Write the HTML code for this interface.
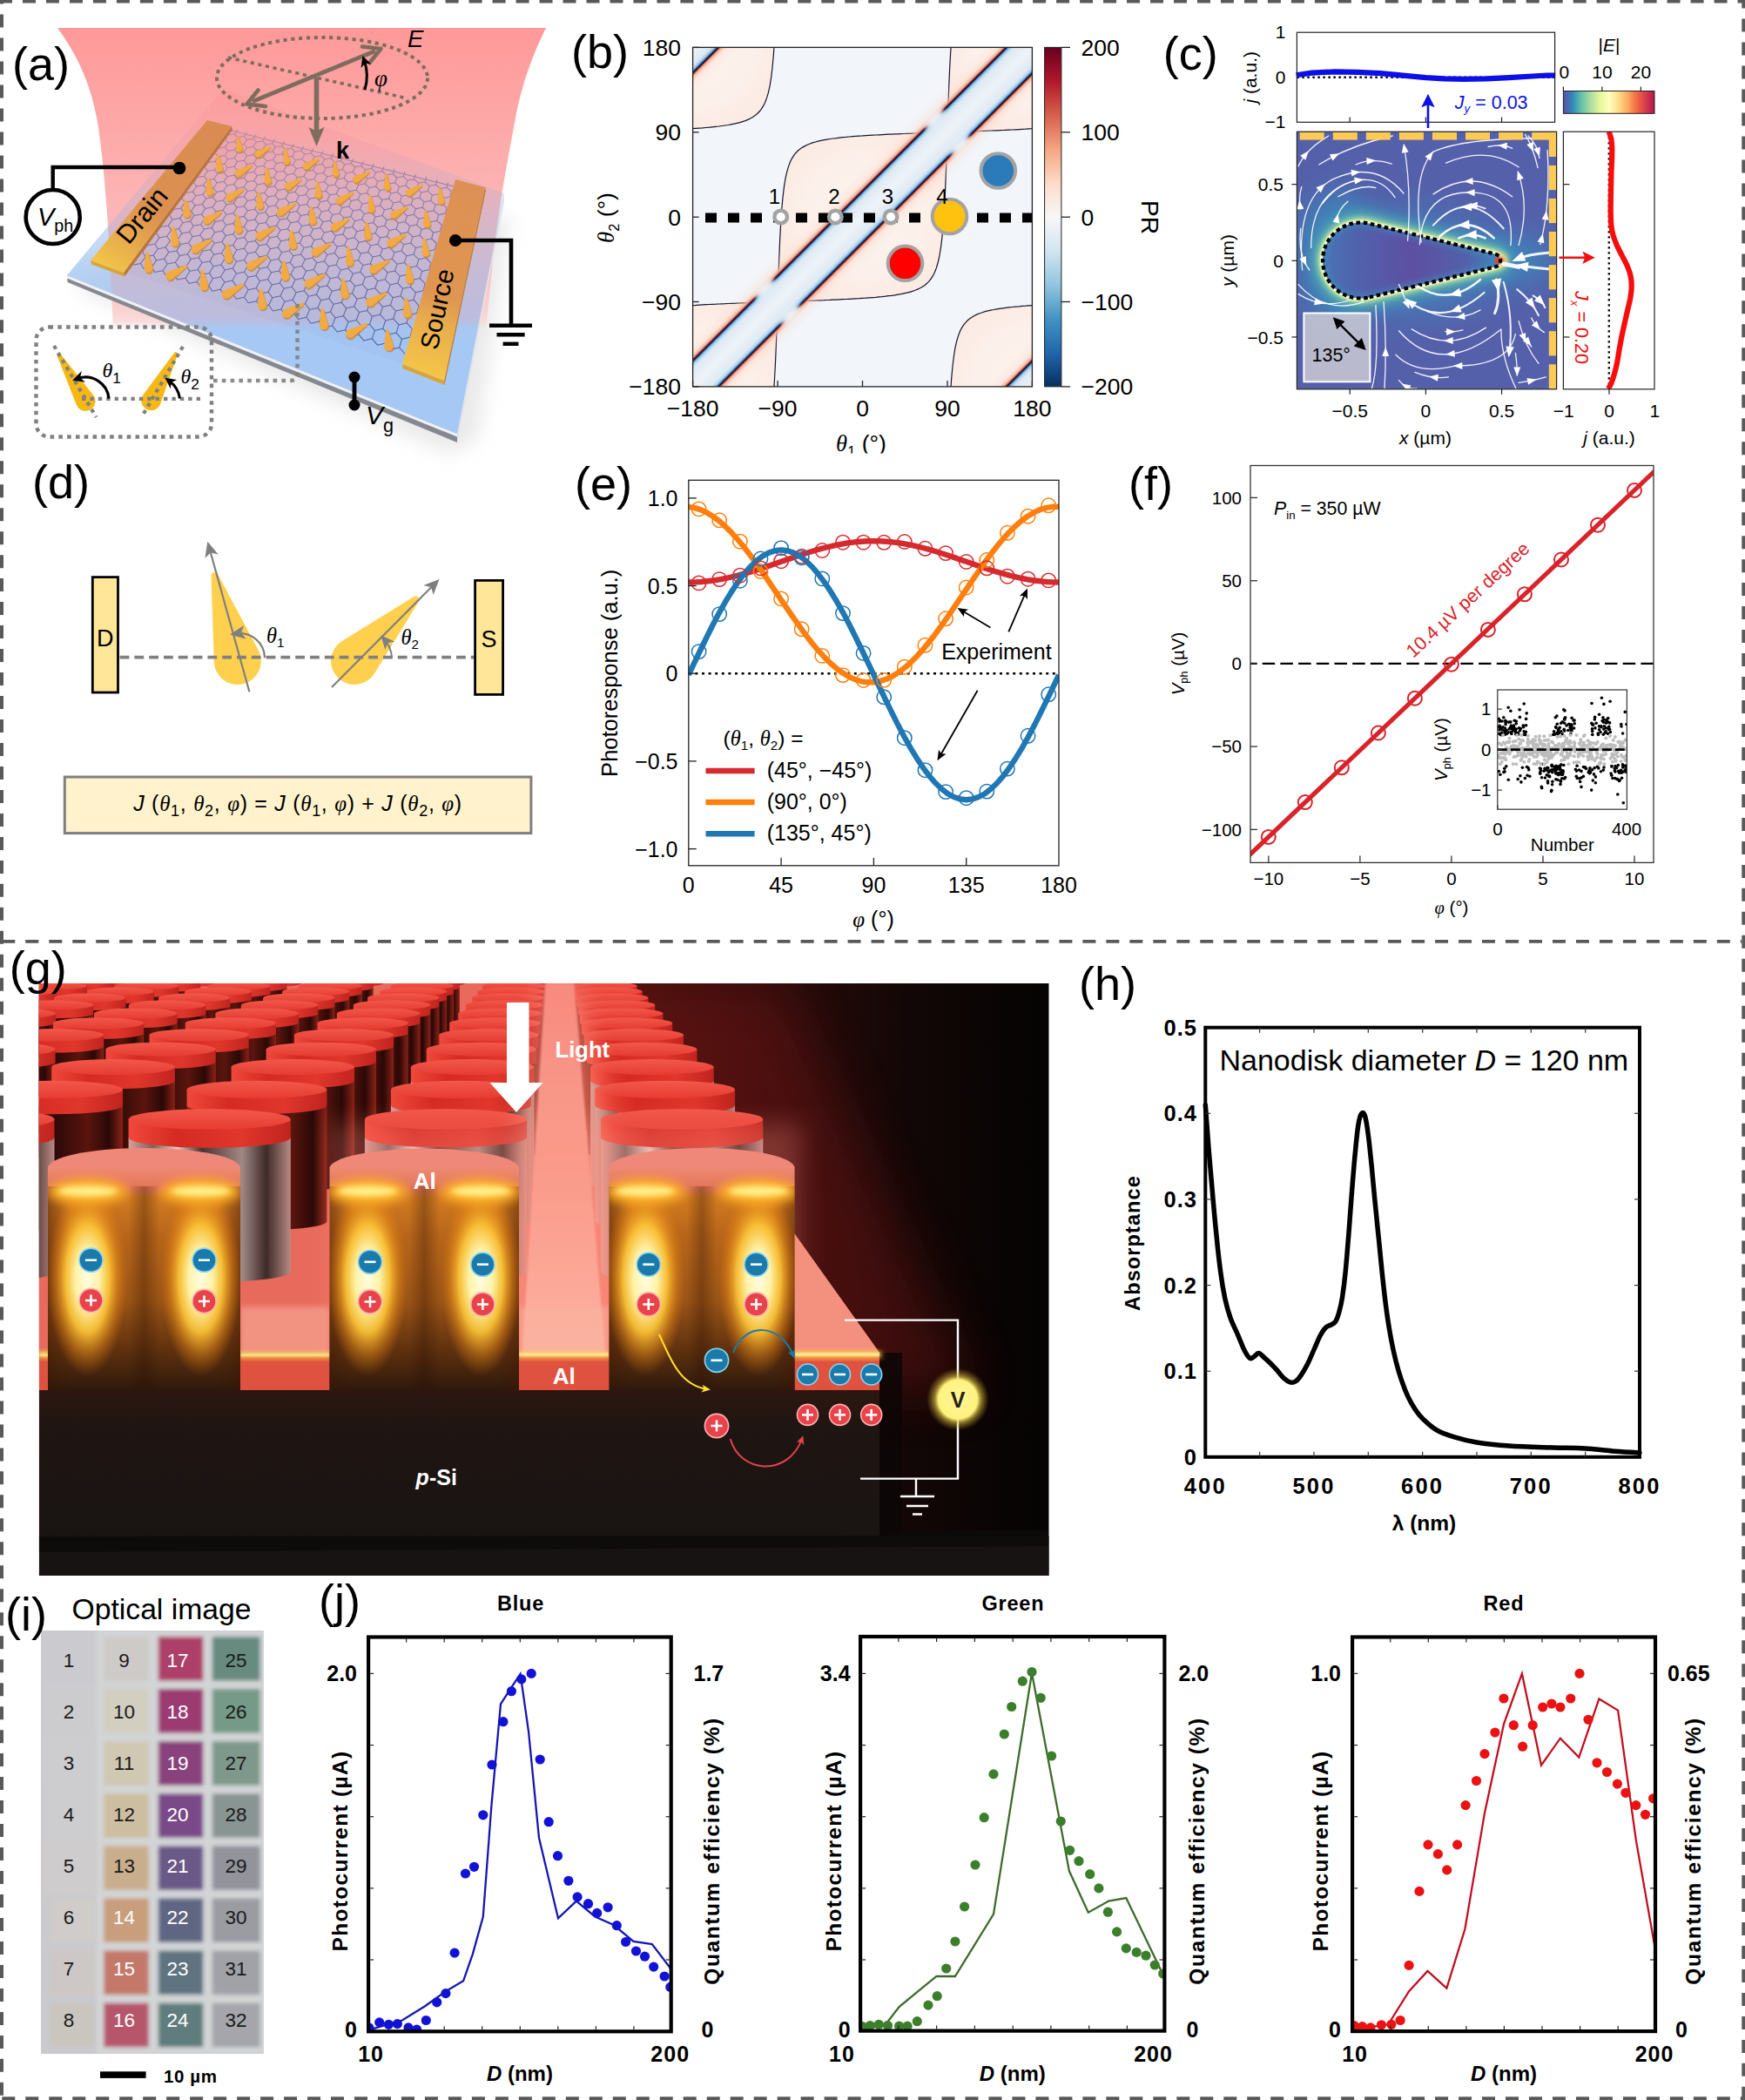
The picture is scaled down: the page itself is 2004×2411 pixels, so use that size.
<!DOCTYPE html>
<html><head><meta charset="utf-8"><title>Figure</title>
<style>
html,body{margin:0;padding:0;background:#fff;}
svg{display:block;font-family:"Liberation Sans", sans-serif;}
</style></head><body>
<svg width="2004" height="2411" viewBox="0 0 2004 2411">
<defs><clipPath id="blabclip"><rect x="900" y="490" width="200" height="30.500"/></clipPath></defs>
<rect width="2004" height="2411" fill="#fff"/>
<g id="frame"><line x1="0" y1="1.6" x2="2004" y2="1.6" stroke="#595959" stroke-width="3.6" stroke-dasharray="15 11.98" stroke-dashoffset="1"/>
<line x1="0" y1="2409.2" x2="2004" y2="2409.2" stroke="#595959" stroke-width="3.8" stroke-dasharray="15 11.98" stroke-dashoffset="-2.3"/>
<line x1="2" y1="0" x2="2" y2="2411" stroke="#595959" stroke-width="4" stroke-dasharray="15 11.98" stroke-dashoffset="-16.6"/>
<line x1="2002.2" y1="0" x2="2002.2" y2="2411" stroke="#595959" stroke-width="3.8" stroke-dasharray="15 11.98" stroke-dashoffset="-21.6"/>
<line x1="4" y1="1080.8" x2="2000" y2="1080.8" stroke="#595959" stroke-width="3.7" stroke-dasharray="15 11.98" stroke-dashoffset="1.7"/></g>
<g id="panel_a"><defs>
<linearGradient id="abeam" x1="0" y1="0" x2="0" y2="1"><stop offset="0" stop-color="#ff9999"/><stop offset="0.45" stop-color="#fdaeae"/><stop offset="0.75" stop-color="#fbbebe"/><stop offset="0.93" stop-color="#fbcfcf"/><stop offset="0.975" stop-color="#fbd6d6" stop-opacity="0.8"/><stop offset="1" stop-color="#fbd8d8" stop-opacity="0"/></linearGradient><linearGradient id="aover" x1="0" y1="0" x2="0" y2="1"><stop offset="0" stop-color="#ff8c8c" stop-opacity="0.3"/><stop offset="0.965" stop-color="#ff8c8c" stop-opacity="0.2"/><stop offset="1" stop-color="#ff8c8c" stop-opacity="0"/></linearGradient><clipPath id="aslabclip"><path d="M77,316 L256,102 L579,222 L525,498Z"/></clipPath>
<linearGradient id="aslab" gradientUnits="userSpaceOnUse" x1="0" y1="110" x2="0" y2="390"><stop offset="0" stop-color="#b4cdf0" stop-opacity="0"/><stop offset="0.18" stop-color="#b2ccf0" stop-opacity="0.12"/><stop offset="0.45" stop-color="#aecaf0" stop-opacity="0.5"/><stop offset="0.72" stop-color="#aac9f2" stop-opacity="0.85"/><stop offset="0.95" stop-color="#a8c8f3" stop-opacity="1"/><stop offset="1" stop-color="#a6c8f4" stop-opacity="1"/></linearGradient>
<linearGradient id="adrain" gradientUnits="userSpaceOnUse" x1="250" y1="140" x2="122" y2="306"><stop offset="0" stop-color="#d98b52"/><stop offset="0.6" stop-color="#dc9150"/><stop offset="0.8" stop-color="#e6a84c"/><stop offset="1" stop-color="#f2c448"/></linearGradient>
<linearGradient id="asrc" gradientUnits="userSpaceOnUse" x1="540" y1="210" x2="486" y2="428"><stop offset="0" stop-color="#dd9054"/><stop offset="0.6" stop-color="#e09650"/><stop offset="0.75" stop-color="#e9ae4c"/><stop offset="1" stop-color="#f4c548"/></linearGradient>
<linearGradient id="ahex" gradientUnits="userSpaceOnUse" x1="0" y1="150" x2="0" y2="420"><stop offset="0" stop-color="#7a6fa0" stop-opacity="0.55"/><stop offset="0.4" stop-color="#5a5c96" stop-opacity="0.8"/><stop offset="1" stop-color="#464e8c" stop-opacity="1"/></linearGradient>
<filter id="abl1" x="-30%" y="-30%" width="160%" height="160%"><feGaussianBlur stdDeviation="11"/></filter>
<filter id="abl2" x="-30%" y="-30%" width="160%" height="160%"><feGaussianBlur stdDeviation="2.5"/></filter>
<filter id="abl3" x="-30%" y="-30%" width="160%" height="160%"><feGaussianBlur stdDeviation="0.7"/></filter>
<marker id="aarr" viewBox="0 0 10 10" refX="5" refY="5" markerWidth="4.2" markerHeight="4.2" orient="auto-start-reverse"><path d="M0,0 L10,5 L0,10 L3,5 Z" fill="#000"/></marker>
</defs>
<path d="M85,330 L300,200 L585,250 L548,505 L515,520Z" fill="#d4d4d4" filter="url(#abl1)" opacity="0.5"/>
<path d="M66,32 L627,32 C612,62 600,95 593,130 C582,190 572,240 566,300 C562,340 560,360 558,378 L130,378 C129,350 127,310 124,260 C121,215 118,180 112,140 C104,95 88,62 66,32 Z" fill="url(#abeam)" />
<path d="M77,316 L525,498 L525,508 L77.5,324Z" fill="#85888f" />
<path d="M77,316 L525,498 L525,501.5 L77,319.5Z" fill="#eef2f6" />
<path d="M525,498 L579,222 L579,231 L525,508Z" fill="#dfe3e8" />
<path d="M77,316 L256,102 L579,222 L525,498Z" fill="url(#aslab)" />
<g clip-path="url(#aslabclip)"><path d="M66,32 L627,32 C612,62 600,95 593,130 C582,190 572,240 566,300 C562,340 560,360 558,378 L130,378 C129,350 127,310 124,260 C121,215 118,180 112,140 C104,95 88,62 66,32 Z" fill="url(#aover)" /></g>
<path d="M266,150 L521,214 L463,418 L146,313Z" fill="#7a6fa8" opacity="0.05"/>
<path d="M266,150 L271.3,151.3 L276.5,152.6 L281.8,154 L287.2,155.3 L292.5,156.7 L297.9,158 L303.3,159.4 L308.7,160.7 L314.2,162.1 L319.6,163.5 L325.1,164.8 L330.6,166.2 L336.1,167.6 L341.7,169 L347.3,170.4 L352.9,171.8 L358.5,173.2 L364.2,174.6 L369.9,176.1 L375.6,177.5 L381.3,178.9 L387,180.4 L392.8,181.8 L398.6,183.3 L404.4,184.7 L410.3,186.2 L416.2,187.7 L422.1,189.2 L428,190.7 L434,192.2 L440,193.7 L446,195.2 L452,196.7 L458.1,198.2 L464.2,199.7 L470.3,201.3 L476.4,202.8 L482.6,204.4 L488.8,205.9 L495,207.5 L501.3,209.1 L507.6,210.6 L513.9,212.2 L520.3,213.8 M273,148.9L269.5,153.8 M283.6,151.5L280.1,156.5 M294.2,154.2L290.8,159.2 M305,156.8L301.6,161.9 M315.8,159.5L312.5,164.7 M326.7,162.3L323.5,167.4 M337.7,165L334.6,170.2 M348.8,167.8L345.8,173 M360,170.6L357,175.9 M371.3,173.4L368.4,178.7 M382.7,176.3L379.9,181.6 M394.2,179.1L391.4,184.6 M405.8,182L403.1,187.5 M417.4,184.9L414.9,190.5 M429.2,187.9L426.8,193.5 M441.1,190.9L438.8,196.5 M453.1,193.9L450.9,199.5 M465.2,196.9L463.1,202.6 M477.5,199.9L475.4,205.7 M489.8,203L487.8,208.9 M502.2,206.1L500.4,212 M514.8,209.3L513,215.2 M262.4,155 L269.5,153.8 L273,157.6 L280.1,156.5 L283.7,160.4 L290.8,159.2 L294.5,163.1 L301.6,161.9 L305.4,165.9 L312.5,164.7 L316.3,168.6 L323.5,167.4 L327.4,171.4 L334.6,170.2 L338.6,174.3 L345.8,173 L349.9,177.1 L357,175.9 L361.2,180 L368.4,178.7 L372.7,182.9 L379.9,181.6 L384.2,185.8 L391.4,184.6 L395.9,188.8 L403.1,187.5 L407.7,191.8 L414.9,190.5 L419.6,194.8 L426.8,193.5 L431.5,197.8 L438.8,196.5 L443.6,200.9 L450.9,199.5 L455.8,204 L463.1,202.6 L468.2,207.1 L475.4,205.7 L480.6,210.2 L487.8,208.9 L493.1,213.4 L500.4,212 L505.8,216.6 L513,215.2 L518.5,219.8 M262.4,155L258.6,160 M273,157.6L269.3,162.7 M283.7,160.4L280.1,165.5 M294.5,163.1L291,168.3 M305.4,165.9L301.9,171.1 M316.3,168.6L313,173.9 M327.4,171.4L324.2,176.7 M338.6,174.3L335.4,179.6 M349.9,177.1L346.8,182.5 M361.2,180L358.2,185.5 M372.7,182.9L369.8,188.4 M384.2,185.8L381.4,191.4 M395.9,188.8L393.2,194.4 M407.7,191.8L405,197.4 M419.6,194.8L417,200.5 M431.5,197.8L429.1,203.6 M443.6,200.9L441.3,206.7 M455.8,204L453.6,209.8 M468.2,207.1L466,213 M480.6,210.2L478.5,216.2 M493.1,213.4L491.1,219.4 M505.8,216.6L503.9,222.7 M518.5,219.8L516.8,226 M258.6,160 L262.1,163.9 L269.3,162.7 L272.9,166.7 L280.1,165.5 L283.7,169.5 L291,168.3 L294.7,172.3 L301.9,171.1 L305.8,175.1 L313,173.9 L316.9,178 L324.2,176.7 L328.1,180.9 L335.4,179.6 L339.5,183.8 L346.8,182.5 L350.9,186.7 L358.2,185.5 L362.5,189.7 L369.8,188.4 L374.1,192.7 L381.4,191.4 L385.9,195.7 L393.2,194.4 L397.7,198.8 L405,197.4 L409.7,201.8 L417,200.5 L421.8,204.9 L429.1,203.6 L433.9,208.1 L441.3,206.7 L446.2,211.2 L453.6,209.8 L458.6,214.4 L466,213 L471.1,217.6 L478.5,216.2 L483.8,220.9 L491.1,219.4 L496.5,224.1 L503.9,222.7 L509.4,227.4 L516.8,226 M262.1,163.9L258.3,169.1 M272.9,166.7L269.2,171.9 M283.7,169.5L280.1,174.8 M294.7,172.3L291.2,177.6 M305.8,175.1L302.3,180.5 M316.9,178L313.5,183.4 M328.1,180.9L324.8,186.4 M339.5,183.8L336.3,189.3 M350.9,186.7L347.8,192.3 M362.5,189.7L359.4,195.3 M374.1,192.7L371.2,198.4 M385.9,195.7L383,201.4 M397.7,198.8L395,204.5 M409.7,201.8L407,207.7 M421.8,204.9L419.2,210.8 M433.9,208.1L431.5,214 M446.2,211.2L443.8,217.2 M458.6,214.4L456.3,220.5 M471.1,217.6L469,223.7 M483.8,220.9L481.7,227 M496.5,224.1L494.6,230.4 M509.4,227.4L507.5,233.7 M251,170.3 L258.3,169.1 L261.9,173.2 L269.2,171.9 L272.8,176 L280.1,174.8 L283.8,178.9 L291.2,177.6 L294.9,181.8 L302.3,180.5 L306.2,184.7 L313.5,183.4 L317.5,187.6 L324.8,186.4 L328.9,190.6 L336.3,189.3 L340.4,193.6 L347.8,192.3 L352,196.7 L359.4,195.3 L363.8,199.7 L371.2,198.4 L375.6,202.8 L383,201.4 L387.5,205.9 L395,204.5 L399.6,209 L407,207.7 L411.7,212.2 L419.2,210.8 L424,215.4 L431.5,214 L436.4,218.6 L443.8,217.2 L448.9,221.9 L456.3,220.5 L461.5,225.2 L469,223.7 L474.2,228.5 L481.7,227 L487.1,231.8 L494.6,230.4 L500.1,235.2 L507.5,233.7 L513.2,238.6 M251,170.3L247.1,175.6 M261.9,173.2L258,178.5 M272.8,176L269,181.4 M283.8,178.9L280.2,184.3 M294.9,181.8L291.4,187.3 M306.2,184.7L302.7,190.2 M317.5,187.6L314.1,193.2 M328.9,190.6L325.6,196.3 M340.4,193.6L337.2,199.3 M352,196.7L348.9,202.4 M363.8,199.7L360.7,205.5 M375.6,202.8L372.6,208.6 M387.5,205.9L384.6,211.8 M399.6,209L396.8,215 M411.7,212.2L409,218.2 M424,215.4L421.4,221.5 M436.4,218.6L433.9,224.8 M448.9,221.9L446.5,228.1 M461.5,225.2L459.2,231.4 M474.2,228.5L472.1,234.8 M487.1,231.8L485,238.2 M500.1,235.2L498.1,241.7 M513.2,238.6L511.3,245.1 M247.1,175.6 L250.6,179.8 L258,178.5 L261.6,182.7 L269,181.4 L272.7,185.6 L280.2,184.3 L283.9,188.6 L291.4,187.3 L295.2,191.5 L302.7,190.2 L306.6,194.6 L314.1,193.2 L318.1,197.6 L325.6,196.3 L329.7,200.7 L337.2,199.3 L341.4,203.7 L348.9,202.4 L353.2,206.9 L360.7,205.5 L365.1,210 L372.6,208.6 L377.1,213.2 L384.6,211.8 L389.3,216.4 L396.8,215 L401.5,219.6 L409,218.2 L413.9,222.9 L421.4,221.5 L426.3,226.2 L433.9,224.8 L438.9,229.5 L446.5,228.1 L451.7,232.9 L459.2,231.4 L464.5,236.3 L472.1,234.8 L477.4,239.7 L485,238.2 L490.5,243.2 L498.1,241.7 L503.7,246.7 L511.3,245.1 M250.6,179.8L246.7,185.2 M261.6,182.7L257.7,188.2 M272.7,185.6L268.9,191.2 M283.9,188.6L280.2,194.2 M295.2,191.5L291.5,197.2 M306.6,194.6L303,200.3 M318.1,197.6L314.6,203.4 M329.7,200.7L326.3,206.5 M341.4,203.7L338.1,209.6 M353.2,206.9L350,212.8 M365.1,210L362,216 M377.1,213.2L374.1,219.2 M389.3,216.4L386.3,222.5 M401.5,219.6L398.7,225.8 M413.9,222.9L411.1,229.1 M426.3,226.2L423.7,232.5 M438.9,229.5L436.4,235.9 M451.7,232.9L449.2,239.3 M464.5,236.3L462.2,242.8 M477.4,239.7L475.2,246.2 M490.5,243.2L488.4,249.8 M503.7,246.7L501.8,253.3 M239.1,186.5 L246.7,185.2 L250.2,189.5 L257.7,188.2 L261.4,192.5 L268.9,191.2 L272.6,195.5 L280.2,194.2 L284,198.5 L291.5,197.2 L295.4,201.6 L303,200.3 L307,204.7 L314.6,203.4 L318.7,207.8 L326.3,206.5 L330.5,211 L338.1,209.6 L342.4,214.2 L350,212.8 L354.4,217.4 L362,216 L366.5,220.7 L374.1,219.2 L378.7,223.9 L386.3,222.5 L391,227.3 L398.7,225.8 L403.5,230.6 L411.1,229.1 L416.1,234 L423.7,232.5 L428.8,237.4 L436.4,235.9 L441.6,240.8 L449.2,239.3 L454.5,244.3 L462.2,242.8 L467.6,247.8 L475.2,246.2 L480.7,251.3 L488.4,249.8 L494.1,254.9 L501.8,253.3 L507.5,258.5 M239.1,186.5L235,192.1 M250.2,189.5L246.2,195.1 M261.4,192.5L257.4,198.1 M272.6,195.5L268.8,201.2 M284,198.5L280.2,204.3 M295.4,201.6L291.7,207.4 M307,204.7L303.4,210.6 M318.7,207.8L315.2,213.8 M330.5,211L327,217 M342.4,214.2L339,220.3 M354.4,217.4L351.1,223.5 M366.5,220.7L363.3,226.8 M378.7,223.9L375.6,230.2 M391,227.3L388.1,233.5 M403.5,230.6L400.6,237 M416.1,234L413.3,240.4 M428.8,237.4L426.1,243.9 M441.6,240.8L439,247.4 M454.5,244.3L452.1,250.9 M467.6,247.8L465.2,254.5 M480.7,251.3L478.5,258.1 M494.1,254.9L492,261.7 M507.5,258.5L505.5,265.4 M235,192.1 L238.5,196.4 L246.2,195.1 L249.8,199.5 L257.4,198.1 L261.1,202.6 L268.8,201.2 L272.5,205.7 L280.2,204.3 L284.1,208.8 L291.7,207.4 L295.7,212 L303.4,210.6 L307.5,215.2 L315.2,213.8 L319.3,218.4 L327,217 L331.3,221.7 L339,220.3 L343.4,225 L351.1,223.5 L355.6,228.3 L363.3,226.8 L367.9,231.7 L375.6,230.2 L380.3,235 L388.1,233.5 L392.9,238.5 L400.6,237 L405.5,241.9 L413.3,240.4 L418.3,245.4 L426.1,243.9 L431.2,248.9 L439,247.4 L444.3,252.5 L452.1,250.9 L457.4,256 L465.2,254.5 L470.7,259.7 L478.5,258.1 L484.2,263.3 L492,261.7 L497.7,267 L505.5,265.4 M238.5,196.4L234.3,202.2 M249.8,199.5L245.7,205.3 M261.1,202.6L257.1,208.4 M272.5,205.7L268.6,211.6 M284.1,208.8L280.2,214.8 M295.7,212L292,218 M307.5,215.2L303.8,221.3 M319.3,218.4L315.8,224.6 M331.3,221.7L327.8,227.9 M343.4,225L340,231.2 M355.6,228.3L352.3,234.6 M367.9,231.7L364.7,238 M380.3,235L377.2,241.5 M392.9,238.5L389.9,245 M405.5,241.9L402.7,248.5 M418.3,245.4L415.6,252 M431.2,248.9L428.6,255.6 M444.3,252.5L441.7,259.2 M457.4,256L455,262.9 M470.7,259.7L468.4,266.6 M484.2,263.3L481.9,270.3 M497.7,267L495.6,274 M226.6,203.5 L234.3,202.2 L237.9,206.7 L245.7,205.3 L249.3,209.8 L257.1,208.4 L260.8,213 L268.6,211.6 L272.4,216.2 L280.2,214.8 L284.2,219.4 L292,218 L296,222.7 L303.8,221.3 L307.9,226 L315.8,224.6 L320,229.3 L327.8,227.9 L332.2,232.7 L340,231.2 L344.4,236.1 L352.3,234.6 L356.8,239.5 L364.7,238 L369.4,243 L377.2,241.5 L382,246.5 L389.9,245 L394.8,250 L402.7,248.5 L407.7,253.6 L415.6,252 L420.7,257.2 L428.6,255.6 L433.8,260.8 L441.7,259.2 L447.1,264.5 L455,262.9 L460.5,268.2 L468.4,266.6 L474,271.9 L481.9,270.3 L487.7,275.7 L495.6,274 L501.5,279.5 M226.6,203.5L222.3,209.4 M237.9,206.7L233.6,212.6 M249.3,209.8L245.1,215.8 M260.8,213L256.7,219 M272.4,216.2L268.4,222.3 M284.2,219.4L280.2,225.6 M296,222.7L292.2,228.9 M307.9,226L304.2,232.3 M320,229.3L316.4,235.7 M332.2,232.7L328.6,239.1 M344.4,236.1L341,242.6 M356.8,239.5L353.5,246.1 M369.4,243L366.1,249.6 M382,246.5L378.9,253.2 M394.8,250L391.7,256.7 M407.7,253.6L404.7,260.4 M420.7,257.2L417.9,264 M433.8,260.8L431.1,267.7 M447.1,264.5L444.5,271.5 M460.5,268.2L458,275.3 M474,271.9L471.7,279.1 M487.7,275.7L485.5,282.9 M501.5,279.5L499.4,286.8 M222.3,209.4 L225.8,214 L233.6,212.6 L237.2,217.2 L245.1,215.8 L248.8,220.5 L256.7,219 L260.5,223.7 L268.4,222.3 L272.3,227.1 L280.2,225.6 L284.2,230.4 L292.2,228.9 L296.3,233.8 L304.2,232.3 L308.4,237.2 L316.4,235.7 L320.7,240.6 L328.6,239.1 L333,244.1 L341,242.6 L345.5,247.6 L353.5,246.1 L358.1,251.2 L366.1,249.6 L370.9,254.7 L378.9,253.2 L383.7,258.3 L391.7,256.7 L396.7,262 L404.7,260.4 L409.8,265.7 L417.9,264 L423.1,269.4 L431.1,267.7 L436.5,273.1 L444.5,271.5 L450,276.9 L458,275.3 L463.6,280.8 L471.7,279.1 L477.4,284.6 L485.5,282.9 L491.3,288.6 L499.4,286.8 M225.8,214L221.4,220.1 M237.2,217.2L232.9,223.3 M248.8,220.5L244.6,226.6 M260.5,223.7L256.4,230 M272.3,227.1L268.3,233.4 M284.2,230.4L280.3,236.8 M296.3,233.8L292.4,240.2 M308.4,237.2L304.6,243.7 M320.7,240.6L317,247.2 M333,244.1L329.5,250.7 M345.5,247.6L342.1,254.3 M358.1,251.2L354.8,257.9 M370.9,254.7L367.6,261.5 M383.7,258.3L380.6,265.2 M396.7,262L393.7,268.9 M409.8,265.7L406.9,272.7 M423.1,269.4L420.3,276.5 M436.5,273.1L433.8,280.3 M450,276.9L447.4,284.2 M463.6,280.8L461.2,288.1 M477.4,284.6L475.1,292 M491.3,288.6L489.1,296 M213.4,221.5 L221.4,220.1 L224.9,224.8 L232.9,223.3 L236.6,228.1 L244.6,226.6 L248.4,231.5 L256.4,230 L260.2,234.9 L268.3,233.4 L272.2,238.3 L280.3,236.8 L284.3,241.7 L292.4,240.2 L296.6,245.2 L304.6,243.7 L308.9,248.7 L317,247.2 L321.4,252.3 L329.5,250.7 L333.9,255.9 L342.1,254.3 L346.7,259.5 L354.8,257.9 L359.5,263.2 L367.6,261.5 L372.4,266.9 L380.6,265.2 L385.5,270.6 L393.7,268.9 L398.8,274.4 L406.9,272.7 L412.1,278.2 L420.3,276.5 L425.6,282 L433.8,280.3 L439.2,285.9 L447.4,284.2 L453,289.8 L461.2,288.1 L466.9,293.8 L475.1,292 L480.9,297.8 L489.1,296 L495.1,301.8 M213.4,221.5L208.8,227.7 M224.9,224.8L220.4,231 M236.6,228.1L232.2,234.4 M248.4,231.5L244,237.8 M260.2,234.9L256,241.3 M272.2,238.3L268.1,244.8 M284.3,241.7L280.3,248.3 M296.6,245.2L292.6,251.9 M308.9,248.7L305.1,255.4 M321.4,252.3L317.6,259.1 M333.9,255.9L330.3,262.7 M346.7,259.5L343.1,266.4 M359.5,263.2L356.1,270.1 M372.4,266.9L369.1,273.9 M385.5,270.6L382.3,277.7 M398.8,274.4L395.7,281.6 M412.1,278.2L409.1,285.4 M425.6,282L422.7,289.4 M439.2,285.9L436.5,293.3 M453,289.8L450.4,297.3 M466.9,293.8L464.4,301.4 M480.9,297.8L478.6,305.5 M495.1,301.8L492.9,309.6 M208.8,227.7 L212.3,232.5 L220.4,231 L224,235.9 L232.2,234.4 L235.9,239.4 L244,237.8 L247.9,242.8 L256,241.3 L259.9,246.3 L268.1,244.8 L272.1,249.9 L280.3,248.3 L284.4,253.4 L292.6,251.9 L296.9,257 L305.1,255.4 L309.4,260.7 L317.6,259.1 L322.1,264.3 L330.3,262.7 L334.9,268 L343.1,266.4 L347.8,271.8 L356.1,270.1 L360.9,275.6 L369.1,273.9 L374.1,279.4 L382.3,277.7 L387.4,283.3 L395.7,281.6 L400.9,287.2 L409.1,285.4 L414.4,291.1 L422.7,289.4 L428.2,295.1 L436.5,293.3 L442.1,299.1 L450.4,297.3 L456.1,303.2 L464.4,301.4 L470.3,307.3 L478.6,305.5 L484.6,311.4 L492.9,309.6 M212.3,232.5L207.7,238.9 M224,235.9L219.5,242.4 M235.9,239.4L231.4,245.9 M247.9,242.8L243.5,249.4 M259.9,246.3L255.6,253 M272.1,249.9L267.9,256.6 M284.4,253.4L280.3,260.2 M296.9,257L292.9,263.9 M309.4,260.7L305.5,267.6 M322.1,264.3L318.3,271.3 M334.9,268L331.2,275.1 M347.8,271.8L344.2,278.9 M360.9,275.6L357.4,282.8 M374.1,279.4L370.7,286.7 M387.4,283.3L384.2,290.6 M400.9,287.2L397.7,294.6 M414.4,291.1L411.5,298.6 M428.2,295.1L425.3,302.7 M442.1,299.1L439.3,306.8 M456.1,303.2L453.5,310.9 M470.3,307.3L467.8,315.1 M484.6,311.4L482.2,319.4 M199.4,240.5 L207.7,238.9 L211.2,243.9 L219.5,242.4 L223.1,247.4 L231.4,245.9 L235.2,251 L243.5,249.4 L247.3,254.6 L255.6,253 L259.6,258.2 L267.9,256.6 L272,261.8 L280.3,260.2 L284.5,265.5 L292.9,263.9 L297.2,269.2 L305.5,267.6 L309.9,273 L318.3,271.3 L322.8,276.8 L331.2,275.1 L335.9,280.6 L344.2,278.9 L349,284.5 L357.4,282.8 L362.3,288.4 L370.7,286.7 L375.7,292.4 L384.2,290.6 L389.3,296.4 L397.7,294.6 L403,300.4 L411.5,298.6 L416.9,304.5 L425.3,302.7 L430.9,308.6 L439.3,306.8 L445,312.8 L453.5,310.9 L459.3,317 L467.8,315.1 L473.7,321.3 L482.2,319.4 L488.3,325.6 M199.4,240.5L194.6,247 M211.2,243.9L206.5,250.6 M223.1,247.4L218.5,254.1 M235.2,251L230.6,257.7 M247.3,254.6L242.9,261.4 M259.6,258.2L255.2,265.1 M272,261.8L267.7,268.8 M284.5,265.5L280.4,272.6 M297.2,269.2L293.1,276.4 M309.9,273L306,280.2 M322.8,276.8L319,284.1 M335.9,280.6L332.1,288 M349,284.5L345.4,291.9 M362.3,288.4L358.8,295.9 M375.7,292.4L372.4,300 M389.3,296.4L386,304 M403,300.4L399.9,308.1 M416.9,304.5L413.8,312.3 M430.9,308.6L428,316.5 M445,312.8L442.2,320.8 M459.3,317L456.7,325.1 M473.7,321.3L471.3,329.4 M488.3,325.6L486,333.8 M194.6,247 L198.1,252.1 L206.5,250.6 L210.1,255.7 L218.5,254.1 L222.2,259.3 L230.6,257.7 L234.4,263 L242.9,261.4 L246.8,266.7 L255.2,265.1 L259.3,270.4 L267.7,268.8 L271.9,274.2 L280.4,272.6 L284.6,278 L293.1,276.4 L297.5,281.9 L306,280.2 L310.5,285.8 L319,284.1 L323.6,289.7 L332.1,288 L336.9,293.7 L345.4,291.9 L350.3,297.7 L358.8,295.9 L363.8,301.7 L372.4,300 L377.5,305.8 L386,304 L391.3,310 L399.9,308.1 L405.3,314.2 L413.8,312.3 L419.4,318.4 L428,316.5 L433.7,322.7 L442.2,320.8 L448.1,327 L456.7,325.1 L462.6,331.3 L471.3,329.4 L477.4,335.8 L486,333.8 M198.1,252.1L193.2,258.9 M210.1,255.7L205.3,262.6 M222.2,259.3L217.5,266.3 M234.4,263L229.8,270 M246.8,266.7L242.3,273.8 M259.3,270.4L254.8,277.6 M271.9,274.2L267.6,281.4 M284.6,278L280.4,285.3 M297.5,281.9L293.4,289.2 M310.5,285.8L306.5,293.2 M323.6,289.7L319.7,297.2 M336.9,293.7L333.1,301.3 M350.3,297.7L346.6,305.4 M363.8,301.7L360.2,309.5 M377.5,305.8L374,313.7 M391.3,310L388,317.9 M405.3,314.2L402.1,322.2 M419.4,318.4L416.3,326.5 M433.7,322.7L430.7,330.8 M448.1,327L445.3,335.3 M462.6,331.3L460,339.7 M477.4,335.8L474.9,344.2 M184.6,260.5 L193.2,258.9 L196.7,264.2 L205.3,262.6 L208.9,267.9 L217.5,266.3 L221.2,271.7 L229.8,270 L233.7,275.4 L242.3,273.8 L246.3,279.3 L254.8,277.6 L259,283.1 L267.6,281.4 L271.8,287 L280.4,285.3 L284.7,291 L293.4,289.2 L297.8,295 L306.5,293.2 L311.1,299 L319.7,297.2 L324.4,303.1 L333.1,301.3 L337.9,307.2 L346.6,305.4 L351.6,311.3 L360.2,309.5 L365.4,315.5 L374,313.7 L379.3,319.8 L388,317.9 L393.4,324.1 L402.1,322.2 L407.6,328.4 L416.3,326.5 L422,332.8 L430.7,330.8 L436.5,337.2 L445.3,335.3 L451.2,341.7 L460,339.7 L466.1,346.2 L474.9,344.2 L481.1,350.8 M184.6,260.5L179.5,267.5 M196.7,264.2L191.7,271.2 M208.9,267.9L204,275 M221.2,271.7L216.4,278.8 M233.7,275.4L229,282.7 M246.3,279.3L241.6,286.6 M259,283.1L254.4,290.5 M271.8,287L267.4,294.5 M284.7,291L280.4,298.5 M297.8,295L293.6,302.6 M311.1,299L307,306.7 M324.4,303.1L320.4,310.9 M337.9,307.2L334.1,315.1 M351.6,311.3L347.8,319.3 M365.4,315.5L361.7,323.6 M379.3,319.8L375.8,327.9 M393.4,324.1L390,332.3 M407.6,328.4L404.4,336.7 M422,332.8L418.9,341.2 M436.5,337.2L433.6,345.7 M451.2,341.7L448.4,350.3 M466.1,346.2L463.5,354.9 M481.1,350.8L478.6,359.6 M179.5,267.5 L183,272.9 L191.7,271.2 L195.3,276.7 L204,275 L207.7,280.5 L216.4,278.8 L220.2,284.4 L229,282.7 L232.9,288.3 L241.6,286.6 L245.7,292.3 L254.4,290.5 L258.6,296.3 L267.4,294.5 L271.7,300.3 L280.4,298.5 L284.8,304.4 L293.6,302.6 L298.2,308.5 L307,306.7 L311.6,312.7 L320.4,310.9 L325.2,316.9 L334.1,315.1 L339,321.2 L347.8,319.3 L352.9,325.5 L361.7,323.6 L367,329.8 L375.8,327.9 L381.2,334.2 L390,332.3 L395.5,338.7 L404.4,336.7 L410,343.2 L418.9,341.2 L424.7,347.7 L433.6,345.7 L439.5,352.3 L448.4,350.3 L454.5,357 L463.5,354.9 L469.7,361.7 L478.6,359.6 M183,272.9L177.8,280.1 M195.3,276.7L190.2,283.9 M207.7,280.5L202.7,287.9 M220.2,284.4L215.3,291.8 M232.9,288.3L228.1,295.8 M245.7,292.3L241,299.9 M258.6,296.3L254,303.9 M271.7,300.3L267.2,308.1 M284.8,304.4L280.5,312.2 M298.2,308.5L293.9,316.4 M311.6,312.7L307.5,320.7 M325.2,316.9L321.2,325 M339,321.2L335.1,329.3 M352.9,325.5L349.1,333.7 M367,329.8L363.3,338.2 M381.2,334.2L377.6,342.7 M395.5,338.7L392.1,347.2 M410,343.2L406.8,351.8 M424.7,347.7L421.6,356.5 M439.5,352.3L436.6,361.2 M454.5,357L451.7,365.9 M469.7,361.7L467,370.7 M169,281.8 L177.8,280.1 L181.4,285.7 L190.2,283.9 L193.8,289.6 L202.7,287.9 L206.5,293.6 L215.3,291.8 L219.2,297.6 L228.1,295.8 L232.1,301.6 L241,299.9 L245.1,305.8 L254,303.9 L258.2,309.9 L267.2,308.1 L271.5,314.1 L280.5,312.2 L285,318.3 L293.9,316.4 L298.5,322.6 L307.5,320.7 L312.2,326.9 L321.2,325 L326.1,331.3 L335.1,329.3 L340.1,335.7 L349.1,333.7 L354.3,340.2 L363.3,338.2 L368.6,344.7 L377.6,342.7 L383.1,349.3 L392.1,347.2 L397.7,353.9 L406.8,351.8 L412.5,358.5 L421.6,356.5 L427.5,363.3 L436.6,361.2 L442.7,368 L451.7,365.9 L458,372.9 L467,370.7 L473.4,377.7 M169,281.8L163.6,289.1 M181.4,285.7L176,293.1 M193.8,289.6L188.6,297.1 M206.5,293.6L201.3,301.2 M219.2,297.6L214.2,305.3 M232.1,301.6L227.2,309.4 M245.1,305.8L240.3,313.6 M258.2,309.9L253.5,317.8 M271.5,314.1L266.9,322.1 M285,318.3L280.5,326.4 M298.5,322.6L294.2,330.8 M312.2,326.9L308,335.2 M326.1,331.3L322,339.7 M340.1,335.7L336.2,344.2 M354.3,340.2L350.5,348.7 M368.6,344.7L364.9,353.4 M383.1,349.3L379.5,358 M397.7,353.9L394.3,362.7 M412.5,358.5L409.3,367.5 M427.5,363.3L424.4,372.3 M442.7,368L439.7,377.2 M458,372.9L455.1,382.1 M473.4,377.7L470.8,387.1 M163.6,289.1 L167.1,294.9 L176,293.1 L179.6,298.9 L188.6,297.1 L192.3,303 L201.3,301.2 L205.2,307.1 L214.2,305.3 L218.1,311.3 L227.2,309.4 L231.2,315.5 L240.3,313.6 L244.5,319.7 L253.5,317.8 L257.9,324 L266.9,322.1 L271.4,328.4 L280.5,326.4 L285.1,332.7 L294.2,330.8 L298.9,337.2 L308,335.2 L312.9,341.7 L322,339.7 L327,346.2 L336.2,344.2 L341.3,350.8 L350.5,348.7 L355.7,355.4 L364.9,353.4 L370.3,360.1 L379.5,358 L385.1,364.8 L394.3,362.7 L400.1,369.6 L409.3,367.5 L415.2,374.5 L424.4,372.3 L430.4,379.4 L439.7,377.2 L445.9,384.3 L455.1,382.1 L461.5,389.4 L470.8,387.1 M167.1,294.9L161.5,302.5 M179.6,298.9L174.2,306.6 M192.3,303L187,310.8 M205.2,307.1L199.9,315 M218.1,311.3L213,319.2 M231.2,315.5L226.2,323.5 M244.5,319.7L239.6,327.9 M257.9,324L253.1,332.2 M271.4,328.4L266.7,336.7 M285.1,332.7L280.5,341.2 M298.9,337.2L294.5,345.7 M312.9,341.7L308.6,350.3 M327,346.2L322.8,354.9 M341.3,350.8L337.3,359.6 M355.7,355.4L351.8,364.3 M370.3,360.1L366.6,369.1 M385.1,364.8L381.5,373.9 M400.1,369.6L396.6,378.8 M415.2,374.5L411.8,383.8 M430.4,379.4L427.3,388.8 M445.9,384.3L442.9,393.9 M461.5,389.4L458.7,399 M152.4,304.3 L161.5,302.5 L165,308.5 L174.2,306.6 L177.8,312.6 L187,310.8 L190.8,316.9 L199.9,315 L203.8,321.1 L213,319.2 L217,325.4 L226.2,323.5 L230.4,329.8 L239.6,327.9 L243.8,334.2 L253.1,332.2 L257.5,338.7 L266.7,336.7 L271.3,343.2 L280.5,341.2 L285.2,347.7 L294.5,345.7 L299.3,352.3 L308.6,350.3 L313.5,357 L322.8,354.9 L327.9,361.7 L337.3,359.6 L342.5,366.4 L351.8,364.3 L357.2,371.2 L366.6,369.1 L372.1,376.1 L381.5,373.9 L387.2,381 L396.6,378.8 L402.5,386 L411.8,383.8 L417.9,391.1 L427.3,388.8 L433.5,396.2 L442.9,393.9 L449.3,401.3 L458.7,399 L465.2,406.5" fill="none" stroke="url(#ahex)" stroke-width="1.05" opacity="0.9" stroke-linejoin="round"/>
<path d="M279.7,171.8 L275.6,159.1 A1.1,1.1 0 0 0 273.5,159.3 L272.2,172.6 A3.8,3.8 0 1 0 279.7,171.8Z" fill="#c98a3c" opacity="0.8"/>
<path d="M278.5,169.8 L274.5,157.3 A1.1,1.1 0 0 0 272.4,157.5 L271,170.6 A3.8,3.8 0 1 0 278.5,169.8Z" fill="#f2aa44" />
<path d="M299.9,181.5 L311.3,170.6 A1.1,1.1 0 0 0 310.2,168.8 L295.7,175.2 A3.9,3.9 0 1 0 299.9,181.5Z" fill="#c98a3c" opacity="0.8"/>
<path d="M298.7,179.6 L311.3,169.3 A1.1,1.1 0 0 0 310.2,167.5 L294.9,172.9 A3.9,3.9 0 1 0 298.7,179.6Z" fill="#f2aa44" />
<path d="M333.9,185.8 L329.8,172.9 A1.1,1.1 0 0 0 327.6,173.1 L326.3,186.6 A3.9,3.9 0 1 0 333.9,185.8Z" fill="#c98a3c" opacity="0.8"/>
<path d="M332.7,183.8 L328.7,171.1 A1.1,1.1 0 0 0 326.6,171.3 L325.1,184.5 A3.9,3.9 0 1 0 332.7,183.8Z" fill="#f2aa44" />
<path d="M355.2,195.8 L366.8,184.8 A1.1,1.1 0 0 0 365.6,183 L350.9,189.4 A3.9,3.9 0 1 0 355.2,195.8Z" fill="#c98a3c" opacity="0.8"/>
<path d="M354,193.8 L366.7,183.5 A1.1,1.1 0 0 0 365.7,181.6 L350.2,187.1 A3.9,3.9 0 1 0 354,193.8Z" fill="#f2aa44" />
<path d="M390.5,200.3 L386.3,187.3 A1.1,1.1 0 0 0 384.2,187.5 L382.8,201.1 A3.9,3.9 0 1 0 390.5,200.3Z" fill="#c98a3c" opacity="0.8"/>
<path d="M389.3,198.3 L385.2,185.5 A1.1,1.1 0 0 0 383.1,185.7 L381.6,199.1 A3.9,3.9 0 1 0 389.3,198.3Z" fill="#f2aa44" />
<path d="M412.9,210.7 L424.7,199.6 A1.1,1.1 0 0 0 423.5,197.7 L408.6,204.2 A4,4 0 1 0 412.9,210.7Z" fill="#c98a3c" opacity="0.8"/>
<path d="M411.7,208.7 L424.6,198.2 A1.1,1.1 0 0 0 423.6,196.3 L407.9,201.9 A4,4 0 1 0 411.7,208.7Z" fill="#f2aa44" />
<path d="M449.6,215.5 L445.4,202.4 A1.1,1.1 0 0 0 443.2,202.6 L441.8,216.3 A4,4 0 1 0 449.6,215.5Z" fill="#c98a3c" opacity="0.8"/>
<path d="M448.4,213.5 L444.3,200.5 A1.1,1.1 0 0 0 442.1,200.7 L440.6,214.3 A4,4 0 1 0 448.4,213.5Z" fill="#f2aa44" />
<path d="M473.3,226.3 L485.2,215 A1.1,1.1 0 0 0 484,213.2 L469,219.7 A4,4 0 1 0 473.3,226.3Z" fill="#c98a3c" opacity="0.8"/>
<path d="M472.1,224.3 L485.2,213.7 A1.1,1.1 0 0 0 484.1,211.8 L468.2,217.4 A4,4 0 1 0 472.1,224.3Z" fill="#f2aa44" />
<path d="M511.4,231.4 L507.2,218.1 A1.1,1.1 0 0 0 505,218.3 L503.6,232.2 A4,4 0 1 0 511.4,231.4Z" fill="#c98a3c" opacity="0.8"/>
<path d="M510.2,229.4 L506,216.2 A1.1,1.1 0 0 0 503.8,216.5 L502.4,230.2 A4,4 0 1 0 510.2,229.4Z" fill="#f2aa44" />
<path d="M256.9,193.7 L252.6,180.3 A1.1,1.1 0 0 0 250.4,180.5 L249,194.5 A4.1,4.1 0 1 0 256.9,193.7Z" fill="#c98a3c" opacity="0.8"/>
<path d="M255.7,191.7 L251.5,178.4 A1.1,1.1 0 0 0 249.3,178.6 L247.8,192.5 A4.1,4.1 0 1 0 255.7,191.7Z" fill="#f2aa44" />
<path d="M277.4,204.1 L289.6,192.6 A1.1,1.1 0 0 0 288.4,190.7 L273,197.3 A4.1,4.1 0 1 0 277.4,204.1Z" fill="#c98a3c" opacity="0.8"/>
<path d="M276.2,202.1 L289.5,191.2 A1.1,1.1 0 0 0 288.4,189.3 L272.2,195 A4.1,4.1 0 1 0 276.2,202.1Z" fill="#f2aa44" />
<path d="M312.5,208.6 L308.2,195.1 A1.1,1.1 0 0 0 306,195.3 L304.5,209.4 A4.1,4.1 0 1 0 312.5,208.6Z" fill="#c98a3c" opacity="0.8"/>
<path d="M311.3,206.6 L307.1,193.2 A1.1,1.1 0 0 0 304.8,193.4 L303.3,207.4 A4.1,4.1 0 1 0 311.3,206.6Z" fill="#f2aa44" />
<path d="M334.2,219.4 L346.6,207.8 A1.2,1.2 0 0 0 345.3,205.9 L329.8,212.5 A4.1,4.1 0 1 0 334.2,219.4Z" fill="#c98a3c" opacity="0.8"/>
<path d="M333,217.4 L346.5,206.4 A1.2,1.2 0 0 0 345.4,204.4 L329,210.3 A4.1,4.1 0 1 0 333,217.4Z" fill="#f2aa44" />
<path d="M370.7,224.2 L366.4,210.6 A1.2,1.2 0 0 0 364.1,210.8 L362.6,225 A4.2,4.2 0 1 0 370.7,224.2Z" fill="#c98a3c" opacity="0.8"/>
<path d="M369.5,222.2 L365.2,208.6 A1.2,1.2 0 0 0 362.9,208.8 L361.4,223 A4.2,4.2 0 1 0 369.5,222.2Z" fill="#f2aa44" />
<path d="M393.6,235.3 L406.1,223.6 A1.2,1.2 0 0 0 404.9,221.7 L389.1,228.4 A4.2,4.2 0 1 0 393.6,235.3Z" fill="#c98a3c" opacity="0.8"/>
<path d="M392.4,233.3 L406.1,222.2 A1.2,1.2 0 0 0 404.9,220.2 L388.4,226.2 A4.2,4.2 0 1 0 392.4,233.3Z" fill="#f2aa44" />
<path d="M431.6,240.5 L427.2,226.7 A1.2,1.2 0 0 0 424.9,227 L423.4,241.4 A4.2,4.2 0 1 0 431.6,240.5Z" fill="#c98a3c" opacity="0.8"/>
<path d="M430.4,238.5 L426,224.8 A1.2,1.2 0 0 0 423.7,225 L422.2,239.4 A4.2,4.2 0 1 0 430.4,238.5Z" fill="#f2aa44" />
<path d="M455.8,252.1 L468.5,240.3 A1.2,1.2 0 0 0 467.2,238.3 L451.3,245.1 A4.2,4.2 0 1 0 455.8,252.1Z" fill="#c98a3c" opacity="0.8"/>
<path d="M454.6,250.1 L468.4,238.8 A1.2,1.2 0 0 0 467.3,236.8 L450.5,242.8 A4.2,4.2 0 1 0 454.6,250.1Z" fill="#f2aa44" />
<path d="M495.3,257.6 L490.9,243.7 A1.2,1.2 0 0 0 488.6,243.9 L487,258.5 A4.3,4.3 0 1 0 495.3,257.6Z" fill="#c98a3c" opacity="0.8"/>
<path d="M494.1,255.6 L489.7,241.7 A1.2,1.2 0 0 0 487.4,241.9 L485.8,256.5 A4.3,4.3 0 1 0 494.1,255.6Z" fill="#f2aa44" />
<path d="M245.9,220.9 L241.5,206.9 A1.2,1.2 0 0 0 239.1,207.1 L237.5,221.8 A4.3,4.3 0 1 0 245.9,220.9Z" fill="#c98a3c" opacity="0.8"/>
<path d="M244.7,218.9 L240.3,204.9 A1.2,1.2 0 0 0 237.9,205.1 L236.3,219.8 A4.3,4.3 0 1 0 244.7,218.9Z" fill="#f2aa44" />
<path d="M267.1,232.1 L280,220.1 A1.2,1.2 0 0 0 278.7,218.1 L262.4,224.9 A4.3,4.3 0 1 0 267.1,232.1Z" fill="#c98a3c" opacity="0.8"/>
<path d="M265.8,230.1 L280,218.6 A1.2,1.2 0 0 0 278.8,216.5 L261.7,222.6 A4.3,4.3 0 1 0 265.8,230.1Z" fill="#f2aa44" />
<path d="M303.7,237.1 L299.2,222.9 A1.2,1.2 0 0 0 296.8,223.1 L295.2,238 A4.3,4.3 0 1 0 303.7,237.1Z" fill="#c98a3c" opacity="0.8"/>
<path d="M302.5,235.1 L298,220.9 A1.2,1.2 0 0 0 295.6,221.1 L294,236 A4.3,4.3 0 1 0 302.5,235.1Z" fill="#f2aa44" />
<path d="M326.1,248.7 L339.2,236.6 A1.2,1.2 0 0 0 337.9,234.5 L321.4,241.4 A4.4,4.4 0 1 0 326.1,248.7Z" fill="#c98a3c" opacity="0.8"/>
<path d="M324.9,246.7 L339.2,235.1 A1.2,1.2 0 0 0 338,233 L320.7,239.2 A4.4,4.4 0 1 0 324.9,246.7Z" fill="#f2aa44" />
<path d="M364.2,254.1 L359.7,239.7 A1.2,1.2 0 0 0 357.3,240 L355.6,254.9 A4.4,4.4 0 1 0 364.2,254.1Z" fill="#c98a3c" opacity="0.8"/>
<path d="M363,252.1 L358.4,237.7 A1.2,1.2 0 0 0 356.1,237.9 L354.4,252.9 A4.4,4.4 0 1 0 363,252.1Z" fill="#f2aa44" />
<path d="M388,266.1 L401.2,253.8 A1.2,1.2 0 0 0 399.9,251.8 L383.3,258.7 A4.4,4.4 0 1 0 388,266.1Z" fill="#c98a3c" opacity="0.8"/>
<path d="M386.7,264.1 L401.2,252.3 A1.2,1.2 0 0 0 400,250.2 L382.5,256.5 A4.4,4.4 0 1 0 386.7,264.1Z" fill="#f2aa44" />
<path d="M427.6,271.8 L423.1,257.4 A1.2,1.2 0 0 0 420.7,257.6 L419,272.7 A4.4,4.4 0 1 0 427.6,271.8Z" fill="#c98a3c" opacity="0.8"/>
<path d="M426.4,269.8 L421.8,255.3 A1.2,1.2 0 0 0 419.4,255.5 L417.8,270.7 A4.4,4.4 0 1 0 426.4,269.8Z" fill="#f2aa44" />
<path d="M452.8,284.3 L466.3,271.9 A1.2,1.2 0 0 0 465,269.9 L448.1,276.9 A4.5,4.5 0 1 0 452.8,284.3Z" fill="#c98a3c" opacity="0.8"/>
<path d="M451.6,282.3 L466.2,270.4 A1.2,1.2 0 0 0 465,268.3 L447.3,274.6 A4.5,4.5 0 1 0 451.6,282.3Z" fill="#f2aa44" />
<path d="M494.2,290.5 L489.6,275.9 A1.3,1.3 0 0 0 487.2,276.1 L485.5,291.3 A4.5,4.5 0 1 0 494.2,290.5Z" fill="#c98a3c" opacity="0.8"/>
<path d="M493,288.5 L488.4,273.8 A1.3,1.3 0 0 0 485.9,274 L484.3,289.3 A4.5,4.5 0 1 0 493,288.5Z" fill="#f2aa44" />
<path d="M220,246.4 L215.3,231.7 A1.3,1.3 0 0 0 212.9,232 L211.1,247.3 A4.5,4.5 0 1 0 220,246.4Z" fill="#c98a3c" opacity="0.8"/>
<path d="M218.8,244.4 L214.1,229.6 A1.3,1.3 0 0 0 211.6,229.9 L209.9,245.3 A4.5,4.5 0 1 0 218.8,244.4Z" fill="#f2aa44" />
<path d="M241.5,258.3 L255.2,245.8 A1.3,1.3 0 0 0 253.8,243.7 L236.7,250.8 A4.5,4.5 0 1 0 241.5,258.3Z" fill="#c98a3c" opacity="0.8"/>
<path d="M240.3,256.3 L255.1,244.3 A1.3,1.3 0 0 0 253.9,242.1 L235.9,248.5 A4.5,4.5 0 1 0 240.3,256.3Z" fill="#f2aa44" />
<path d="M279.3,263.8 L274.7,249 A1.3,1.3 0 0 0 272.2,249.2 L270.4,264.7 A4.6,4.6 0 1 0 279.3,263.8Z" fill="#c98a3c" opacity="0.8"/>
<path d="M278.1,261.8 L273.4,246.9 A1.3,1.3 0 0 0 270.9,247.1 L269.2,262.7 A4.6,4.6 0 1 0 278.1,261.8Z" fill="#f2aa44" />
<path d="M302.2,276.2 L316.1,263.6 A1.3,1.3 0 0 0 314.7,261.4 L297.4,268.6 A4.6,4.6 0 1 0 302.2,276.2Z" fill="#c98a3c" opacity="0.8"/>
<path d="M301,274.2 L316,262 A1.3,1.3 0 0 0 314.8,259.8 L296.6,266.3 A4.6,4.6 0 1 0 301,274.2Z" fill="#f2aa44" />
<path d="M341.7,282.1 L337,267.1 A1.3,1.3 0 0 0 334.4,267.4 L332.7,283 A4.6,4.6 0 1 0 341.7,282.1Z" fill="#c98a3c" opacity="0.8"/>
<path d="M340.5,280.1 L335.7,265 A1.3,1.3 0 0 0 333.2,265.2 L331.5,281 A4.6,4.6 0 1 0 340.5,280.1Z" fill="#f2aa44" />
<path d="M366,295 L380,282.2 A1.3,1.3 0 0 0 378.6,280.1 L361.1,287.3 A4.6,4.6 0 1 0 366,295Z" fill="#c98a3c" opacity="0.8"/>
<path d="M364.8,292.9 L380,280.6 A1.3,1.3 0 0 0 378.7,278.4 L360.3,285 A4.6,4.6 0 1 0 364.8,292.9Z" fill="#f2aa44" />
<path d="M407.1,301.3 L402.4,286.2 A1.3,1.3 0 0 0 399.8,286.4 L398,302.1 A4.7,4.7 0 1 0 407.1,301.3Z" fill="#c98a3c" opacity="0.8"/>
<path d="M405.9,299.3 L401.1,284 A1.3,1.3 0 0 0 398.5,284.3 L396.8,300.2 A4.7,4.7 0 1 0 405.9,299.3Z" fill="#f2aa44" />
<path d="M433,314.7 L447.2,301.8 A1.3,1.3 0 0 0 445.8,299.6 L428.1,306.9 A4.7,4.7 0 1 0 433,314.7Z" fill="#c98a3c" opacity="0.8"/>
<path d="M431.8,312.7 L447.1,300.2 A1.3,1.3 0 0 0 445.9,298 L427.3,304.6 A4.7,4.7 0 1 0 431.8,312.7Z" fill="#f2aa44" />
<path d="M475.9,321.5 L471.2,306.2 A1.3,1.3 0 0 0 468.6,306.5 L466.7,322.3 A4.7,4.7 0 1 0 475.9,321.5Z" fill="#c98a3c" opacity="0.8"/>
<path d="M474.7,319.5 L469.8,304 A1.3,1.3 0 0 0 467.3,304.3 L465.5,320.4 A4.7,4.7 0 1 0 474.7,319.5Z" fill="#f2aa44" />
<path d="M206.3,278.3 L201.5,263 A1.3,1.3 0 0 0 198.9,263.2 L197.1,279.2 A4.8,4.8 0 1 0 206.3,278.3Z" fill="#c98a3c" opacity="0.8"/>
<path d="M205.1,276.3 L200.2,260.7 A1.3,1.3 0 0 0 197.6,261 L195.9,277.2 A4.8,4.8 0 1 0 205.1,276.3Z" fill="#f2aa44" />
<path d="M228.6,291.2 L243.1,278.1 A1.3,1.3 0 0 0 241.7,275.9 L223.6,283.2 A4.8,4.8 0 1 0 228.6,291.2Z" fill="#c98a3c" opacity="0.8"/>
<path d="M227.4,289.2 L243,276.5 A1.3,1.3 0 0 0 241.8,274.2 L222.8,281 A4.8,4.8 0 1 0 227.4,289.2Z" fill="#f2aa44" />
<path d="M268.1,297.3 L263.3,281.8 A1.3,1.3 0 0 0 260.7,282.1 L258.8,298.2 A4.8,4.8 0 1 0 268.1,297.3Z" fill="#c98a3c" opacity="0.8"/>
<path d="M266.9,295.3 L262,279.6 A1.3,1.3 0 0 0 259.3,279.9 L257.6,296.3 A4.8,4.8 0 1 0 266.9,295.3Z" fill="#f2aa44" />
<path d="M291.9,310.7 L306.5,297.5 A1.3,1.3 0 0 0 305.1,295.3 L286.9,302.7 A4.8,4.8 0 1 0 291.9,310.7Z" fill="#c98a3c" opacity="0.8"/>
<path d="M290.7,308.7 L306.5,295.9 A1.3,1.3 0 0 0 305.2,293.6 L286.1,300.4 A4.8,4.8 0 1 0 290.7,308.7Z" fill="#f2aa44" />
<path d="M333.1,317.3 L328.3,301.7 A1.4,1.4 0 0 0 325.6,301.9 L323.7,318.2 A4.9,4.9 0 1 0 333.1,317.3Z" fill="#c98a3c" opacity="0.8"/>
<path d="M331.9,315.3 L326.9,299.4 A1.4,1.4 0 0 0 324.3,299.7 L322.5,316.3 A4.9,4.9 0 1 0 331.9,315.3Z" fill="#f2aa44" />
<path d="M358.5,331.3 L373.3,318 A1.4,1.4 0 0 0 371.9,315.7 L353.4,323.2 A4.9,4.9 0 1 0 358.5,331.3Z" fill="#c98a3c" opacity="0.8"/>
<path d="M357.3,329.3 L373.2,316.3 A1.4,1.4 0 0 0 371.9,314 L352.6,320.9 A4.9,4.9 0 1 0 357.3,329.3Z" fill="#f2aa44" />
<path d="M401.6,338.4 L396.6,322.6 A1.4,1.4 0 0 0 394,322.9 L392,339.3 A4.9,4.9 0 1 0 401.6,338.4Z" fill="#c98a3c" opacity="0.8"/>
<path d="M400.3,336.4 L395.3,320.3 A1.4,1.4 0 0 0 392.6,320.6 L390.8,337.3 A4.9,4.9 0 1 0 400.3,336.4Z" fill="#f2aa44" />
<path d="M428.7,353 L443.6,339.5 A1.4,1.4 0 0 0 442.2,337.2 L423.5,344.7 A4.9,4.9 0 1 0 428.7,353Z" fill="#c98a3c" opacity="0.8"/>
<path d="M427.5,350.9 L443.6,337.8 A1.4,1.4 0 0 0 442.2,335.5 L422.7,342.4 A4.9,4.9 0 1 0 427.5,350.9Z" fill="#f2aa44" />
<path d="M473.7,360.6 L468.7,344.7 A1.4,1.4 0 0 0 466,344.9 L464.1,361.5 A4.9,4.9 0 1 0 473.7,360.6Z" fill="#c98a3c" opacity="0.8"/>
<path d="M472.5,358.6 L467.4,342.4 A1.4,1.4 0 0 0 464.7,342.6 L462.8,359.5 A4.9,4.9 0 1 0 472.5,358.6Z" fill="#f2aa44" />
<path d="M176.4,308.4 L171.4,292.4 A1.4,1.4 0 0 0 168.7,292.6 L166.7,309.3 A5,5 0 1 0 176.4,308.4Z" fill="#c98a3c" opacity="0.8"/>
<path d="M175.2,306.4 L170,290.1 A1.4,1.4 0 0 0 167.3,290.3 L165.5,307.3 A5,5 0 1 0 175.2,306.4Z" fill="#f2aa44" />
<path d="M199.2,322.2 L214.4,308.6 A1.4,1.4 0 0 0 213,306.3 L194,313.8 A5,5 0 1 0 199.2,322.2Z" fill="#c98a3c" opacity="0.8"/>
<path d="M198,320.2 L214.4,306.9 A1.4,1.4 0 0 0 213,304.5 L193.2,311.6 A5,5 0 1 0 198,320.2Z" fill="#f2aa44" />
<path d="M240,329 L235,312.9 A1.4,1.4 0 0 0 232.3,313.1 L230.2,329.9 A5,5 0 1 0 240,329Z" fill="#c98a3c" opacity="0.8"/>
<path d="M238.8,327 L233.6,310.5 A1.4,1.4 0 0 0 230.9,310.8 L229,327.9 A5,5 0 1 0 238.8,327Z" fill="#f2aa44" />
<path d="M264.4,343.4 L279.8,329.7 A1.4,1.4 0 0 0 278.3,327.3 L259.2,334.9 A5.1,5.1 0 1 0 264.4,343.4Z" fill="#c98a3c" opacity="0.8"/>
<path d="M263.2,341.4 L279.7,328 A1.4,1.4 0 0 0 278.4,325.5 L258.4,332.7 A5.1,5.1 0 1 0 263.2,341.4Z" fill="#f2aa44" />
<path d="M307.1,350.7 L302,334.4 A1.4,1.4 0 0 0 299.3,334.7 L297.2,351.6 A5.1,5.1 0 1 0 307.1,350.7Z" fill="#c98a3c" opacity="0.8"/>
<path d="M305.9,348.7 L300.6,332.1 A1.4,1.4 0 0 0 297.9,332.3 L296,349.7 A5.1,5.1 0 1 0 305.9,348.7Z" fill="#f2aa44" />
<path d="M333.2,365.7 L348.7,351.9 A1.4,1.4 0 0 0 347.3,349.5 L327.9,357.2 A5.1,5.1 0 1 0 333.2,365.7Z" fill="#c98a3c" opacity="0.8"/>
<path d="M332,363.7 L348.7,350.2 A1.4,1.4 0 0 0 347.3,347.7 L327.1,354.9 A5.1,5.1 0 1 0 332,363.7Z" fill="#f2aa44" />
<path d="M377.8,373.6 L372.8,357.2 A1.4,1.4 0 0 0 370,357.5 L367.9,374.5 A5.1,5.1 0 1 0 377.8,373.6Z" fill="#c98a3c" opacity="0.8"/>
<path d="M376.6,371.6 L371.3,354.8 A1.4,1.4 0 0 0 368.5,355.1 L366.7,372.6 A5.1,5.1 0 1 0 376.6,371.6Z" fill="#f2aa44" />
<path d="M405.8,389.3 L421.5,375.4 A1.4,1.4 0 0 0 420,373 L400.5,380.7 A5.1,5.1 0 1 0 405.8,389.3Z" fill="#c98a3c" opacity="0.8"/>
<path d="M404.7,387.3 L421.5,373.6 A1.4,1.4 0 0 0 420.1,371.1 L399.7,378.4 A5.1,5.1 0 1 0 404.7,387.3Z" fill="#f2aa44" />
<path d="M452.6,397.8 L447.5,381.3 A1.4,1.4 0 0 0 444.7,381.5 L442.5,398.7 A5.2,5.2 0 1 0 452.6,397.8Z" fill="#c98a3c" opacity="0.8"/>
<path d="M451.4,395.8 L446,378.9 A1.4,1.4 0 0 0 443.2,379.2 L441.3,396.8 A5.2,5.2 0 1 0 451.4,395.8Z" fill="#f2aa44" />
<path d="M266,145 L142,313 L143,317.5 L267,149Z" fill="#b8763c" />
<path d="M104,299 L142,313 L143,317.5 L105,303.5Z" fill="#d9a43a" />
<path d="M238,138 L266,145 L142,313 L104,299Z" fill="url(#adrain)" />
<path d="M462,418 L510,437 L510.5,442 L462.5,423Z" fill="#d9a43a" />
<path d="M557,215 L510,437 L510.5,442 L558,219Z" fill="#c08040" />
<path d="M523,206 L557,215 L510,437 L462,418Z" fill="url(#asrc)" />
<ellipse cx="370" cy="89.5" rx="121" ry="46.5" fill="none" stroke="#7d6d5c" stroke-width="4" stroke-dasharray="4.2 4.6"/>
<line x1="262" y1="66" x2="468" y2="113" stroke="#7d6d5c" stroke-width="3.6" stroke-dasharray="4.2 4.6"/>
<line x1="290" y1="116.5" x2="431" y2="58.5" stroke="#7d6d5c" stroke-width="4.6" />
<path d="M437.5,56 L416,53.5 M437.5,56 L424.5,72" fill="none" stroke="#7d6d5c" stroke-width="4.6" stroke-linecap="round"/>
<path d="M283.5,119.5 L296.5,103.5 M283.5,119.5 L305,122" fill="none" stroke="#7d6d5c" stroke-width="4.6" stroke-linecap="round"/>
<line x1="363.5" y1="89" x2="363.5" y2="154" stroke="#7d6d5c" stroke-width="5.6" />
<path d="M363.5,168 L354.5,146 L363.5,150.5 L372.5,146 Z" fill="#7d6d5c" />
<path d="M419,103 Q424,86 418.5,70" fill="none" stroke="#000" stroke-width="3" marker-end="url(#aarr)"/>
<text x="430" y="99" font-size="27" ><tspan font-style="italic" font-family='"Liberation Serif", serif'>φ</tspan></text>
<text x="468" y="53.5" font-size="27.5" ><tspan font-style="italic">E</tspan></text>
<text x="386" y="182" font-size="27" font-weight="bold" >k</text>
<path d="M60.7,216 L60.7,192 L206,192" fill="none" stroke="#000" stroke-width="4.4" />
<circle cx="206" cy="193" r="7.3" fill="#000" />
<circle cx="60.7" cy="249" r="31" fill="#fff" stroke="#000" stroke-width="4.6" />
<text x="43" y="258.5" font-size="29" ><tspan font-style="italic">V</tspan><tspan font-size="68%" dy="0.37em">ph</tspan><tspan dy="-0.25em">&#8203;</tspan></text>
<circle cx="523" cy="276" r="7" fill="#000" />
<path d="M523,276 L587,276 L587,372" fill="none" stroke="#000" stroke-width="4.6" />
<line x1="562" y1="373.8" x2="611" y2="373.8" stroke="#000" stroke-width="4.6" />
<line x1="570.5" y1="384.3" x2="602.6" y2="384.3" stroke="#000" stroke-width="4.4" />
<line x1="577.6" y1="394.8" x2="595.5" y2="394.8" stroke="#000" stroke-width="4.4" />
<line x1="407" y1="433" x2="407" y2="465" stroke="#000" stroke-width="4.8" />
<circle cx="407" cy="433" r="6.5" fill="#000" />
<circle cx="407" cy="465" r="6.5" fill="#000" />
<text x="420" y="487" font-size="30" ><tspan font-style="italic">V</tspan><tspan font-size="72%" dy="0.42em">g</tspan><tspan dy="-0.30em">&#8203;</tspan></text>
<text x="0" y="0" font-size="30.5" text-anchor="middle" transform="translate(171 254) rotate(-50.3)">Drain</text>
<text x="0" y="0" font-size="29.5" text-anchor="middle" transform="translate(512 357) rotate(-78)">Source</text>
<rect x="41.5" y="375.5" width="201.5" height="126" fill="none" stroke="#808080" stroke-width="4.4" rx="15" stroke-dasharray="4.6 5.2"/>
<path d="M245,437 L333,437 Q341.5,437 341.5,428 L341.5,346" fill="none" stroke="#808080" stroke-width="4.4" stroke-dasharray="4.6 5.2" opacity="0.9"/>
<path d="M107,453.4 L69.2,406.1 A2.2,2.2 0 0 0 65.5,408.3 L87.7,464.6 A11.3,11.3 0 1 0 107,453.4Z" fill="#f6b814" />
<path d="M184.2,463.7 L203.9,407.2 A2.2,2.2 0 0 0 200,405.2 L164.4,453.3 A11.3,11.3 0 1 0 184.2,463.7Z" fill="#f6b814" />
<line x1="94" y1="457.8" x2="232" y2="457.8" stroke="#808080" stroke-width="4.2" stroke-dasharray="4.4 5"/>
<line x1="62" y1="397" x2="110.5" y2="479" stroke="#808080" stroke-width="4.2" stroke-dasharray="4.4 5"/>
<line x1="210" y1="398" x2="162.5" y2="479" stroke="#808080" stroke-width="4.2" stroke-dasharray="4.4 5"/>
<path d="M125,457.5 A27,27 0 0 0 89.5,434.5" fill="none" stroke="#000" stroke-width="3.2" marker-end="url(#aarr)"/>
<path d="M206.5,457.5 A30,30 0 0 0 194.5,437.5" fill="none" stroke="#000" stroke-width="3" marker-end="url(#aarr)"/>
<text x="117.5" y="433" font-size="24" ><tspan font-style="italic" font-family='"Liberation Serif", serif'>θ</tspan><tspan font-size="72%" dy="0.42em">1</tspan><tspan dy="-0.30em">&#8203;</tspan></text>
<text x="207.5" y="440" font-size="24" ><tspan font-style="italic" font-family='"Liberation Serif", serif'>θ</tspan><tspan font-size="72%" dy="0.42em">2</tspan><tspan dy="-0.30em">&#8203;</tspan></text>
<text x="14" y="92" font-size="54" >(a)</text></g>
<g id="panel_b"><defs>
<clipPath id="bclip"><rect x="795.6" y="54.4" width="389.8" height="389.5"/></clipPath>
<linearGradient id="bband" gradientUnits="userSpaceOnUse" x1="962.9" y1="221.5" x2="1018.1" y2="276.8"><stop offset="0.000" stop-color="#fbe3d6" stop-opacity="0"/><stop offset="0.141" stop-color="#f9d2c0" stop-opacity="0.3"/><stop offset="0.197" stop-color="#f2a98e" stop-opacity="0.9"/><stop offset="0.216" stop-color="#c2413c" stop-opacity="1"/><stop offset="0.227" stop-color="#1a0f2e" stop-opacity="1"/><stop offset="0.239" stop-color="#1a1f4e" stop-opacity="1"/><stop offset="0.253" stop-color="#4f98cc" stop-opacity="1"/><stop offset="0.277" stop-color="#b5d5ea" stop-opacity="1"/><stop offset="0.320" stop-color="#dfeaf4" stop-opacity="1"/><stop offset="0.500" stop-color="#eef3f8" stop-opacity="1"/><stop offset="0.680" stop-color="#dfeaf4" stop-opacity="1"/><stop offset="0.723" stop-color="#b5d5ea" stop-opacity="1"/><stop offset="0.747" stop-color="#4f98cc" stop-opacity="1"/><stop offset="0.761" stop-color="#1a1f4e" stop-opacity="1"/><stop offset="0.773" stop-color="#1a0f2e" stop-opacity="1"/><stop offset="0.784" stop-color="#c2413c" stop-opacity="1"/><stop offset="0.803" stop-color="#f2a98e" stop-opacity="0.9"/><stop offset="0.859" stop-color="#f9d2c0" stop-opacity="0.3"/><stop offset="1.000" stop-color="#fbe3d6" stop-opacity="0"/></linearGradient>
<linearGradient id="bcbar" x1="0" y1="0" x2="0" y2="1"><stop offset="0.0" stop-color="#67001f"/><stop offset="0.1" stop-color="#b2182b"/><stop offset="0.2" stop-color="#d6604d"/><stop offset="0.3" stop-color="#f4a582"/><stop offset="0.4" stop-color="#fddbc7"/><stop offset="0.5" stop-color="#f7f7f7"/><stop offset="0.6" stop-color="#d1e5f0"/><stop offset="0.7" stop-color="#92c5de"/><stop offset="0.8" stop-color="#4393c3"/><stop offset="0.9" stop-color="#2166ac"/><stop offset="1.0" stop-color="#053061"/></linearGradient>
<radialGradient id="bpink"><stop offset="0" stop-color="#fcf2ed"/><stop offset="0.7" stop-color="#fcf0ea"/><stop offset="1" stop-color="#fbebe3"/></radialGradient>
<filter id="bblur2" x="-60%" y="-120%" width="220%" height="340%"><feGaussianBlur stdDeviation="2.6"/></filter>
</defs>
<g clip-path="url(#bclip)">
<rect x="795.6" y="54.4" width="389.8" height="389.5" fill="#f2f5f9" />
<path d="M893.1,346.5 L893.1,344.3 L893.4,337.4 L893.7,326.3 L894.2,311.2 L894.9,293.3 L895.7,274.4 L896.7,256.1 L897.8,239.7 L899.1,225.8 L900.5,214.2 L902,204.9 L903.7,197.3 L905.5,191.1 L907.4,186.1 L909.5,181.9 L911.7,178.4 L914,175.5 L916.4,173 L918.9,170.9 L921.6,169.1 L924.4,167.6 L927.2,166.2 L930.2,165 L933.2,163.9 L936.4,163 L939.6,162.1 L942.9,161.4 L946.3,160.7 L949.7,160.1 L953.2,159.5 L956.8,159 L960.4,158.6 L964,158.1 L967.8,157.7 L971.5,157.4 L975.3,157 L979,156.7 L982.9,156.4 L986.7,156.1 L990.5,155.9 L994.3,155.6 L998.1,155.4 L1002,155.2 L1005.7,155 L1009.5,154.8 L1013.2,154.6 L1017,154.4 L1020.6,154.2 L1024.2,154.1 L1027.8,153.9 L1031.3,153.8 L1034.7,153.6 L1038.1,153.5 L1041.4,153.4 L1044.6,153.3 L1047.8,153.1 L1050.8,153 L1053.8,152.9 L1056.6,152.8 L1059.4,152.7 L1062.1,152.6 L1064.6,152.6 L1067,152.5 L1069.3,152.4 L1071.5,152.3 L1073.6,152.3 L1075.5,152.2 L1077.3,152.1 L1079,152.1 L1080.5,152 L1081.9,152 L1083.2,151.9 L1084.3,151.9 L1085.3,151.9 L1086.1,151.8 L1086.8,151.8 L1087.3,151.8 L1087.6,151.8 L1087.9,151.8 L1087.9,151.8 L1087.9,151.8 L1087.9,154 L1087.6,160.9 L1087.3,172 L1086.8,187.1 L1086.1,205 L1085.3,223.9 L1084.3,242.2 L1083.2,258.6 L1081.9,272.5 L1080.5,284.1 L1079,293.4 L1077.3,301 L1075.5,307.2 L1073.6,312.2 L1071.5,316.4 L1069.3,319.9 L1067,322.8 L1064.6,325.3 L1062.1,327.4 L1059.4,329.2 L1056.6,330.7 L1053.8,332.1 L1050.8,333.3 L1047.8,334.4 L1044.6,335.3 L1041.4,336.2 L1038.1,336.9 L1034.7,337.6 L1031.3,338.2 L1027.8,338.8 L1024.2,339.3 L1020.6,339.7 L1017,340.2 L1013.2,340.6 L1009.5,340.9 L1005.7,341.3 L1002,341.6 L998.1,341.9 L994.3,342.2 L990.5,342.4 L986.7,342.7 L982.9,342.9 L979,343.1 L975.3,343.3 L971.5,343.5 L967.8,343.7 L964,343.9 L960.4,344.1 L956.8,344.2 L953.2,344.4 L949.7,344.5 L946.3,344.7 L942.9,344.8 L939.6,344.9 L936.4,345 L933.2,345.2 L930.2,345.3 L927.2,345.4 L924.4,345.5 L921.6,345.6 L918.9,345.7 L916.4,345.7 L914,345.8 L911.7,345.9 L909.5,346 L907.4,346 L905.5,346.1 L903.7,346.2 L902,346.2 L900.5,346.3 L899.1,346.3 L897.8,346.4 L896.7,346.4 L895.7,346.4 L894.9,346.5 L894.2,346.5 L893.7,346.5 L893.4,346.5 L893.1,346.5 L893.1,346.5Z" fill="url(#bpink)" stroke="#16142a" stroke-width="1.2" />
<path d="M1088,151.7 L1088,149.5 L1088.3,142.7 L1088.6,131.5 L1089.1,116.4 L1089.8,98.6 L1090.6,79.6 L1091.6,61.3 L1092.7,44.9 L1094,31 L1095.4,19.5 L1096.9,10.1 L1098.6,2.5 L1100.4,-3.6 L1102.3,-8.7 L1104.4,-12.9 L1106.6,-16.3 L1108.9,-19.2 L1111.3,-21.7 L1113.8,-23.8 L1116.5,-25.6 L1119.3,-27.2 L1122.1,-28.6 L1125.1,-29.8 L1128.1,-30.8 L1131.3,-31.8 L1134.5,-32.6 L1137.8,-33.4 L1141.2,-34 L1144.6,-34.7 L1148.1,-35.2 L1151.7,-35.7 L1155.3,-36.2 L1158.9,-36.6 L1162.7,-37 L1166.4,-37.4 L1170.2,-37.7 L1173.9,-38.1 L1177.8,-38.3 L1181.6,-38.6 L1185.4,-38.9 L1189.2,-39.1 L1193,-39.4 L1196.9,-39.6 L1200.6,-39.8 L1204.4,-40 L1208.1,-40.2 L1211.9,-40.3 L1215.5,-40.5 L1219.1,-40.7 L1222.7,-40.8 L1226.2,-41 L1229.6,-41.1 L1233,-41.2 L1236.3,-41.4 L1239.5,-41.5 L1242.7,-41.6 L1245.7,-41.7 L1248.7,-41.8 L1251.5,-41.9 L1254.3,-42 L1257,-42.1 L1259.5,-42.2 L1261.9,-42.3 L1264.2,-42.4 L1266.4,-42.4 L1268.5,-42.5 L1270.4,-42.6 L1272.2,-42.6 L1273.9,-42.7 L1275.4,-42.7 L1276.8,-42.8 L1278.1,-42.8 L1279.2,-42.9 L1280.2,-42.9 L1281,-42.9 L1281.7,-42.9 L1282.2,-43 L1282.5,-43 L1282.8,-43 L1282.8,-43 L1282.8,-42.9 L1282.8,-40.7 L1282.5,-33.9 L1282.2,-22.7 L1281.7,-7.6 L1281,10.2 L1280.2,29.2 L1279.2,47.5 L1278.1,63.9 L1276.8,77.8 L1275.4,89.3 L1273.9,98.7 L1272.2,106.3 L1270.4,112.4 L1268.5,117.5 L1266.4,121.7 L1264.2,125.1 L1261.9,128 L1259.5,130.5 L1257,132.6 L1254.3,134.4 L1251.5,136 L1248.7,137.4 L1245.7,138.6 L1242.7,139.6 L1239.5,140.6 L1236.3,141.4 L1233,142.2 L1229.6,142.8 L1226.2,143.5 L1222.7,144 L1219.1,144.5 L1215.5,145 L1211.9,145.4 L1208.1,145.8 L1204.4,146.2 L1200.6,146.5 L1196.9,146.9 L1193,147.1 L1189.2,147.4 L1185.4,147.7 L1181.6,147.9 L1177.8,148.2 L1173.9,148.4 L1170.2,148.6 L1166.4,148.8 L1162.7,149 L1158.9,149.1 L1155.3,149.3 L1151.7,149.5 L1148.1,149.6 L1144.6,149.8 L1141.2,149.9 L1137.8,150 L1134.5,150.2 L1131.3,150.3 L1128.1,150.4 L1125.1,150.5 L1122.1,150.6 L1119.3,150.7 L1116.5,150.8 L1113.8,150.9 L1111.3,151 L1108.9,151.1 L1106.6,151.2 L1104.4,151.2 L1102.3,151.3 L1100.4,151.4 L1098.6,151.4 L1096.9,151.5 L1095.4,151.5 L1094,151.6 L1092.7,151.6 L1091.6,151.7 L1090.6,151.7 L1089.8,151.7 L1089.1,151.7 L1088.6,151.8 L1088.3,151.8 L1088,151.8 L1088,151.8Z" fill="url(#bpink)" stroke="#16142a" stroke-width="1.2" />
<path d="M698.2,541.2 L698.2,539 L698.5,532.2 L698.8,521 L699.3,505.9 L700,488.1 L700.8,469.1 L701.8,450.8 L702.9,434.4 L704.2,420.5 L705.6,409 L707.1,399.6 L708.8,392 L710.6,385.9 L712.5,380.8 L714.6,376.6 L716.8,373.2 L719.1,370.3 L721.5,367.8 L724,365.7 L726.7,363.9 L729.5,362.3 L732.3,360.9 L735.3,359.7 L738.3,358.7 L741.5,357.7 L744.7,356.9 L748,356.1 L751.4,355.5 L754.8,354.8 L758.3,354.3 L761.9,353.8 L765.5,353.3 L769.1,352.9 L772.9,352.5 L776.6,352.1 L780.4,351.8 L784.1,351.4 L788,351.2 L791.8,350.9 L795.6,350.6 L799.4,350.4 L803.2,350.1 L807.1,349.9 L810.8,349.7 L814.6,349.5 L818.3,349.3 L822.1,349.2 L825.7,349 L829.3,348.8 L832.9,348.7 L836.4,348.5 L839.8,348.4 L843.2,348.3 L846.5,348.1 L849.7,348 L852.9,347.9 L855.9,347.8 L858.9,347.7 L861.7,347.6 L864.5,347.5 L867.2,347.4 L869.7,347.3 L872.1,347.2 L874.4,347.1 L876.6,347.1 L878.7,347 L880.6,346.9 L882.4,346.9 L884.1,346.8 L885.6,346.8 L887,346.7 L888.3,346.7 L889.4,346.6 L890.4,346.6 L891.2,346.6 L891.9,346.6 L892.4,346.5 L892.7,346.5 L893,346.5 L893,346.5 L893,346.6 L893,348.8 L892.7,355.6 L892.4,366.8 L891.9,381.9 L891.2,399.7 L890.4,418.7 L889.4,437 L888.3,453.4 L887,467.3 L885.6,478.8 L884.1,488.2 L882.4,495.8 L880.6,501.9 L878.7,507 L876.6,511.2 L874.4,514.6 L872.1,517.5 L869.7,520 L867.2,522.1 L864.5,523.9 L861.7,525.5 L858.9,526.9 L855.9,528.1 L852.9,529.1 L849.7,530.1 L846.5,530.9 L843.2,531.7 L839.8,532.3 L836.4,533 L832.9,533.5 L829.3,534 L825.7,534.5 L822.1,534.9 L818.3,535.3 L814.6,535.7 L810.8,536 L807.1,536.4 L803.2,536.6 L799.4,536.9 L795.6,537.2 L791.8,537.4 L788,537.7 L784.1,537.9 L780.4,538.1 L776.6,538.3 L772.9,538.5 L769.1,538.6 L765.5,538.8 L761.9,539 L758.3,539.1 L754.8,539.3 L751.4,539.4 L748,539.5 L744.7,539.7 L741.5,539.8 L738.3,539.9 L735.3,540 L732.3,540.1 L729.5,540.2 L726.7,540.3 L724,540.4 L721.5,540.5 L719.1,540.6 L716.8,540.7 L714.6,540.7 L712.5,540.8 L710.6,540.9 L708.8,540.9 L707.1,541 L705.6,541 L704.2,541.1 L702.9,541.1 L701.8,541.2 L700.8,541.2 L700,541.2 L699.3,541.2 L698.8,541.3 L698.5,541.3 L698.2,541.3 L698.2,541.3Z" fill="url(#bpink)" stroke="#16142a" stroke-width="1.2" />
<path d="M1088,541.2 L1088,539 L1088.3,532.2 L1088.6,521 L1089.1,505.9 L1089.8,488.1 L1090.6,469.1 L1091.6,450.8 L1092.7,434.4 L1094,420.5 L1095.4,409 L1096.9,399.6 L1098.6,392 L1100.4,385.9 L1102.3,380.8 L1104.4,376.6 L1106.6,373.2 L1108.9,370.3 L1111.3,367.8 L1113.8,365.7 L1116.5,363.9 L1119.3,362.3 L1122.1,360.9 L1125.1,359.7 L1128.1,358.7 L1131.3,357.7 L1134.5,356.9 L1137.8,356.1 L1141.2,355.5 L1144.6,354.8 L1148.1,354.3 L1151.7,353.8 L1155.3,353.3 L1158.9,352.9 L1162.7,352.5 L1166.4,352.1 L1170.2,351.8 L1173.9,351.4 L1177.8,351.2 L1181.6,350.9 L1185.4,350.6 L1189.2,350.4 L1193,350.1 L1196.9,349.9 L1200.6,349.7 L1204.4,349.5 L1208.1,349.3 L1211.9,349.2 L1215.5,349 L1219.1,348.8 L1222.7,348.7 L1226.2,348.5 L1229.6,348.4 L1233,348.3 L1236.3,348.1 L1239.5,348 L1242.7,347.9 L1245.7,347.8 L1248.7,347.7 L1251.5,347.6 L1254.3,347.5 L1257,347.4 L1259.5,347.3 L1261.9,347.2 L1264.2,347.1 L1266.4,347.1 L1268.5,347 L1270.4,346.9 L1272.2,346.9 L1273.9,346.8 L1275.4,346.8 L1276.8,346.7 L1278.1,346.7 L1279.2,346.6 L1280.2,346.6 L1281,346.6 L1281.7,346.6 L1282.2,346.5 L1282.5,346.5 L1282.8,346.5 L1282.8,346.5 L1282.8,346.6 L1282.8,348.8 L1282.5,355.6 L1282.2,366.8 L1281.7,381.9 L1281,399.7 L1280.2,418.7 L1279.2,437 L1278.1,453.4 L1276.8,467.3 L1275.4,478.8 L1273.9,488.2 L1272.2,495.8 L1270.4,501.9 L1268.5,507 L1266.4,511.2 L1264.2,514.6 L1261.9,517.5 L1259.5,520 L1257,522.1 L1254.3,523.9 L1251.5,525.5 L1248.7,526.9 L1245.7,528.1 L1242.7,529.1 L1239.5,530.1 L1236.3,530.9 L1233,531.7 L1229.6,532.3 L1226.2,533 L1222.7,533.5 L1219.1,534 L1215.5,534.5 L1211.9,534.9 L1208.1,535.3 L1204.4,535.7 L1200.6,536 L1196.9,536.4 L1193,536.6 L1189.2,536.9 L1185.4,537.2 L1181.6,537.4 L1177.8,537.7 L1173.9,537.9 L1170.2,538.1 L1166.4,538.3 L1162.7,538.5 L1158.9,538.6 L1155.3,538.8 L1151.7,539 L1148.1,539.1 L1144.6,539.3 L1141.2,539.4 L1137.8,539.5 L1134.5,539.7 L1131.3,539.8 L1128.1,539.9 L1125.1,540 L1122.1,540.1 L1119.3,540.2 L1116.5,540.3 L1113.8,540.4 L1111.3,540.5 L1108.9,540.6 L1106.6,540.7 L1104.4,540.7 L1102.3,540.8 L1100.4,540.9 L1098.6,540.9 L1096.9,541 L1095.4,541 L1094,541.1 L1092.7,541.1 L1091.6,541.2 L1090.6,541.2 L1089.8,541.2 L1089.1,541.2 L1088.6,541.3 L1088.3,541.3 L1088,541.3 L1088,541.3Z" fill="url(#bpink)" stroke="#16142a" stroke-width="1.2" />
<path d="M698.2,151.7 L698.2,149.5 L698.5,142.7 L698.8,131.5 L699.3,116.4 L700,98.6 L700.8,79.6 L701.8,61.3 L702.9,44.9 L704.2,31 L705.6,19.5 L707.1,10.1 L708.8,2.5 L710.6,-3.6 L712.5,-8.7 L714.6,-12.9 L716.8,-16.3 L719.1,-19.2 L721.5,-21.7 L724,-23.8 L726.7,-25.6 L729.5,-27.2 L732.3,-28.6 L735.3,-29.8 L738.3,-30.8 L741.5,-31.8 L744.7,-32.6 L748,-33.4 L751.4,-34 L754.8,-34.7 L758.3,-35.2 L761.9,-35.7 L765.5,-36.2 L769.1,-36.6 L772.9,-37 L776.6,-37.4 L780.4,-37.7 L784.1,-38.1 L788,-38.3 L791.8,-38.6 L795.6,-38.9 L799.4,-39.1 L803.2,-39.4 L807.1,-39.6 L810.8,-39.8 L814.6,-40 L818.3,-40.2 L822.1,-40.3 L825.7,-40.5 L829.3,-40.7 L832.9,-40.8 L836.4,-41 L839.8,-41.1 L843.2,-41.2 L846.5,-41.4 L849.7,-41.5 L852.9,-41.6 L855.9,-41.7 L858.9,-41.8 L861.7,-41.9 L864.5,-42 L867.2,-42.1 L869.7,-42.2 L872.1,-42.3 L874.4,-42.4 L876.6,-42.4 L878.7,-42.5 L880.6,-42.6 L882.4,-42.6 L884.1,-42.7 L885.6,-42.7 L887,-42.8 L888.3,-42.8 L889.4,-42.9 L890.4,-42.9 L891.2,-42.9 L891.9,-42.9 L892.4,-43 L892.7,-43 L893,-43 L893,-43 L893,-42.9 L893,-40.7 L892.7,-33.9 L892.4,-22.7 L891.9,-7.6 L891.2,10.2 L890.4,29.2 L889.4,47.5 L888.3,63.9 L887,77.8 L885.6,89.3 L884.1,98.7 L882.4,106.3 L880.6,112.4 L878.7,117.5 L876.6,121.7 L874.4,125.1 L872.1,128 L869.7,130.5 L867.2,132.6 L864.5,134.4 L861.7,136 L858.9,137.4 L855.9,138.6 L852.9,139.6 L849.7,140.6 L846.5,141.4 L843.2,142.2 L839.8,142.8 L836.4,143.5 L832.9,144 L829.3,144.5 L825.7,145 L822.1,145.4 L818.3,145.8 L814.6,146.2 L810.8,146.5 L807.1,146.9 L803.2,147.1 L799.4,147.4 L795.6,147.7 L791.8,147.9 L788,148.2 L784.1,148.4 L780.4,148.6 L776.6,148.8 L772.9,149 L769.1,149.1 L765.5,149.3 L761.9,149.5 L758.3,149.6 L754.8,149.8 L751.4,149.9 L748,150 L744.7,150.2 L741.5,150.3 L738.3,150.4 L735.3,150.5 L732.3,150.6 L729.5,150.7 L726.7,150.8 L724,150.9 L721.5,151 L719.1,151.1 L716.8,151.2 L714.6,151.2 L712.5,151.3 L710.6,151.4 L708.8,151.4 L707.1,151.5 L705.6,151.5 L704.2,151.6 L702.9,151.6 L701.8,151.7 L700.8,151.7 L700,151.7 L699.3,151.7 L698.8,151.8 L698.5,151.8 L698.2,151.8 L698.2,151.8Z" fill="url(#bpink)" stroke="#16142a" stroke-width="1.2" />
<g transform="translate(0 389.5)"><path d="M557.4,626.7 L1423.6,-238.8 L1423.6,-128.4 L557.4,737.1Z" fill="url(#bband)" /></g>
<g transform="translate(0 0)"><path d="M557.4,626.7 L1423.6,-238.8 L1423.6,-128.4 L557.4,737.1Z" fill="url(#bband)" /></g>
<g transform="translate(0 -389.5)"><path d="M557.4,626.7 L1423.6,-238.8 L1423.6,-128.4 L557.4,737.1Z" fill="url(#bband)" /></g>
<ellipse cx="907.9" cy="361.4" rx="15" ry="5.5" fill="#f3f6f9" filter="url(#bblur2)" transform="rotate(-45 907.9 361.4)"/>
<ellipse cx="878.2" cy="331.6" rx="15" ry="5.5" fill="#f3f6f9" filter="url(#bblur2)" transform="rotate(-45 878.2 331.6)"/>
<ellipse cx="1102.8" cy="166.7" rx="15" ry="5.5" fill="#f3f6f9" filter="url(#bblur2)" transform="rotate(-45 1102.8 166.7)"/>
<ellipse cx="1073.1" cy="136.9" rx="15" ry="5.5" fill="#f3f6f9" filter="url(#bblur2)" transform="rotate(-45 1073.1 136.9)"/>
<rect x="810" y="244.5" width="13" height="11" fill="#000" />
<rect x="836" y="244.5" width="13" height="11" fill="#000" />
<rect x="862" y="244.5" width="13" height="11" fill="#000" />
<rect x="888" y="244.5" width="13" height="11" fill="#000" />
<rect x="914" y="244.5" width="13" height="11" fill="#000" />
<rect x="940" y="244.5" width="13" height="11" fill="#000" />
<rect x="966" y="244.5" width="13" height="11" fill="#000" />
<rect x="992" y="244.5" width="13" height="11" fill="#000" />
<rect x="1018" y="244.5" width="13" height="11" fill="#000" />
<rect x="1044" y="244.5" width="13" height="11" fill="#000" />
<rect x="1070" y="244.5" width="13" height="11" fill="#000" />
<rect x="1096" y="244.5" width="13" height="11" fill="#000" />
<rect x="1122" y="244.5" width="13" height="11" fill="#000" />
<rect x="1148" y="244.5" width="13" height="11" fill="#000" />
<rect x="1174" y="244.5" width="13" height="11" fill="#000" />
</g>
<rect x="795.6" y="54.4" width="389.8" height="389.5" fill="none" stroke="#222" stroke-width="1.3" />
<line x1="795.6" y1="443.9" x2="795.6" y2="436.9" stroke="#222" stroke-width="1.3" />
<line x1="795.6" y1="443.9" x2="802.6" y2="443.9" stroke="#222" stroke-width="1.3" />
<text x="795.6" y="478" font-size="26.5" text-anchor="middle" >−180</text>
<text x="782" y="453.4" font-size="26.5" text-anchor="end" >−180</text>
<line x1="893.1" y1="443.9" x2="893.1" y2="436.9" stroke="#222" stroke-width="1.3" />
<line x1="795.6" y1="346.5" x2="802.6" y2="346.5" stroke="#222" stroke-width="1.3" />
<text x="893.1" y="478" font-size="26.5" text-anchor="middle" >−90</text>
<text x="782" y="356" font-size="26.5" text-anchor="end" >−90</text>
<line x1="990.5" y1="443.9" x2="990.5" y2="436.9" stroke="#222" stroke-width="1.3" />
<line x1="795.6" y1="249.2" x2="802.6" y2="249.2" stroke="#222" stroke-width="1.3" />
<text x="990.5" y="478" font-size="26.5" text-anchor="middle" >0</text>
<text x="782" y="258.6" font-size="26.5" text-anchor="end" >0</text>
<line x1="1088" y1="443.9" x2="1088" y2="436.9" stroke="#222" stroke-width="1.3" />
<line x1="795.6" y1="151.8" x2="802.6" y2="151.8" stroke="#222" stroke-width="1.3" />
<text x="1088" y="478" font-size="26.5" text-anchor="middle" >90</text>
<text x="782" y="161.3" font-size="26.5" text-anchor="end" >90</text>
<line x1="1185.4" y1="443.9" x2="1185.4" y2="436.9" stroke="#222" stroke-width="1.3" />
<line x1="795.6" y1="54.4" x2="802.6" y2="54.4" stroke="#222" stroke-width="1.3" />
<text x="1185.4" y="478" font-size="26.5" text-anchor="middle" >180</text>
<text x="782" y="63.9" font-size="26.5" text-anchor="end" >180</text>
<circle cx="896.7" cy="249" r="7.3" fill="#fff" stroke="#a3a3a3" stroke-width="4.4" />
<circle cx="959.3" cy="249" r="7.3" fill="#fff" stroke="#a3a3a3" stroke-width="4.4" />
<circle cx="1023" cy="249" r="7.3" fill="#fff" stroke="#a3a3a3" stroke-width="4.4" />
<circle cx="1090.5" cy="248.5" r="19.8" fill="#ffc20e" stroke="#a3a3a3" stroke-width="4" />
<circle cx="1146.3" cy="196" r="19.8" fill="#2b7bba" stroke="#a3a3a3" stroke-width="4" />
<circle cx="1039.5" cy="302.3" r="19.8" fill="#ff0000" stroke="#a3a3a3" stroke-width="4" />
<text x="889.5" y="234" font-size="24" text-anchor="middle" >1</text>
<text x="958" y="234" font-size="24" text-anchor="middle" >2</text>
<text x="1019.5" y="234" font-size="24" text-anchor="middle" >3</text>
<text x="1082" y="234" font-size="24" text-anchor="middle" >4</text>
<rect x="1199.6" y="54.4" width="19.3" height="389.5" fill="url(#bcbar)" stroke="#222" stroke-width="1" />
<line x1="1218.9" y1="54.4" x2="1229" y2="54.4" stroke="#222" stroke-width="1.3" />
<text x="1241.5" y="63.9" font-size="26.5" >200</text>
<line x1="1218.9" y1="151.8" x2="1229" y2="151.8" stroke="#222" stroke-width="1.3" />
<text x="1241.5" y="161.3" font-size="26.5" >100</text>
<line x1="1218.9" y1="249.2" x2="1229" y2="249.2" stroke="#222" stroke-width="1.3" />
<text x="1241.5" y="258.6" font-size="26.5" >0</text>
<line x1="1218.9" y1="346.5" x2="1229" y2="346.5" stroke="#222" stroke-width="1.3" />
<text x="1241.5" y="356" font-size="26.5" >−100</text>
<line x1="1218.9" y1="443.9" x2="1229" y2="443.9" stroke="#222" stroke-width="1.3" />
<text x="1241.5" y="453.4" font-size="26.5" >−200</text>
<text x="1311" y="249.5" font-size="28" text-anchor="middle" transform="rotate(90 1311 249.5)" >PR</text>
<g clip-path="url(#blabclip)">
<text x="989" y="518" font-size="26.5" text-anchor="middle" ><tspan font-style="italic" font-family='"Liberation Serif", serif'>θ</tspan><tspan font-size="62%" dy="0.35em">1</tspan><tspan dy="-0.22em">&#8203;</tspan> (°)</text>
</g>
<text x="705" y="250" font-size="26.5" text-anchor="middle" transform="rotate(-90 705 250)" ><tspan font-style="italic" font-family='"Liberation Serif", serif'>θ</tspan><tspan font-size="62%" dy="0.35em">2</tspan><tspan dy="-0.22em">&#8203;</tspan> (°)</text>
<text x="656" y="78" font-size="54" >(b)</text></g>
<g id="panel_c"><defs>
<clipPath id="cclip"><rect x="1489.4" y="151.2" width="298.2" height="295.6"/></clipPath>
<clipPath id="ctd"><path d="M1572.7,341.3 L1717.3,306.3 A7.5,7.5 0 0 0 1717.3,291.7 L1572.7,256.7 A43.5,43.5 0 1 0 1572.7,341.3Z"/></clipPath>
<linearGradient id="ccbar" x1="0" y1="0" x2="1" y2="0"><stop offset="0.0" stop-color="#5e4fa2"/><stop offset="0.1" stop-color="#3288bd"/><stop offset="0.2" stop-color="#66c2a5"/><stop offset="0.3" stop-color="#abdda4"/><stop offset="0.4" stop-color="#e6f598"/><stop offset="0.5" stop-color="#ffffbf"/><stop offset="0.6" stop-color="#fee08b"/><stop offset="0.7" stop-color="#fdae61"/><stop offset="0.8" stop-color="#f46d43"/><stop offset="0.9" stop-color="#d53e4f"/><stop offset="1.0" stop-color="#b5174a"/></linearGradient>
<linearGradient id="cin" gradientUnits="userSpaceOnUse" x1="1519" y1="0" x2="1723" y2="0"><stop offset="0" stop-color="#4a74b6"/><stop offset="0.18" stop-color="#4f63ad"/><stop offset="0.5" stop-color="#5e4fa2"/><stop offset="0.8" stop-color="#5360aa"/><stop offset="1" stop-color="#3f86bc"/></linearGradient>
<filter id="cbl0" x="-50%" y="-50%" width="200%" height="200%"><feGaussianBlur stdDeviation="16"/></filter>
<filter id="cbl1" x="-50%" y="-50%" width="200%" height="200%"><feGaussianBlur stdDeviation="7"/></filter>
<filter id="cbl2" x="-50%" y="-50%" width="200%" height="200%"><feGaussianBlur stdDeviation="3"/></filter>
<filter id="cbl3" x="-50%" y="-50%" width="200%" height="200%"><feGaussianBlur stdDeviation="1.2"/></filter>
<filter id="cbl4" x="-50%" y="-50%" width="200%" height="200%"><feGaussianBlur stdDeviation="9"/></filter>
</defs>
<g clip-path="url(#cclip)">
<rect x="1489.4" y="151.2" width="298.2" height="295.6" fill="#5560ab" />
<ellipse cx="1528" cy="262" rx="34" ry="48" fill="#3b8dbc" opacity="0.75" filter="url(#cbl0)" transform="rotate(35 1528 262)"/>
<ellipse cx="1530" cy="338" rx="30" ry="44" fill="#3b8dbc" opacity="0.7" filter="url(#cbl0)" transform="rotate(-35 1530 338)"/>
<ellipse cx="1742" cy="299" rx="40" ry="26" fill="#3b8dbc" opacity="0.8" filter="url(#cbl0)"/>
<ellipse cx="1650" cy="345" rx="75" ry="18" fill="#3f86bc" opacity="0.55" filter="url(#cbl0)" transform="rotate(-12 1650 345)"/>
<ellipse cx="1650" cy="253" rx="75" ry="16" fill="#3f86bc" opacity="0.45" filter="url(#cbl0)" transform="rotate(12 1650 253)"/>
<path d="M1572.7,341.3 L1717.3,306.3 A7.5,7.5 0 0 0 1717.3,291.7 L1572.7,256.7 A43.5,43.5 0 1 0 1572.7,341.3Z" fill="none" stroke="#3f95be" stroke-width="34" filter="url(#cbl4)" opacity="0.8"/>
<path d="M1572.7,341.3 L1717.3,306.3 A7.5,7.5 0 0 0 1717.3,291.7 L1572.7,256.7 A43.5,43.5 0 1 0 1572.7,341.3Z" fill="none" stroke="#62bfa8" stroke-width="17" filter="url(#cbl1)" opacity="0.9"/>
<path d="M1572.7,341.3 L1717.3,306.3 A7.5,7.5 0 0 0 1717.3,291.7 L1572.7,256.7 A43.5,43.5 0 1 0 1572.7,341.3Z" fill="none" stroke="#c8e89e" stroke-width="10" filter="url(#cbl2)"/>
<path d="M1572.7,341.3 L1717.3,306.3 A7.5,7.5 0 0 0 1717.3,291.7 L1572.7,256.7 A43.5,43.5 0 1 0 1572.7,341.3Z" fill="none" stroke="#ffffc4" stroke-width="6" filter="url(#cbl3)"/>
<circle cx="1724" cy="299" r="8" fill="#fdd98b" filter="url(#cbl2)" opacity="0.9"/>
<circle cx="1723.5" cy="299" r="4" fill="#ef6a3a" filter="url(#cbl3)"/>
<g clip-path="url(#ctd)"><rect x="1510" y="250" width="220" height="100" fill="url(#cin)"/><path d="M1572.7,341.3 L1717.3,306.3 A7.5,7.5 0 0 0 1717.3,291.7 L1572.7,256.7 A43.5,43.5 0 1 0 1572.7,341.3Z" fill="none" stroke="#3f8fc0" stroke-width="10" filter="url(#cbl2)" opacity="0.55"/><circle cx="1721" cy="299" r="4.5" fill="#e8452f" filter="url(#cbl3)" opacity="0.9"/></g>
<path d="M1572.7,341.3 L1717.3,306.3 A7.5,7.5 0 0 0 1717.3,291.7 L1572.7,256.7 A43.5,43.5 0 1 0 1572.7,341.3Z" fill="none" stroke="#000" stroke-width="4.2" stroke-dasharray="4.6 3.6"/>
<path d="M1491,190.8 Q1500.2,170.7 1525.8,156" fill="none" stroke="#fff" stroke-width="1.3" stroke-linecap="round" opacity="0.92"/>
<path d="M1514.8,189 Q1549.7,167 1599.2,156" fill="none" stroke="#fff" stroke-width="1.3" stroke-linecap="round" opacity="0.92"/>
<path d="M1557,189 Q1575.4,180.8 1598.3,188.1" fill="none" stroke="#fff" stroke-width="1.3" stroke-linecap="round" opacity="0.92"/>
<path d="M1495.6,310 Q1487.3,218.4 1540.5,201.8" fill="none" stroke="#fff" stroke-width="1.3" stroke-linecap="round" opacity="0.92"/>
<path d="M1540.5,201.8 Q1582.7,187.2 1612,222" fill="none" stroke="#fff" stroke-width="1.3" stroke-linecap="round" opacity="0.92"/>
<path d="M1505.7,284.4 Q1505.7,222 1553.4,208.3" fill="none" stroke="#fff" stroke-width="1.3" stroke-linecap="round" opacity="0.92"/>
<path d="M1553.4,208.3 Q1584.5,200 1602,226.6" fill="none" stroke="#fff" stroke-width="1.3" stroke-linecap="round" opacity="0.92"/>
<path d="M1519.4,233 Q1540.5,205.5 1568,206.4" fill="none" stroke="#fff" stroke-width="1.3" stroke-linecap="round" opacity="0.92"/>
<path d="M1536.8,225.7 Q1562.5,211 1579.9,215.6" fill="none" stroke="#fff" stroke-width="1.3" stroke-linecap="round" opacity="0.92"/>
<path d="M1535,253.2 Q1536.8,240.4 1547.9,231.2" fill="none" stroke="#fff" stroke-width="1.3" stroke-linecap="round" opacity="0.92"/>
<path d="M1493.8,240.4 Q1491,227.5 1494.7,214.7" fill="none" stroke="#fff" stroke-width="1.3" stroke-linecap="round" opacity="0.92"/>
<path d="M1616.6,276.1 Q1621.2,218.4 1612.4,167" fill="none" stroke="#fff" stroke-width="1.3" stroke-linecap="round" opacity="0.92"/>
<path d="M1632.2,278 Q1621.2,200 1646,174.3" fill="none" stroke="#fff" stroke-width="1.3" stroke-linecap="round" opacity="0.92"/>
<path d="M1646,174.3 Q1681.7,157.8 1780.8,158.8" fill="none" stroke="#fff" stroke-width="1.3" stroke-linecap="round" opacity="0.92"/>
<path d="M1715.7,273.4 Q1683.6,244 1653.3,271.5" fill="none" stroke="#fff" stroke-width="2.6" stroke-linecap="round" opacity="0.92"/>
<path d="M1705.6,273.4 Q1690.9,266 1675.3,273.4" fill="none" stroke="#fff" stroke-width="2.6" stroke-linecap="round" opacity="0.92"/>
<path d="M1726.7,262.4 Q1685.4,214.7 1646,258.7" fill="none" stroke="#fff" stroke-width="2" stroke-linecap="round" opacity="0.92"/>
<path d="M1705.6,239.4 Q1690.9,233 1677.1,238.5" fill="none" stroke="#fff" stroke-width="1.8" stroke-linecap="round" opacity="0.92"/>
<path d="M1690.9,221.1 Q1634,218.4 1630.4,280.7" fill="none" stroke="#fff" stroke-width="1.3" stroke-linecap="round" opacity="0.92"/>
<path d="M1734.9,281.6 Q1740.4,222 1690.9,221.1" fill="none" stroke="#fff" stroke-width="1.3" stroke-linecap="round" opacity="0.92"/>
<path d="M1736.7,225.7 Q1690.9,191.8 1646,222.9" fill="none" stroke="#fff" stroke-width="1.3" stroke-linecap="round" opacity="0.92"/>
<path d="M1660.6,187.2 Q1707.4,167 1744.1,191.8" fill="none" stroke="#fff" stroke-width="1.3" stroke-linecap="round" opacity="0.92"/>
<path d="M1736.7,170.3 Q1725.7,164.8 1709.2,168.5" fill="none" stroke="#fff" stroke-width="1.3" stroke-linecap="round" opacity="0.92"/>
<path d="M1744.1,281.6 Q1756.9,236.7 1743.2,197.3" fill="none" stroke="#fff" stroke-width="1.3" stroke-linecap="round" opacity="0.92"/>
<path d="M1751.4,154.2 Q1760.6,168.8 1766.1,192.7" fill="none" stroke="#fff" stroke-width="1.3" stroke-linecap="round" opacity="0.92"/>
<path d="M1755.1,156 Q1766.1,167 1767.9,181.7" fill="none" stroke="#fff" stroke-width="1.3" stroke-linecap="round" opacity="0.92"/>
<path d="M1768.8,280.7 Q1780.8,236.7 1777.1,172.5" fill="none" stroke="#fff" stroke-width="1.3" stroke-linecap="round" opacity="0.92"/>
<path d="M1781.7,289.9 Q1755.1,291.7 1742.2,297.6" fill="none" stroke="#fff" stroke-width="3" stroke-linecap="round" opacity="0.92"/>
<path d="M1781.7,309.1 Q1762.4,307.3 1744.1,304.9" fill="none" stroke="#fff" stroke-width="3" stroke-linecap="round" opacity="0.92"/>
<path d="M1726.7,303.1 Q1734.9,304.5 1744.1,306.4" fill="none" stroke="#fff" stroke-width="5" stroke-linecap="round" opacity="0.92"/>
<path d="M1718.4,321 Q1723.9,343.1 1716.6,359.6" fill="none" stroke="#fff" stroke-width="3" stroke-linecap="round" opacity="0.92"/>
<path d="M1726.7,323.8 Q1738.6,365.1 1733.1,406.3" fill="none" stroke="#fff" stroke-width="2" stroke-linecap="round" opacity="0.92"/>
<path d="M1742.2,332.1 Q1758.7,344.9 1767,362.3" fill="none" stroke="#fff" stroke-width="2" stroke-linecap="round" opacity="0.92"/>
<path d="M1760.6,339.4 Q1771.6,345.8 1774.3,353.1" fill="none" stroke="#fff" stroke-width="2" stroke-linecap="round" opacity="0.92"/>
<path d="M1744.1,368.7 Q1751.4,398.1 1767,417.3" fill="none" stroke="#fff" stroke-width="1.3" stroke-linecap="round" opacity="0.92"/>
<path d="M1758.7,365.1 Q1764.2,376.1 1773.4,381.6" fill="none" stroke="#fff" stroke-width="1.3" stroke-linecap="round" opacity="0.92"/>
<path d="M1723.9,378.8 Q1723.9,410.9 1741.3,446.7" fill="none" stroke="#fff" stroke-width="1.3" stroke-linecap="round" opacity="0.92"/>
<path d="M1740.4,405.4 Q1742.6,420.1 1742.2,431.1" fill="none" stroke="#fff" stroke-width="1.3" stroke-linecap="round" opacity="0.92"/>
<path d="M1744.1,439.3 Q1758.7,437.5 1775.3,432.9" fill="none" stroke="#fff" stroke-width="1.3" stroke-linecap="round" opacity="0.92"/>
<path d="M1751.4,388.9 Q1755.1,392.6 1758.7,398.1" fill="none" stroke="#fff" stroke-width="1.3" stroke-linecap="round" opacity="0.92"/>
<path d="M1700.1,321 Q1663.4,352.2 1628.5,328.4" fill="none" stroke="#fff" stroke-width="2.4" stroke-linecap="round" opacity="0.92"/>
<path d="M1704.6,335.7 Q1656,377.9 1615.7,344" fill="none" stroke="#fff" stroke-width="2" stroke-linecap="round" opacity="0.92"/>
<path d="M1700.1,355.9 Q1672.6,371.5 1639.5,357.7" fill="none" stroke="#fff" stroke-width="1.3" stroke-linecap="round" opacity="0.92"/>
<path d="M1706.5,376.1 Q1663.4,405.4 1621.2,377.9" fill="none" stroke="#fff" stroke-width="1.3" stroke-linecap="round" opacity="0.92"/>
<path d="M1723.9,377.9 Q1654.2,434.7 1606.5,379.7" fill="none" stroke="#fff" stroke-width="1.3" stroke-linecap="round" opacity="0.92"/>
<path d="M1740.4,383.4 Q1733.1,420.1 1670.7,420.1" fill="none" stroke="#fff" stroke-width="1.3" stroke-linecap="round" opacity="0.92"/>
<path d="M1670.7,420.1 Q1626.7,431.1 1602.9,407.2" fill="none" stroke="#fff" stroke-width="1.3" stroke-linecap="round" opacity="0.92"/>
<path d="M1663.4,432.9 Q1645,435.7 1624.9,427.4" fill="none" stroke="#fff" stroke-width="1.3" stroke-linecap="round" opacity="0.92"/>
<path d="M1626.7,445.8 Q1615.7,447.6 1606.5,436.6" fill="none" stroke="#fff" stroke-width="1.3" stroke-linecap="round" opacity="0.92"/>
<path d="M1659.7,380.7 Q1670.7,381.6 1679.9,378.8" fill="none" stroke="#fff" stroke-width="1.3" stroke-linecap="round" opacity="0.92"/>
<path d="M1590,445.8 Q1592.8,401.7 1589.1,346.7" fill="none" stroke="#fff" stroke-width="1.3" stroke-linecap="round" opacity="0.92"/>
<path d="M1575.4,445.8 Q1583.6,420.1 1579.9,350.4" fill="none" stroke="#fff" stroke-width="1.3" stroke-linecap="round" opacity="0.92"/>
<path d="M1606.5,326.6 Q1612,339.4 1617.5,352.2" fill="none" stroke="#fff" stroke-width="1.3" stroke-linecap="round" opacity="0.92"/>
<path d="M1491,337.6 Q1520.3,355.9 1551.5,344" fill="none" stroke="#fff" stroke-width="1.3" stroke-linecap="round" opacity="0.92"/>
<path d="M1493.8,262.4 Q1490.1,291.7 1503.8,310" fill="none" stroke="#fff" stroke-width="1.3" stroke-linecap="round" opacity="0.92"/>
<path d="M1491,326.6 Q1522.2,361.4 1566.2,346.7" fill="none" stroke="#fff" stroke-width="1.3" stroke-linecap="round" opacity="0.92"/>
<path d="M5.5,0 L-5,4 L-5,-4Z" fill="#fff" transform="translate(1499.4 177.4) rotate(-50.7)"/>
<path d="M5.5,0 L-5,4 L-5,-4Z" fill="#fff" transform="translate(1533.2 178.7) rotate(-26.6)"/>
<path d="M5.5,0 L-5,4 L-5,-4Z" fill="#fff" transform="translate(1574.5 184.7) rotate(-3.5)"/>
<path d="M5.5,0 L-5,4 L-5,-4Z" fill="#fff" transform="translate(1517.8 214.8) rotate(-43)"/>
<path d="M5.5,0 L-5,4 L-5,-4Z" fill="#fff" transform="translate(1556.9 198) rotate(-6.9)"/>
<path d="M5.5,0 L-5,4 L-5,-4Z" fill="#fff" transform="translate(1560.6 206.8) rotate(-7.9)"/>
<path d="M5.5,0 L-5,4 L-5,-4Z" fill="#fff" transform="translate(1535.5 250.7) rotate(-77.6)"/>
<path d="M5.5,0 L-5,4 L-5,-4Z" fill="#fff" transform="translate(1492.9 235.2) rotate(-96.5)"/>
<path d="M5.5,0 L-5,4 L-5,-4Z" fill="#fff" transform="translate(1612.9 170.1) rotate(-99.3)"/>
<path d="M5.5,0 L-5,4 L-5,-4Z" fill="#fff" transform="translate(1642.7 178.2) rotate(-52.8)"/>
<path d="M7.3,0 L-6.6,5.3 L-6.6,-5.3Z" fill="#fff" transform="translate(1680.9 258.3) rotate(176.5)"/>
<path d="M7.3,0 L-6.6,5.3 L-6.6,-5.3Z" fill="#fff" transform="translate(1689.1 269.7) rotate(177.2)"/>
<path d="M6.5,0 L-5.9,4.7 L-5.9,-4.7Z" fill="#fff" transform="translate(1684.2 237.6) rotate(180)"/>
<path d="M6.2,0 L-5.6,4.5 L-5.6,-4.5Z" fill="#fff" transform="translate(1691.1 236) rotate(-178.2)"/>
<path d="M5.5,0 L-5,4 L-5,-4Z" fill="#fff" transform="translate(1688.6 221) rotate(-178.5)"/>
<path d="M5.5,0 L-5,4 L-5,-4Z" fill="#fff" transform="translate(1686.6 208.1) rotate(177.6)"/>
<path d="M5.5,0 L-5,4 L-5,-4Z" fill="#fff" transform="translate(1725.7 167.2) rotate(-174.2)"/>
<path d="M5.5,0 L-5,4 L-5,-4Z" fill="#fff" transform="translate(1744.5 201.2) rotate(-107.4)"/>
<path d="M5.5,0 L-5,4 L-5,-4Z" fill="#fff" transform="translate(1758.9 169.2) rotate(68.2)"/>
<path d="M5.5,0 L-5,4 L-5,-4Z" fill="#fff" transform="translate(1766.4 174.6) rotate(73.3)"/>
<path d="M5.5,0 L-5,4 L-5,-4Z" fill="#fff" transform="translate(1775.3 247.4) rotate(-82.8)"/>
<path d="M5.5,0 L-5,4 L-5,-4Z" fill="#fff" transform="translate(1770.6 273.5) rotate(-76.8)"/>
<path d="M7.8,0 L-7.1,5.7 L-7.1,-5.7Z" fill="#fff" transform="translate(1743.6 297) rotate(157.3)"/>
<path d="M7.8,0 L-7.1,5.7 L-7.1,-5.7Z" fill="#fff" transform="translate(1747.8 305.4) rotate(-172.8)"/>
<path d="M7.8,0 L-7.1,5.7 L-7.1,-5.7Z" fill="#fff" transform="translate(1719.8 327.5) rotate(80.4)"/>
<path d="M6.5,0 L-5.9,4.7 L-5.9,-4.7Z" fill="#fff" transform="translate(1733.4 403.8) rotate(96.9)"/>
<path d="M6.5,0 L-5.9,4.7 L-5.9,-4.7Z" fill="#fff" transform="translate(1759.1 349.1) rotate(53.5)"/>
<path d="M6.5,0 L-5.9,4.7 L-5.9,-4.7Z" fill="#fff" transform="translate(1769.5 346) rotate(45)"/>
<path d="M5.5,0 L-5,4 L-5,-4Z" fill="#fff" transform="translate(1750.2 388) rotate(68.4)"/>
<path d="M5.5,0 L-5,4 L-5,-4Z" fill="#fff" transform="translate(1765.2 374.7) rotate(48.4)"/>
<path d="M5.5,0 L-5,4 L-5,-4Z" fill="#fff" transform="translate(1742.3 426.5) rotate(89.3)"/>
<path d="M5.5,0 L-5,4 L-5,-4Z" fill="#fff" transform="translate(1759.2 436.8) rotate(-11.6)"/>
<path d="M5.5,0 L-5,4 L-5,-4Z" fill="#fff" transform="translate(1755.1 393) rotate(51.3)"/>
<path d="M7,0 L-6.4,5.1 L-6.4,-5.1Z" fill="#fff" transform="translate(1671 337.2) rotate(165.7)"/>
<path d="M6.5,0 L-5.9,4.7 L-5.9,-4.7Z" fill="#fff" transform="translate(1671.6 355.9) rotate(161.2)"/>
<path d="M6.5,0 L-5.9,4.7 L-5.9,-4.7Z" fill="#fff" transform="translate(1619.8 347.2) rotate(-143.5)"/>
<path d="M5.5,0 L-5,4 L-5,-4Z" fill="#fff" transform="translate(1677.2 363.7) rotate(172.6)"/>
<path d="M5.5,0 L-5,4 L-5,-4Z" fill="#fff" transform="translate(1663.6 391.2) rotate(178.8)"/>
<path d="M5.5,0 L-5,4 L-5,-4Z" fill="#fff" transform="translate(1665.6 406.4) rotate(173.8)"/>
<path d="M5.5,0 L-5,4 L-5,-4Z" fill="#fff" transform="translate(1674.4 420) rotate(179)"/>
<path d="M5.5,0 L-5,4 L-5,-4Z" fill="#fff" transform="translate(1646.5 433.2) rotate(-173.4)"/>
<path d="M5.5,0 L-5,4 L-5,-4Z" fill="#fff" transform="translate(1614.2 443.3) rotate(-149.3)"/>
<path d="M5.5,0 L-5,4 L-5,-4Z" fill="#fff" transform="translate(1666.2 380.9) rotate(-1)"/>
<path d="M5.5,0 L-5,4 L-5,-4Z" fill="#fff" transform="translate(1591.2 403.9) rotate(-90.2)"/>
<path d="M5.5,0 L-5,4 L-5,-4Z" fill="#fff" transform="translate(1616.4 349.7) rotate(66.8)"/>
<path d="M5.5,0 L-5,4 L-5,-4Z" fill="#fff" transform="translate(1514.8 347.4) rotate(11.7)"/>
<path d="M5.5,0 L-5,4 L-5,-4Z" fill="#fff" transform="translate(1498.1 300.2) rotate(66)"/>
<rect x="1497.4" y="359.5" width="76" height="78.8" fill="#c9c9d3" stroke="#fff" stroke-width="2" fill-opacity="0.86"/>
<rect x="1492.7" y="152" width="28" height="8.6" fill="#fdca55" />
<rect x="1530.8" y="152" width="28" height="8.6" fill="#fdca55" />
<rect x="1568.8" y="152" width="28" height="8.6" fill="#fdca55" />
<rect x="1606.9" y="152" width="28" height="8.6" fill="#fdca55" />
<rect x="1645" y="152" width="28" height="8.6" fill="#fdca55" />
<rect x="1683" y="152" width="28" height="8.6" fill="#fdca55" />
<rect x="1721.1" y="152" width="28" height="8.6" fill="#fdca55" />
<rect x="1759.2" y="152" width="28" height="8.6" fill="#fdca55" />
<rect x="1778.8" y="151.8" width="8.8" height="28.2" fill="#fdca55" />
<rect x="1778.8" y="189.9" width="8.8" height="28.2" fill="#fdca55" />
<rect x="1778.8" y="227.9" width="8.8" height="28.2" fill="#fdca55" />
<rect x="1778.8" y="266" width="8.8" height="28.2" fill="#fdca55" />
<rect x="1778.8" y="304.1" width="8.8" height="28.2" fill="#fdca55" />
<rect x="1778.8" y="342.1" width="8.8" height="28.2" fill="#fdca55" />
<rect x="1778.8" y="380.2" width="8.8" height="28.2" fill="#fdca55" />
<rect x="1778.8" y="418.3" width="8.8" height="28.2" fill="#fdca55" />
</g>
<rect x="1489.4" y="151.2" width="298.2" height="295.6" fill="none" stroke="#222" stroke-width="1.2" />
<defs><marker id="carr" viewBox="0 0 10 10" refX="5" refY="5" markerWidth="5.5" markerHeight="5.5" orient="auto-start-reverse"><path d="M0,0 L10,5 L0,10 Z" fill="#000"/></marker></defs>
<line x1="1535.5" y1="369" x2="1564" y2="397.3" stroke="#000" stroke-width="2.4" marker-start="url(#carr)" marker-end="url(#carr)"/>
<text x="1506.5" y="414.5" font-size="21.5" >135°</text>
<line x1="1550.2" y1="446.8" x2="1550.2" y2="452.8" stroke="#222" stroke-width="1.2" />
<line x1="1550.2" y1="140.3" x2="1550.2" y2="134.5" stroke="#222" stroke-width="1.2" />
<line x1="1489.4" y1="387" x2="1483.4" y2="387" stroke="#222" stroke-width="1.2" />
<line x1="1795.4" y1="387" x2="1802.5" y2="387" stroke="#222" stroke-width="1.2" />
<text x="1550.2" y="478.5" font-size="21" text-anchor="middle" >−0.5</text>
<text x="1474" y="394.5" font-size="21" text-anchor="end" >−0.5</text>
<line x1="1637.4" y1="446.8" x2="1637.4" y2="452.8" stroke="#222" stroke-width="1.2" />
<line x1="1637.4" y1="140.3" x2="1637.4" y2="134.5" stroke="#222" stroke-width="1.2" />
<line x1="1489.4" y1="299.3" x2="1483.4" y2="299.3" stroke="#222" stroke-width="1.2" />
<text x="1637.4" y="478.5" font-size="21" text-anchor="middle" >0</text>
<text x="1474" y="306.8" font-size="21" text-anchor="end" >0</text>
<line x1="1724.6" y1="446.8" x2="1724.6" y2="452.8" stroke="#222" stroke-width="1.2" />
<line x1="1724.6" y1="140.3" x2="1724.6" y2="134.5" stroke="#222" stroke-width="1.2" />
<line x1="1489.4" y1="211.6" x2="1483.4" y2="211.6" stroke="#222" stroke-width="1.2" />
<line x1="1795.4" y1="211.6" x2="1802.5" y2="211.6" stroke="#222" stroke-width="1.2" />
<text x="1724.6" y="478.5" font-size="21" text-anchor="middle" >0.5</text>
<text x="1474" y="219.1" font-size="21" text-anchor="end" >0.5</text>
<text x="1637" y="510" font-size="21" text-anchor="middle" ><tspan font-style="italic">x</tspan> (µm)</text>
<text x="1416.5" y="299" font-size="21" text-anchor="middle" transform="rotate(-90 1416.5 299)" ><tspan font-style="italic">y</tspan> (µm)</text>
<line x1="1489.4" y1="88.8" x2="1785.6" y2="88.8" stroke="#000" stroke-width="2.4" stroke-dasharray="2.4 3.6"/>
<path d="M1488.6,86.2 L1506.6,83.6 L1532.8,82.4 L1558.9,82.9 L1585.1,84.2 L1611.2,86.7 L1637.4,89.1 L1658.3,90.3 L1681,90.9 L1707.2,90.3 L1733.3,89.1 L1759.5,87.5 L1776.9,86.5 L1786.2,86.7" fill="none" stroke="#0c10e6" stroke-width="6.2" stroke-linejoin="round"/>
<rect x="1489.4" y="37.2" width="296.2" height="103.1" fill="none" stroke="#222" stroke-width="1.2" />
<text x="1476.5" y="43.5" font-size="21" text-anchor="end" >1</text>
<text x="1476.5" y="96.3" font-size="21" text-anchor="end" >0</text>
<text x="1476.5" y="147.3" font-size="21" text-anchor="end" >−1</text>
<text x="1443.5" y="88.8" font-size="21" text-anchor="middle" transform="rotate(-90 1443.5 88.8)" ><tspan font-style="italic">j</tspan> (a.u.)</text>
<defs><marker id="carrb" viewBox="0 0 10 10" refX="6" refY="5" markerWidth="6" markerHeight="6" orient="auto"><path d="M0,0 L10,5 L0,10 L2,5Z" fill="#0c10e6"/></marker><marker id="carrr" viewBox="0 0 10 10" refX="6" refY="5" markerWidth="6" markerHeight="6" orient="auto"><path d="M0,0 L10,5 L0,10 L2,5Z" fill="#f01010"/></marker></defs>
<line x1="1640" y1="147" x2="1640" y2="114" stroke="#0c10e6" stroke-width="2.6" marker-end="url(#carrb)"/>
<text x="1670.8" y="124.6" font-size="21.5" fill="#0c10e6" ><tspan font-style="italic">J</tspan><tspan font-size="62%" dy="0.35em"><tspan font-style="italic">y</tspan></tspan><tspan dy="-0.22em">&#8203;</tspan> = 0.03</text>
<rect x="1795.4" y="104.5" width="104.6" height="25.8" fill="url(#ccbar)" stroke="#222" stroke-width="1" />
<line x1="1795.4" y1="104.5" x2="1795.4" y2="99.5" stroke="#222" stroke-width="1.2" />
<text x="1796.4" y="90" font-size="21" text-anchor="middle" >0</text>
<line x1="1839.9" y1="104.5" x2="1839.9" y2="99.5" stroke="#222" stroke-width="1.2" />
<text x="1839.9" y="90" font-size="21" text-anchor="middle" >10</text>
<line x1="1884.4" y1="104.5" x2="1884.4" y2="99.5" stroke="#222" stroke-width="1.2" />
<text x="1884.4" y="90" font-size="21" text-anchor="middle" >20</text>
<text x="1848" y="58.8" font-size="21" text-anchor="middle" >|<tspan font-style="italic">E</tspan>|</text>
<line x1="1847.8" y1="151.2" x2="1847.8" y2="446.8" stroke="#000" stroke-width="2.4" stroke-dasharray="2.4 3.6"/>
<g clip-path="url(#cclipr)">
<defs><clipPath id="cclipr"><rect x="1795.4" y="151.2" width="104.6" height="295.6"/></clipPath></defs>
<path d="M1847.8,151.4 C1848.2,152.8 1849.8,156.6 1850.4,159.8 C1851,163 1851.2,166.2 1851.3,170.5 C1851.4,174.8 1851.1,180.6 1851,185.7 C1850.8,190.8 1850.5,195.9 1850.4,200.9 C1850.2,206 1850.2,211.1 1850.1,216.2 C1850,221.3 1849.8,226.3 1849.8,231.4 C1849.7,236.5 1849.7,242.1 1849.8,246.6 C1849.9,251.2 1850,255 1850.4,258.8 C1850.8,262.6 1851.3,265.7 1852.4,269.5 C1853.5,273.3 1855.2,277.6 1856.9,281.7 C1858.7,285.7 1861,289.8 1863,293.9 C1865.1,297.9 1867.5,302 1869.1,306.1 C1870.8,310.1 1872.2,314.2 1872.9,318.2 C1873.7,322.3 1873.8,326.4 1873.7,330.4 C1873.6,334.5 1872.9,338.3 1872.2,342.6 C1871.4,346.9 1870.2,351.5 1869.1,356.3 C1868,361.2 1866.8,366.5 1865.6,371.6 C1864.5,376.6 1863.3,381.7 1862.3,386.8 C1861.3,391.9 1860.4,397 1859.5,402 C1858.6,407.1 1857.9,412.7 1856.9,417.3 C1856,421.8 1855,425.6 1853.9,429.5 C1852.8,433.3 1851.5,437.3 1850.4,440.1 C1849.2,442.9 1847.6,445.2 1847,446.2" fill="none" stroke="#f80d0d" stroke-width="6.2" />
</g>
<rect x="1795.4" y="151.2" width="104.6" height="295.6" fill="none" stroke="#222" stroke-width="1.2" />
<text x="1795.7" y="478.5" font-size="21" text-anchor="middle" >−1</text>
<text x="1848" y="478.5" font-size="21" text-anchor="middle" >0</text>
<text x="1900.3" y="478.5" font-size="21" text-anchor="middle" >1</text>
<line x1="1848" y1="446.8" x2="1848" y2="452.8" stroke="#222" stroke-width="1.2" />
<text x="1848" y="510" font-size="21" text-anchor="middle" ><tspan font-style="italic">j</tspan> (a.u.)</text>
<line x1="1790.5" y1="295.8" x2="1826" y2="295.8" stroke="#f01010" stroke-width="2.4" marker-end="url(#carrr)"/>
<text x="1809" y="376" font-size="21.5" text-anchor="middle" fill="#f01010" transform="rotate(90 1809 376)" ><tspan font-style="italic">J</tspan><tspan font-size="62%" dy="0.35em"><tspan font-style="italic">x</tspan></tspan><tspan dy="-0.22em">&#8203;</tspan> = 0.20</text>
<text x="1335.7" y="80.4" font-size="54" >(c)</text></g>
<g id="panel_d"><defs><marker id="darr" viewBox="0 0 10 10" refX="6" refY="5" markerWidth="8" markerHeight="8" orient="auto-start-reverse"><path d="M0,0.5 L10,5 L0,9.5 L2.5,5 Z" fill="#7f7f7f"/></marker></defs>
<path d="M296.6,746.3 L250,659.1 A4,4 0 0 0 242.5,661.1 L245.8,759.9 A27,27 0 1 0 296.6,746.3Z" fill="#ffd04d" />
<path d="M430,773.2 L480.9,690.6 A4,4 0 0 0 475.4,685.1 L392.8,736 A27,27 0 1 0 430,773.2Z" fill="#ffd04d" />
<line x1="137.6" y1="754.6" x2="544.4" y2="754.6" stroke="#808080" stroke-width="3.6" stroke-dasharray="10.8 6"/>
<rect x="106.3" y="662.6" width="29.2" height="132.4" fill="#ffe699" stroke="#000" stroke-width="2.8" />
<rect x="545.6" y="666.4" width="32" height="131" fill="#ffe699" stroke="#000" stroke-width="2.8" />
<text x="120.8" y="742" font-size="27" text-anchor="middle" >D</text>
<text x="561.5" y="742.5" font-size="27" text-anchor="middle" >S</text>
<line x1="286.4" y1="794.2" x2="240.2" y2="628.5" stroke="#7f7f7f" stroke-width="2.2" marker-end="url(#darr)"/>
<line x1="381" y1="789" x2="499.5" y2="670" stroke="#7f7f7f" stroke-width="2.2" marker-end="url(#darr)"/>
<path d="M304,755.3 A28.5,28.5 0 0 0 271,727.5" fill="none" stroke="#7f7f7f" stroke-width="2.2" marker-end="url(#darr)"/>
<path d="M450,755.3 A35,35 0 0 0 441.5,734" fill="none" stroke="#7f7f7f" stroke-width="2" marker-end="url(#darr)"/>
<text x="306" y="738" font-size="24.5" ><tspan font-style="italic" font-family='"Liberation Serif", serif'>θ</tspan><tspan font-size="62%" dy="0.35em">1</tspan><tspan dy="-0.22em">&#8203;</tspan></text>
<text x="460.5" y="740" font-size="24.5" ><tspan font-style="italic" font-family='"Liberation Serif", serif'>θ</tspan><tspan font-size="62%" dy="0.35em">2</tspan><tspan dy="-0.22em">&#8203;</tspan></text>
<rect x="74.3" y="892" width="535.6" height="64.6" fill="#fff2cc" stroke="#7f7f7f" stroke-width="3" />
<text x="342" y="931" font-size="25" text-anchor="middle" letter-spacing="0.7"><tspan font-style="italic">J</tspan> (<tspan font-style="italic" font-family='"Liberation Serif", serif'>θ</tspan><tspan font-size="72%" dy="0.36em">1</tspan><tspan dy="-0.26em">&#8203;</tspan>, <tspan font-style="italic" font-family='"Liberation Serif", serif'>θ</tspan><tspan font-size="72%" dy="0.36em">2</tspan><tspan dy="-0.26em">&#8203;</tspan>, <tspan font-style="italic" font-family='"Liberation Serif", serif'>φ</tspan>) = <tspan font-style="italic">J</tspan> (<tspan font-style="italic" font-family='"Liberation Serif", serif'>θ</tspan><tspan font-size="72%" dy="0.36em">1</tspan><tspan dy="-0.26em">&#8203;</tspan>, <tspan font-style="italic" font-family='"Liberation Serif", serif'>φ</tspan>) + <tspan font-style="italic">J</tspan> (<tspan font-style="italic" font-family='"Liberation Serif", serif'>θ</tspan><tspan font-size="72%" dy="0.36em">2</tspan><tspan dy="-0.26em">&#8203;</tspan>, <tspan font-style="italic" font-family='"Liberation Serif", serif'>φ</tspan>)</text>
<text x="37" y="572" font-size="54" >(d)</text></g>
<g id="panel_e"><defs><clipPath id="eclip"><rect x="790.8" y="551.3" width="425.2" height="442.5"/></clipPath><marker id="earr" viewBox="0 0 10 10" refX="7" refY="5" markerWidth="6.5" markerHeight="6.5" orient="auto"><path d="M0,0.8 L10,5 L0,9.2 L2.2,5 Z" fill="#000"/></marker></defs>
<line x1="790.8" y1="773.2" x2="1216" y2="773.2" stroke="#000" stroke-width="2.6" stroke-dasharray="3 4.6"/>
<g clip-path="url(#eclip)">
<path d="M790.8,668.5 L797.9,668.4 L805,668 L812.1,667.3 L819.1,666.5 L826.2,665.3 L833.3,664 L840.4,662.4 L847.5,660.7 L854.6,658.7 L861.7,656.7 L868.8,654.5 L875.8,652.2 L882.9,649.8 L890,647.3 L897.1,644.8 L904.2,642.4 L911.3,639.9 L918.4,637.5 L925.4,635.2 L932.5,633 L939.6,630.9 L946.7,629 L953.8,627.3 L960.9,625.7 L968,624.4 L975.1,623.2 L982.1,622.3 L989.2,621.7 L996.3,621.3 L1003.4,621.2 L1010.5,621.3 L1017.6,621.7 L1024.7,622.3 L1031.7,623.2 L1038.8,624.4 L1045.9,625.7 L1053,627.3 L1060.1,629 L1067.2,630.9 L1074.3,633 L1081.4,635.2 L1088.4,637.5 L1095.5,639.9 L1102.6,642.4 L1109.7,644.8 L1116.8,647.3 L1123.9,649.8 L1131,652.2 L1138,654.5 L1145.1,656.7 L1152.2,658.7 L1159.3,660.7 L1166.4,662.4 L1173.5,664 L1180.6,665.3 L1187.7,666.5 L1194.7,667.3 L1201.8,668 L1208.9,668.4 L1216,668.5" fill="none" stroke="#d62a2e" stroke-width="6.4" stroke-linejoin="round"/>
<path d="M790.8,581.9 L797.9,583.1 L805,585.4 L812.1,588.7 L819.1,593.1 L826.2,598.4 L833.3,604.7 L840.4,611.8 L847.5,619.7 L854.6,628.3 L861.7,637.5 L868.8,647.2 L875.8,657.2 L882.9,667.6 L890,678.1 L897.1,688.6 L904.2,699.1 L911.3,709.4 L918.4,719.4 L925.4,729.1 L932.5,738.2 L939.6,746.7 L946.7,754.4 L953.8,761.5 L960.9,767.6 L968,772.8 L975.1,777 L982.1,780.2 L989.2,782.3 L996.3,783.3 L1003.4,783.3 L1010.5,782.1 L1017.6,779.8 L1024.7,776.5 L1031.7,772.1 L1038.8,766.8 L1045.9,760.5 L1053,753.4 L1060.1,745.5 L1067.2,736.9 L1074.3,727.7 L1081.4,718 L1088.4,708 L1095.5,697.6 L1102.6,687.1 L1109.7,676.6 L1116.8,666.1 L1123.9,655.8 L1131,645.7 L1138,636.1 L1145.1,627 L1152.2,618.5 L1159.3,610.7 L1166.4,603.7 L1173.5,597.6 L1180.6,592.4 L1187.7,588.2 L1194.7,585 L1201.8,582.9 L1208.9,581.8 L1216,581.9" fill="none" stroke="#ff7f0e" stroke-width="6.4" stroke-linejoin="round"/>
<path d="M790.8,774.8 L797.9,759.8 L805,745 L812.1,730.5 L819.1,716.5 L826.2,703.1 L833.3,690.5 L840.4,678.9 L847.5,668.3 L854.6,658.8 L861.7,650.7 L868.8,643.8 L875.8,638.5 L882.9,634.6 L890,632.2 L897.1,631.4 L904.2,632.2 L911.3,634.6 L918.4,638.5 L925.4,643.8 L932.5,650.7 L939.6,658.8 L946.7,668.3 L953.8,678.9 L960.9,690.5 L968,703.1 L975.1,716.5 L982.1,730.5 L989.2,745 L996.3,759.8 L1003.4,774.8 L1010.5,789.8 L1017.6,804.6 L1024.7,819.1 L1031.7,833.1 L1038.8,846.5 L1045.9,859.1 L1053,870.7 L1060.1,881.3 L1067.2,890.8 L1074.3,899 L1081.4,905.8 L1088.4,911.2 L1095.5,915 L1102.6,917.4 L1109.7,918.2 L1116.8,917.4 L1123.9,915 L1131,911.2 L1138,905.8 L1145.1,899 L1152.2,890.8 L1159.3,881.3 L1166.4,870.7 L1173.5,859.1 L1180.6,846.5 L1187.7,833.1 L1194.7,819.1 L1201.8,804.6 L1208.9,789.8 L1216,774.8" fill="none" stroke="#1f77b4" stroke-width="6.4" stroke-linejoin="round"/>
<circle cx="802.6" cy="669.4" r="8.2" fill="none" stroke="#d62a2e" stroke-width="1.5" />
<circle cx="826.2" cy="665.1" r="8.2" fill="none" stroke="#d62a2e" stroke-width="1.5" />
<circle cx="849.9" cy="660.7" r="8.2" fill="none" stroke="#d62a2e" stroke-width="1.5" />
<circle cx="873.5" cy="652.4" r="8.2" fill="none" stroke="#d62a2e" stroke-width="1.5" />
<circle cx="897.1" cy="644.2" r="8.2" fill="none" stroke="#d62a2e" stroke-width="1.5" />
<circle cx="920.7" cy="638.8" r="8.2" fill="none" stroke="#d62a2e" stroke-width="1.5" />
<circle cx="944.3" cy="632" r="8.2" fill="none" stroke="#d62a2e" stroke-width="1.5" />
<circle cx="968" cy="622.7" r="8.2" fill="none" stroke="#d62a2e" stroke-width="1.5" />
<circle cx="991.6" cy="622.7" r="8.2" fill="none" stroke="#d62a2e" stroke-width="1.5" />
<circle cx="1015.2" cy="622.8" r="8.2" fill="none" stroke="#d62a2e" stroke-width="1.5" />
<circle cx="1038.8" cy="622" r="8.2" fill="none" stroke="#d62a2e" stroke-width="1.5" />
<circle cx="1062.5" cy="629.8" r="8.2" fill="none" stroke="#d62a2e" stroke-width="1.5" />
<circle cx="1086.1" cy="635.1" r="8.2" fill="none" stroke="#d62a2e" stroke-width="1.5" />
<circle cx="1109.7" cy="645" r="8.2" fill="none" stroke="#d62a2e" stroke-width="1.5" />
<circle cx="1133.3" cy="652.3" r="8.2" fill="none" stroke="#d62a2e" stroke-width="1.5" />
<circle cx="1156.9" cy="661.7" r="8.2" fill="none" stroke="#d62a2e" stroke-width="1.5" />
<circle cx="1180.6" cy="664.7" r="8.2" fill="none" stroke="#d62a2e" stroke-width="1.5" />
<circle cx="1204.2" cy="666.4" r="8.2" fill="none" stroke="#d62a2e" stroke-width="1.5" />
<circle cx="802.6" cy="584.4" r="8.2" fill="none" stroke="#ff7f0e" stroke-width="1.5" />
<circle cx="826.2" cy="597.3" r="8.2" fill="none" stroke="#ff7f0e" stroke-width="1.5" />
<circle cx="849.9" cy="621.7" r="8.2" fill="none" stroke="#ff7f0e" stroke-width="1.5" />
<circle cx="873.5" cy="655.9" r="8.2" fill="none" stroke="#ff7f0e" stroke-width="1.5" />
<circle cx="897.1" cy="687.4" r="8.2" fill="none" stroke="#ff7f0e" stroke-width="1.5" />
<circle cx="920.7" cy="722.3" r="8.2" fill="none" stroke="#ff7f0e" stroke-width="1.5" />
<circle cx="944.3" cy="752.9" r="8.2" fill="none" stroke="#ff7f0e" stroke-width="1.5" />
<circle cx="968" cy="775.1" r="8.2" fill="none" stroke="#ff7f0e" stroke-width="1.5" />
<circle cx="991.6" cy="781" r="8.2" fill="none" stroke="#ff7f0e" stroke-width="1.5" />
<circle cx="1015.2" cy="780.8" r="8.2" fill="none" stroke="#ff7f0e" stroke-width="1.5" />
<circle cx="1038.8" cy="765.7" r="8.2" fill="none" stroke="#ff7f0e" stroke-width="1.5" />
<circle cx="1062.5" cy="740.8" r="8.2" fill="none" stroke="#ff7f0e" stroke-width="1.5" />
<circle cx="1086.1" cy="710.3" r="8.2" fill="none" stroke="#ff7f0e" stroke-width="1.5" />
<circle cx="1109.7" cy="674.5" r="8.2" fill="none" stroke="#ff7f0e" stroke-width="1.5" />
<circle cx="1133.3" cy="643" r="8.2" fill="none" stroke="#ff7f0e" stroke-width="1.5" />
<circle cx="1156.9" cy="611.8" r="8.2" fill="none" stroke="#ff7f0e" stroke-width="1.5" />
<circle cx="1180.6" cy="592.7" r="8.2" fill="none" stroke="#ff7f0e" stroke-width="1.5" />
<circle cx="1204.2" cy="580.3" r="8.2" fill="none" stroke="#ff7f0e" stroke-width="1.5" />
<circle cx="802.6" cy="748.1" r="8.2" fill="none" stroke="#1f77b4" stroke-width="1.5" />
<circle cx="826.2" cy="705.1" r="8.2" fill="none" stroke="#1f77b4" stroke-width="1.5" />
<circle cx="849.9" cy="666.7" r="8.2" fill="none" stroke="#1f77b4" stroke-width="1.5" />
<circle cx="873.5" cy="641.5" r="8.2" fill="none" stroke="#1f77b4" stroke-width="1.5" />
<circle cx="897.1" cy="629.2" r="8.2" fill="none" stroke="#1f77b4" stroke-width="1.5" />
<circle cx="920.7" cy="640.4" r="8.2" fill="none" stroke="#1f77b4" stroke-width="1.5" />
<circle cx="944.3" cy="664.4" r="8.2" fill="none" stroke="#1f77b4" stroke-width="1.5" />
<circle cx="968" cy="704.1" r="8.2" fill="none" stroke="#1f77b4" stroke-width="1.5" />
<circle cx="991.6" cy="749.9" r="8.2" fill="none" stroke="#1f77b4" stroke-width="1.5" />
<circle cx="1015.2" cy="800.3" r="8.2" fill="none" stroke="#1f77b4" stroke-width="1.5" />
<circle cx="1038.8" cy="847.2" r="8.2" fill="none" stroke="#1f77b4" stroke-width="1.5" />
<circle cx="1062.5" cy="884.2" r="8.2" fill="none" stroke="#1f77b4" stroke-width="1.5" />
<circle cx="1086.1" cy="909.1" r="8.2" fill="none" stroke="#1f77b4" stroke-width="1.5" />
<circle cx="1109.7" cy="916.2" r="8.2" fill="none" stroke="#1f77b4" stroke-width="1.5" />
<circle cx="1133.3" cy="908.6" r="8.2" fill="none" stroke="#1f77b4" stroke-width="1.5" />
<circle cx="1156.9" cy="882.6" r="8.2" fill="none" stroke="#1f77b4" stroke-width="1.5" />
<circle cx="1180.6" cy="844.8" r="8.2" fill="none" stroke="#1f77b4" stroke-width="1.5" />
<circle cx="1204.2" cy="797.3" r="8.2" fill="none" stroke="#1f77b4" stroke-width="1.5" />
</g>
<rect x="790.8" y="551.3" width="425.2" height="442.5" fill="none" stroke="#222" stroke-width="1.3" />
<text x="790.8" y="1025" font-size="25" text-anchor="middle" >0</text>
<line x1="897.1" y1="993.8" x2="897.1" y2="984.8" stroke="#222" stroke-width="1.3" />
<text x="897.1" y="1025" font-size="25" text-anchor="middle" >45</text>
<line x1="1003.4" y1="993.8" x2="1003.4" y2="984.8" stroke="#222" stroke-width="1.3" />
<text x="1003.4" y="1025" font-size="25" text-anchor="middle" >90</text>
<line x1="1109.7" y1="993.8" x2="1109.7" y2="984.8" stroke="#222" stroke-width="1.3" />
<text x="1109.7" y="1025" font-size="25" text-anchor="middle" >135</text>
<text x="1216" y="1025" font-size="25" text-anchor="middle" >180</text>
<line x1="790.8" y1="571.9" x2="799.8" y2="571.9" stroke="#222" stroke-width="1.3" />
<text x="778.5" y="580.9" font-size="25" text-anchor="end" >1.0</text>
<line x1="790.8" y1="672.5" x2="799.8" y2="672.5" stroke="#222" stroke-width="1.3" />
<text x="778.5" y="681.5" font-size="25" text-anchor="end" >0.5</text>
<line x1="790.8" y1="773.2" x2="799.8" y2="773.2" stroke="#222" stroke-width="1.3" />
<text x="778.5" y="782.2" font-size="25" text-anchor="end" >0</text>
<line x1="790.8" y1="873.9" x2="799.8" y2="873.9" stroke="#222" stroke-width="1.3" />
<text x="778.5" y="882.9" font-size="25" text-anchor="end" >−0.5</text>
<line x1="790.8" y1="974.6" x2="799.8" y2="974.6" stroke="#222" stroke-width="1.3" />
<text x="778.5" y="983.6" font-size="25" text-anchor="end" >−1.0</text>
<text x="1003" y="1063.5" font-size="25" text-anchor="middle" ><tspan font-style="italic" font-family='"Liberation Serif", serif'>φ</tspan> (°)</text>
<text x="709.5" y="772.8" font-size="25.5" text-anchor="middle" transform="rotate(-90 709.5 772.8)" >Photoresponse (a.u.)</text>
<text x="830.5" y="856" font-size="24.5" >(<tspan font-style="italic" font-family='"Liberation Serif", serif'>θ</tspan><tspan font-size="62%" dy="0.35em">1</tspan><tspan dy="-0.22em">&#8203;</tspan>, <tspan font-style="italic" font-family='"Liberation Serif", serif'>θ</tspan><tspan font-size="62%" dy="0.35em">2</tspan><tspan dy="-0.22em">&#8203;</tspan>) =</text>
<line x1="810.5" y1="885" x2="866.6" y2="885" stroke="#d62a2e" stroke-width="6.4" />
<text x="880.7" y="893" font-size="25" >(45°, −45°)</text>
<line x1="810.5" y1="921" x2="866.6" y2="921" stroke="#ff7f0e" stroke-width="6.4" />
<text x="880.7" y="929" font-size="25" >(90°, 0°)</text>
<line x1="810.5" y1="957.3" x2="866.6" y2="957.3" stroke="#1f77b4" stroke-width="6.4" />
<text x="880.7" y="965.2" font-size="25" >(135°, 45°)</text>
<text x="1081.2" y="757" font-size="25" >Experiment</text>
<line x1="1137.4" y1="720.6" x2="1102.5" y2="699.8" stroke="#000" stroke-width="1.8" marker-end="url(#earr)"/>
<line x1="1158.3" y1="725.4" x2="1178.6" y2="678.7" stroke="#000" stroke-width="1.8" marker-end="url(#earr)"/>
<line x1="1122.6" y1="792.8" x2="1078.2" y2="870.2" stroke="#000" stroke-width="1.8" marker-end="url(#earr)"/>
<text x="660" y="574" font-size="54" >(e)</text></g>
<g id="panel_f"><defs><clipPath id="fclip"><rect x="1436" y="534.5" width="463" height="455.9"/></clipPath><clipPath id="fclip2"><rect x="1719.8" y="792" width="148.6" height="137.2"/></clipPath></defs>
<line x1="1436" y1="761.9" x2="1899" y2="761.9" stroke="#000" stroke-width="2.4" stroke-dasharray="14.5 6.2" stroke-dashoffset="7"/>
<g clip-path="url(#fclip)">
<line x1="1431.6" y1="984.8" x2="1902.2" y2="539" stroke="#d8232a" stroke-width="5.2" />
<circle cx="1456.8" cy="960.9" r="8" fill="none" stroke="#d8232a" stroke-width="2" />
<circle cx="1498.8" cy="921.1" r="8" fill="none" stroke="#d8232a" stroke-width="2" />
<circle cx="1540.8" cy="881.3" r="8" fill="none" stroke="#d8232a" stroke-width="2" />
<circle cx="1582.9" cy="841.5" r="8" fill="none" stroke="#d8232a" stroke-width="2" />
<circle cx="1624.9" cy="801.7" r="8" fill="none" stroke="#d8232a" stroke-width="2" />
<circle cx="1666.9" cy="762.7" r="8" fill="none" stroke="#d8232a" stroke-width="2" />
<circle cx="1708.9" cy="722.9" r="8" fill="none" stroke="#d8232a" stroke-width="2" />
<circle cx="1750.9" cy="682.3" r="8" fill="none" stroke="#d8232a" stroke-width="2" />
<circle cx="1793" cy="642.5" r="8" fill="none" stroke="#d8232a" stroke-width="2" />
<circle cx="1835" cy="602.7" r="8" fill="none" stroke="#d8232a" stroke-width="2" />
<circle cx="1877" cy="562.9" r="8" fill="none" stroke="#d8232a" stroke-width="2" />
</g>
<rect x="1436" y="534.5" width="463" height="455.9" fill="none" stroke="#333" stroke-width="1.3" />
<line x1="1456.8" y1="990.4" x2="1456.8" y2="982.4" stroke="#333" stroke-width="1.3" />
<text x="1456.8" y="1015.5" font-size="20.5" text-anchor="middle" >−10</text>
<line x1="1561.9" y1="990.4" x2="1561.9" y2="982.4" stroke="#333" stroke-width="1.3" />
<text x="1561.9" y="1015.5" font-size="20.5" text-anchor="middle" >−5</text>
<line x1="1666.9" y1="990.4" x2="1666.9" y2="982.4" stroke="#333" stroke-width="1.3" />
<text x="1666.9" y="1015.5" font-size="20.5" text-anchor="middle" >0</text>
<line x1="1772" y1="990.4" x2="1772" y2="982.4" stroke="#333" stroke-width="1.3" />
<text x="1772" y="1015.5" font-size="20.5" text-anchor="middle" >5</text>
<line x1="1877" y1="990.4" x2="1877" y2="982.4" stroke="#333" stroke-width="1.3" />
<text x="1877" y="1015.5" font-size="20.5" text-anchor="middle" >10</text>
<line x1="1436" y1="571.4" x2="1444" y2="571.4" stroke="#333" stroke-width="1.3" />
<text x="1426" y="578.7" font-size="20.5" text-anchor="end" >100</text>
<line x1="1436" y1="666.7" x2="1444" y2="666.7" stroke="#333" stroke-width="1.3" />
<text x="1426" y="674" font-size="20.5" text-anchor="end" >50</text>
<line x1="1436" y1="761.9" x2="1444" y2="761.9" stroke="#333" stroke-width="1.3" />
<text x="1426" y="769.2" font-size="20.5" text-anchor="end" >0</text>
<line x1="1436" y1="857.1" x2="1444" y2="857.1" stroke="#333" stroke-width="1.3" />
<text x="1426" y="864.4" font-size="20.5" text-anchor="end" >−50</text>
<line x1="1436" y1="952.4" x2="1444" y2="952.4" stroke="#333" stroke-width="1.3" />
<text x="1426" y="959.6" font-size="20.5" text-anchor="end" >−100</text>
<text x="1667" y="1049" font-size="20.5" text-anchor="middle" ><tspan font-style="italic" font-family='"Liberation Serif", serif'>φ</tspan> (°)</text>
<text x="1360" y="762" font-size="20.5" text-anchor="middle" transform="rotate(-90 1360 762)" ><tspan font-style="italic">V</tspan><tspan font-size="62%" dy="0.35em">ph</tspan><tspan dy="-0.22em">&#8203;</tspan> (µV)</text>
<text x="1463" y="591" font-size="21.3" ><tspan font-style="italic">P</tspan><tspan font-size="62%" dy="0.35em">in</tspan><tspan dy="-0.22em">&#8203;</tspan> = 350 µW</text>
<text x="1623" y="756" font-size="21.4" fill="#d8232a" transform="rotate(-42.6 1623 756)" >10.4 µV per degree</text>
<g clip-path="url(#fclip2)">
<circle cx="1734.9" cy="816.3" r="1.8"/>
<circle cx="1735.4" cy="833" r="1.8"/>
<circle cx="1736.8" cy="836.8" r="1.8"/>
<circle cx="1736.9" cy="839.5" r="1.8"/>
<circle cx="1740.9" cy="842.3" r="1.8"/>
<circle cx="1729.9" cy="838.3" r="1.8"/>
<circle cx="1722.8" cy="836.5" r="1.8"/>
<circle cx="1721.2" cy="825.2" r="1.8"/>
<circle cx="1752.6" cy="825.4" r="1.8"/>
<circle cx="1740.4" cy="839.7" r="1.8"/>
<circle cx="1725.1" cy="828" r="1.8"/>
<circle cx="1721.8" cy="842.4" r="1.8"/>
<circle cx="1726.2" cy="843.7" r="1.8"/>
<circle cx="1735.3" cy="840.6" r="1.8"/>
<circle cx="1734.5" cy="835.2" r="1.8"/>
<circle cx="1741.2" cy="830.7" r="1.8"/>
<circle cx="1736.5" cy="836.3" r="1.8"/>
<circle cx="1729.1" cy="831.6" r="1.8"/>
<circle cx="1753.2" cy="818.9" r="1.8"/>
<circle cx="1743.5" cy="843.2" r="1.8"/>
<circle cx="1730.3" cy="842.5" r="1.8"/>
<circle cx="1722.1" cy="833.2" r="1.8"/>
<circle cx="1745.4" cy="823.4" r="1.8"/>
<circle cx="1732.7" cy="829.1" r="1.8"/>
<circle cx="1751.8" cy="843.6" r="1.8"/>
<circle cx="1726.8" cy="843.5" r="1.8"/>
<circle cx="1750.2" cy="808" r="1.8"/>
<circle cx="1733.1" cy="837" r="1.8"/>
<circle cx="1722.2" cy="828.3" r="1.8"/>
<circle cx="1728.8" cy="827.4" r="1.8"/>
<circle cx="1722.7" cy="827.2" r="1.8"/>
<circle cx="1745.1" cy="814.7" r="1.8"/>
<circle cx="1723.7" cy="843.7" r="1.8"/>
<circle cx="1721.8" cy="837.9" r="1.8"/>
<circle cx="1746.4" cy="836.5" r="1.8"/>
<circle cx="1734.8" cy="828.9" r="1.8"/>
<circle cx="1726.2" cy="843.1" r="1.8"/>
<circle cx="1741.3" cy="837" r="1.8"/>
<circle cx="1723.7" cy="835.9" r="1.8"/>
<circle cx="1728.8" cy="839.6" r="1.8"/>
<circle cx="1752.3" cy="840.2" r="1.8"/>
<circle cx="1749.4" cy="833.4" r="1.8"/>
<circle cx="1726.8" cy="823.7" r="1.8"/>
<circle cx="1741.3" cy="828.1" r="1.8"/>
<circle cx="1723.2" cy="834.9" r="1.8"/>
<circle cx="1728.4" cy="843.3" r="1.8"/>
<circle cx="1745.6" cy="838.7" r="1.8"/>
<circle cx="1722.3" cy="834.3" r="1.8"/>
<circle cx="1722.8" cy="835.4" r="1.8"/>
<circle cx="1739.9" cy="839" r="1.8"/>
<circle cx="1732.2" cy="812.3" r="1.8"/>
<circle cx="1736" cy="834.3" r="1.8"/>
<circle cx="1739" cy="838.3" r="1.8"/>
<circle cx="1725" cy="837.7" r="1.8"/>
<circle cx="1750.2" cy="839.8" r="1.8"/>
<circle cx="1726.1" cy="834.9" r="1.8"/>
<circle cx="1744.5" cy="835.8" r="1.8"/>
<circle cx="1751.6" cy="840.7" r="1.8"/>
<circle cx="1749.3" cy="833" r="1.8"/>
<circle cx="1723.3" cy="835.6" r="1.8"/>
<circle cx="1721.1" cy="834.5" r="1.8"/>
<circle cx="1743.4" cy="841.6" r="1.8"/>
<circle cx="1728.4" cy="836" r="1.8"/>
<circle cx="1729.6" cy="828.2" r="1.8"/>
<circle cx="1725.7" cy="842.9" r="1.8"/>
<circle cx="1727.4" cy="839" r="1.8"/>
<circle cx="1738.5" cy="833.1" r="1.8"/>
<circle cx="1729.2" cy="829.5" r="1.8"/>
<circle cx="1750.5" cy="843.2" r="1.8"/>
<circle cx="1728.8" cy="841.6" r="1.8"/>
<circle cx="1734.7" cy="836.3" r="1.8"/>
<circle cx="1732.1" cy="840.9" r="1.8"/>
<circle cx="1738.9" cy="835.5" r="1.8"/>
<circle cx="1749.6" cy="834.8" r="1.8"/>
<circle cx="1752.6" cy="832.8" r="1.8"/>
<circle cx="1739.3" cy="827.2" r="1.8"/>
<circle cx="1724.5" cy="841.4" r="1.8"/>
<circle cx="1750.2" cy="843.3" r="1.8"/>
<circle cx="1743.2" cy="841.2" r="1.8"/>
<circle cx="1741.1" cy="843.2" r="1.8"/>
<circle cx="1735.9" cy="842.5" r="1.8"/>
<circle cx="1788.5" cy="888.7" r="1.8"/>
<circle cx="1794.9" cy="886.7" r="1.8"/>
<circle cx="1791.6" cy="887.1" r="1.8"/>
<circle cx="1793.8" cy="893.7" r="1.8"/>
<circle cx="1779.5" cy="885.4" r="1.8"/>
<circle cx="1785.4" cy="881.5" r="1.8"/>
<circle cx="1787.1" cy="880.7" r="1.8"/>
<circle cx="1797.6" cy="892.6" r="1.8"/>
<circle cx="1779.6" cy="891.7" r="1.8"/>
<circle cx="1789.9" cy="889.6" r="1.8"/>
<circle cx="1793" cy="884.2" r="1.8"/>
<circle cx="1770.6" cy="877.3" r="1.8"/>
<circle cx="1786" cy="880.5" r="1.8"/>
<circle cx="1782.4" cy="879.8" r="1.8"/>
<circle cx="1782.9" cy="897.3" r="1.8"/>
<circle cx="1786.4" cy="886.1" r="1.8"/>
<circle cx="1768.4" cy="882.1" r="1.8"/>
<circle cx="1777" cy="881.2" r="1.8"/>
<circle cx="1773.1" cy="885.2" r="1.8"/>
<circle cx="1795" cy="884.9" r="1.8"/>
<circle cx="1794.6" cy="889.2" r="1.8"/>
<circle cx="1777.8" cy="881.7" r="1.8"/>
<circle cx="1780.9" cy="884.8" r="1.8"/>
<circle cx="1792" cy="900.4" r="1.8"/>
<circle cx="1779.5" cy="891.1" r="1.8"/>
<circle cx="1785.4" cy="880.2" r="1.8"/>
<circle cx="1782.9" cy="883.8" r="1.8"/>
<circle cx="1793" cy="889.3" r="1.8"/>
<circle cx="1796.3" cy="894" r="1.8"/>
<circle cx="1776.3" cy="884.3" r="1.8"/>
<circle cx="1776.3" cy="889.8" r="1.8"/>
<circle cx="1774.5" cy="893" r="1.8"/>
<circle cx="1782.8" cy="886.7" r="1.8"/>
<circle cx="1777.5" cy="896.9" r="1.8"/>
<circle cx="1781.5" cy="908.6" r="1.8"/>
<circle cx="1770.3" cy="903.3" r="1.8"/>
<circle cx="1769.3" cy="882.5" r="1.8"/>
<circle cx="1789.2" cy="887.5" r="1.8"/>
<circle cx="1791.6" cy="882.1" r="1.8"/>
<circle cx="1768.7" cy="886.8" r="1.8"/>
<circle cx="1768.8" cy="888.2" r="1.8"/>
<circle cx="1792.8" cy="877.9" r="1.8"/>
<circle cx="1769.5" cy="884.5" r="1.8"/>
<circle cx="1786.8" cy="894.7" r="1.8"/>
<circle cx="1787.6" cy="883.4" r="1.8"/>
<circle cx="1792.1" cy="896.4" r="1.8"/>
<circle cx="1774" cy="882.4" r="1.8"/>
<circle cx="1782.2" cy="878.2" r="1.8"/>
<circle cx="1782.1" cy="879.1" r="1.8"/>
<circle cx="1789.3" cy="881.8" r="1.8"/>
<circle cx="1778.4" cy="886.7" r="1.8"/>
<circle cx="1788.8" cy="895.2" r="1.8"/>
<circle cx="1790.6" cy="879.6" r="1.8"/>
<circle cx="1779.8" cy="884.7" r="1.8"/>
<circle cx="1770.7" cy="904.7" r="1.8"/>
<circle cx="1795.8" cy="878.5" r="1.8"/>
<circle cx="1781.6" cy="884.1" r="1.8"/>
<circle cx="1786.7" cy="888" r="1.8"/>
<circle cx="1785" cy="884.1" r="1.8"/>
<circle cx="1794.2" cy="886.4" r="1.8"/>
<circle cx="1781.9" cy="907.3" r="1.8"/>
<circle cx="1787.5" cy="883.2" r="1.8"/>
<circle cx="1792.4" cy="897.3" r="1.8"/>
<circle cx="1787.2" cy="879.2" r="1.8"/>
<circle cx="1794.8" cy="886.2" r="1.8"/>
<circle cx="1797.2" cy="893.3" r="1.8"/>
<circle cx="1791.6" cy="879.6" r="1.8"/>
<circle cx="1777.6" cy="899" r="1.8"/>
<circle cx="1778.5" cy="891.1" r="1.8"/>
<circle cx="1770.6" cy="892.7" r="1.8"/>
<circle cx="1790.9" cy="883.3" r="1.8"/>
<circle cx="1782.6" cy="900.7" r="1.8"/>
<circle cx="1784.6" cy="839.7" r="1.8"/>
<circle cx="1803.8" cy="838.4" r="1.8"/>
<circle cx="1803.4" cy="833.5" r="1.8"/>
<circle cx="1786.6" cy="834.5" r="1.8"/>
<circle cx="1801.8" cy="831.2" r="1.8"/>
<circle cx="1804.8" cy="832.2" r="1.8"/>
<circle cx="1795.8" cy="814.7" r="1.8"/>
<circle cx="1807.6" cy="836" r="1.8"/>
<circle cx="1796.7" cy="839.1" r="1.8"/>
<circle cx="1790.5" cy="841.4" r="1.8"/>
<circle cx="1796.5" cy="825.4" r="1.8"/>
<circle cx="1804.9" cy="833.4" r="1.8"/>
<circle cx="1792.9" cy="839.7" r="1.8"/>
<circle cx="1804.9" cy="836.6" r="1.8"/>
<circle cx="1805.1" cy="838.7" r="1.8"/>
<circle cx="1808.1" cy="827.1" r="1.8"/>
<circle cx="1788.2" cy="841.3" r="1.8"/>
<circle cx="1796.9" cy="826.1" r="1.8"/>
<circle cx="1783.7" cy="843.5" r="1.8"/>
<circle cx="1808.2" cy="830.8" r="1.8"/>
<circle cx="1803.8" cy="842.5" r="1.8"/>
<circle cx="1797.6" cy="823.9" r="1.8"/>
<circle cx="1784.7" cy="842.7" r="1.8"/>
<circle cx="1797" cy="815.9" r="1.8"/>
<circle cx="1807" cy="827" r="1.8"/>
<circle cx="1790" cy="837.2" r="1.8"/>
<circle cx="1794.2" cy="842.7" r="1.8"/>
<circle cx="1804.2" cy="831.8" r="1.8"/>
<circle cx="1791.2" cy="835.2" r="1.8"/>
<circle cx="1787.9" cy="822" r="1.8"/>
<circle cx="1786.3" cy="823.8" r="1.8"/>
<circle cx="1803.2" cy="835.4" r="1.8"/>
<circle cx="1788.9" cy="842.6" r="1.8"/>
<circle cx="1800.8" cy="838.5" r="1.8"/>
<circle cx="1799.1" cy="832.9" r="1.8"/>
<circle cx="1785.7" cy="843.1" r="1.8"/>
<circle cx="1796.2" cy="837.2" r="1.8"/>
<circle cx="1789.5" cy="838.7" r="1.8"/>
<circle cx="1794.3" cy="828.7" r="1.8"/>
<circle cx="1792.7" cy="830.2" r="1.8"/>
<circle cx="1787.1" cy="835.6" r="1.8"/>
<circle cx="1788.3" cy="831.3" r="1.8"/>
<circle cx="1796.7" cy="830.2" r="1.8"/>
<circle cx="1805.1" cy="824.3" r="1.8"/>
<circle cx="1814.1" cy="893.9" r="1.8"/>
<circle cx="1825.5" cy="887.8" r="1.8"/>
<circle cx="1816" cy="903.4" r="1.8"/>
<circle cx="1816" cy="885.4" r="1.8"/>
<circle cx="1831.2" cy="881.6" r="1.8"/>
<circle cx="1828.7" cy="883.8" r="1.8"/>
<circle cx="1825.2" cy="884.5" r="1.8"/>
<circle cx="1814.7" cy="897.5" r="1.8"/>
<circle cx="1818.4" cy="891.4" r="1.8"/>
<circle cx="1826.6" cy="886.6" r="1.8"/>
<circle cx="1824.2" cy="886.7" r="1.8"/>
<circle cx="1809.4" cy="883.3" r="1.8"/>
<circle cx="1829.3" cy="896.1" r="1.8"/>
<circle cx="1830.5" cy="888.9" r="1.8"/>
<circle cx="1825.9" cy="887.6" r="1.8"/>
<circle cx="1820.2" cy="880.7" r="1.8"/>
<circle cx="1810.5" cy="885.1" r="1.8"/>
<circle cx="1811.3" cy="893.4" r="1.8"/>
<circle cx="1820.4" cy="881.2" r="1.8"/>
<circle cx="1821.6" cy="882.4" r="1.8"/>
<circle cx="1813.5" cy="884" r="1.8"/>
<circle cx="1827.7" cy="907.1" r="1.8"/>
<circle cx="1811.1" cy="879.2" r="1.8"/>
<circle cx="1810.3" cy="891.2" r="1.8"/>
<circle cx="1826" cy="881.7" r="1.8"/>
<circle cx="1816.2" cy="892.7" r="1.8"/>
<circle cx="1818.5" cy="880.6" r="1.8"/>
<circle cx="1840.9" cy="823.7" r="1.8"/>
<circle cx="1846.4" cy="842.2" r="1.8"/>
<circle cx="1831.6" cy="823.4" r="1.8"/>
<circle cx="1836.6" cy="837.8" r="1.8"/>
<circle cx="1831.9" cy="835.9" r="1.8"/>
<circle cx="1827.9" cy="830.4" r="1.8"/>
<circle cx="1847.4" cy="837.4" r="1.8"/>
<circle cx="1846.7" cy="824.6" r="1.8"/>
<circle cx="1841.6" cy="829.3" r="1.8"/>
<circle cx="1838.8" cy="833.9" r="1.8"/>
<circle cx="1849.4" cy="840.5" r="1.8"/>
<circle cx="1847.8" cy="834.4" r="1.8"/>
<circle cx="1844.1" cy="839.7" r="1.8"/>
<circle cx="1836.6" cy="820.3" r="1.8"/>
<circle cx="1847.5" cy="829.3" r="1.8"/>
<circle cx="1844.6" cy="830.1" r="1.8"/>
<circle cx="1844.6" cy="826.6" r="1.8"/>
<circle cx="1829.1" cy="832.2" r="1.8"/>
<circle cx="1835.2" cy="842" r="1.8"/>
<circle cx="1835.5" cy="843.5" r="1.8"/>
<circle cx="1841.8" cy="837.1" r="1.8"/>
<circle cx="1848.6" cy="837.2" r="1.8"/>
<circle cx="1842.4" cy="833.8" r="1.8"/>
<circle cx="1840.2" cy="827.6" r="1.8"/>
<circle cx="1839.4" cy="801.2" r="1.8"/>
<circle cx="1841.9" cy="808.4" r="1.8"/>
<circle cx="1843.2" cy="841.2" r="1.8"/>
<circle cx="1828" cy="807.5" r="1.8"/>
<circle cx="1841.3" cy="843.2" r="1.8"/>
<circle cx="1836.5" cy="833.9" r="1.8"/>
<circle cx="1828.7" cy="839.6" r="1.8"/>
<circle cx="1829.7" cy="832" r="1.8"/>
<circle cx="1833.1" cy="830.2" r="1.8"/>
<circle cx="1838.9" cy="834.7" r="1.8"/>
<circle cx="1849.1" cy="805.2" r="1.8"/>
<circle cx="1841.8" cy="826.3" r="1.8"/>
<circle cx="1845.6" cy="828.3" r="1.8"/>
<circle cx="1844.5" cy="835.8" r="1.8"/>
<circle cx="1828.5" cy="836.9" r="1.8"/>
<circle cx="1838.1" cy="840.6" r="1.8"/>
<circle cx="1831.3" cy="826" r="1.8"/>
<circle cx="1828.8" cy="843.4" r="1.8"/>
<circle cx="1848.6" cy="829.9" r="1.8"/>
<circle cx="1860.9" cy="885" r="1.8"/>
<circle cx="1856.6" cy="881.6" r="1.8"/>
<circle cx="1860.2" cy="895.9" r="1.8"/>
<circle cx="1855.1" cy="879.6" r="1.8"/>
<circle cx="1850.1" cy="888" r="1.8"/>
<circle cx="1854.4" cy="884.7" r="1.8"/>
<circle cx="1863.8" cy="879.4" r="1.8"/>
<circle cx="1857.1" cy="894.6" r="1.8"/>
<circle cx="1850.8" cy="890.3" r="1.8"/>
<circle cx="1868.2" cy="882.1" r="1.8"/>
<circle cx="1866.6" cy="879.1" r="1.8"/>
<circle cx="1857.8" cy="912" r="1.8"/>
<circle cx="1854.4" cy="882.3" r="1.8"/>
<circle cx="1859.5" cy="896.6" r="1.8"/>
<circle cx="1858.5" cy="885.3" r="1.8"/>
<circle cx="1868" cy="884.5" r="1.8"/>
<circle cx="1852" cy="893.5" r="1.8"/>
<circle cx="1861.4" cy="885.8" r="1.8"/>
<circle cx="1850.8" cy="879.8" r="1.8"/>
<circle cx="1859.6" cy="887.3" r="1.8"/>
<circle cx="1862.2" cy="887.3" r="1.8"/>
<circle cx="1858.3" cy="878.6" r="1.8"/>
<circle cx="1857.6" cy="894.5" r="1.8"/>
<circle cx="1864.3" cy="921.8" r="1.8"/>
<circle cx="1867.5" cy="886" r="1.8"/>
<circle cx="1863.5" cy="877.8" r="1.8"/>
<circle cx="1866.4" cy="883.7" r="1.8"/>
<circle cx="1864.4" cy="886" r="1.8"/>
<circle cx="1854.9" cy="886" r="1.8"/>
<circle cx="1862.5" cy="893.3" r="1.8"/>
<circle cx="1861.6" cy="884.2" r="1.8"/>
<circle cx="1863.8" cy="881" r="1.8"/>
<circle cx="1868" cy="886.5" r="1.8"/>
<circle cx="1866.8" cy="880" r="1.8"/>
<circle cx="1851" cy="879.9" r="1.8"/>
<circle cx="1854.9" cy="893.6" r="1.8"/>
<circle cx="1721.3" cy="885.6" r="1.8"/>
<circle cx="1727.8" cy="882.3" r="1.8"/>
<circle cx="1729.8" cy="879.8" r="1.8"/>
<circle cx="1728" cy="885.9" r="1.8"/>
<circle cx="1726.9" cy="886.6" r="1.8"/>
<circle cx="1722.9" cy="889.3" r="1.8"/>
<circle cx="1732.3" cy="895.2" r="1.8"/>
<circle cx="1743.2" cy="894.6" r="1.8"/>
<circle cx="1751.4" cy="893.5" r="1.8"/>
<circle cx="1753.5" cy="880.5" r="1.8"/>
<circle cx="1745.9" cy="890.7" r="1.8"/>
<circle cx="1754.1" cy="890.2" r="1.8"/>
<circle cx="1756.8" cy="891.2" r="1.8"/>
<circle cx="1746.9" cy="897.9" r="1.8"/>
<circle cx="1755.8" cy="883.8" r="1.8"/>
<circle cx="1748.4" cy="881.3" r="1.8"/>
<circle cx="1755.1" cy="881.6" r="1.8"/>
<circle cx="1832.4" cy="891.9" r="1.8"/>
<circle cx="1838.5" cy="885.7" r="1.8"/>
<circle cx="1841.4" cy="884.1" r="1.8"/>
<circle cx="1832.4" cy="898.8" r="1.8"/>
<circle cx="1834.4" cy="880.2" r="1.8"/>
<circle cx="1835.8" cy="881.9" r="1.8"/>
<circle cx="1842" cy="881" r="1.8"/>
<circle cx="1862" cy="833.9" r="1.8"/>
<circle cx="1863.6" cy="842" r="1.8"/>
<circle cx="1861.8" cy="831.6" r="1.8"/>
<circle cx="1866.2" cy="817.4" r="1.8"/>
<circle cx="1868" cy="831.6" r="1.8"/>
<circle cx="1855.5" cy="873.8" r="2" fill="#bdbdbd"/>
<circle cx="1765.1" cy="855.2" r="2" fill="#bdbdbd"/>
<circle cx="1767" cy="875.5" r="2" fill="#bdbdbd"/>
<circle cx="1852.8" cy="849.7" r="2" fill="#bdbdbd"/>
<circle cx="1756.7" cy="865.5" r="2" fill="#bdbdbd"/>
<circle cx="1773.8" cy="854.8" r="2" fill="#bdbdbd"/>
<circle cx="1778.6" cy="864.6" r="2" fill="#bdbdbd"/>
<circle cx="1803.6" cy="857.2" r="2" fill="#bdbdbd"/>
<circle cx="1838.2" cy="875.2" r="2" fill="#bdbdbd"/>
<circle cx="1803.4" cy="864.4" r="2" fill="#bdbdbd"/>
<circle cx="1746" cy="859.7" r="2" fill="#bdbdbd"/>
<circle cx="1761.6" cy="876.9" r="2" fill="#bdbdbd"/>
<circle cx="1723.1" cy="870.5" r="2" fill="#bdbdbd"/>
<circle cx="1804.1" cy="861.6" r="2" fill="#bdbdbd"/>
<circle cx="1863.4" cy="868.9" r="2" fill="#bdbdbd"/>
<circle cx="1729.3" cy="872.2" r="2" fill="#bdbdbd"/>
<circle cx="1801.1" cy="859.8" r="2" fill="#bdbdbd"/>
<circle cx="1731.9" cy="863.8" r="2" fill="#bdbdbd"/>
<circle cx="1829.3" cy="857.9" r="2" fill="#bdbdbd"/>
<circle cx="1814" cy="862.6" r="2" fill="#bdbdbd"/>
<circle cx="1741.2" cy="860.9" r="2" fill="#bdbdbd"/>
<circle cx="1756.3" cy="872" r="2" fill="#bdbdbd"/>
<circle cx="1752.6" cy="859.7" r="2" fill="#bdbdbd"/>
<circle cx="1833.4" cy="870.2" r="2" fill="#bdbdbd"/>
<circle cx="1778.4" cy="871.5" r="2" fill="#bdbdbd"/>
<circle cx="1819.7" cy="843.9" r="2" fill="#bdbdbd"/>
<circle cx="1793.2" cy="872.9" r="2" fill="#bdbdbd"/>
<circle cx="1825" cy="863.5" r="2" fill="#bdbdbd"/>
<circle cx="1855.8" cy="873.1" r="2" fill="#bdbdbd"/>
<circle cx="1818.9" cy="852.7" r="2" fill="#bdbdbd"/>
<circle cx="1846.6" cy="855.4" r="2" fill="#bdbdbd"/>
<circle cx="1851.9" cy="874.7" r="2" fill="#bdbdbd"/>
<circle cx="1862.1" cy="866.7" r="2" fill="#bdbdbd"/>
<circle cx="1825.3" cy="868" r="2" fill="#bdbdbd"/>
<circle cx="1839" cy="867.9" r="2" fill="#bdbdbd"/>
<circle cx="1741.5" cy="856.7" r="2" fill="#bdbdbd"/>
<circle cx="1829.9" cy="852.9" r="2" fill="#bdbdbd"/>
<circle cx="1744.7" cy="861" r="2" fill="#bdbdbd"/>
<circle cx="1750.2" cy="866.5" r="2" fill="#bdbdbd"/>
<circle cx="1863.9" cy="857.6" r="2" fill="#bdbdbd"/>
<circle cx="1728.6" cy="862" r="2" fill="#bdbdbd"/>
<circle cx="1816.1" cy="857" r="2" fill="#bdbdbd"/>
<circle cx="1835.1" cy="859.4" r="2" fill="#bdbdbd"/>
<circle cx="1788" cy="858" r="2" fill="#bdbdbd"/>
<circle cx="1806.6" cy="858.8" r="2" fill="#bdbdbd"/>
<circle cx="1735.9" cy="861.8" r="2" fill="#bdbdbd"/>
<circle cx="1747.2" cy="859.4" r="2" fill="#bdbdbd"/>
<circle cx="1826.4" cy="854.9" r="2" fill="#bdbdbd"/>
<circle cx="1808.2" cy="859.8" r="2" fill="#bdbdbd"/>
<circle cx="1761.6" cy="855.6" r="2" fill="#bdbdbd"/>
<circle cx="1745.4" cy="860.3" r="2" fill="#bdbdbd"/>
<circle cx="1801.3" cy="867.4" r="2" fill="#bdbdbd"/>
<circle cx="1841.2" cy="866.7" r="2" fill="#bdbdbd"/>
<circle cx="1851.7" cy="859.8" r="2" fill="#bdbdbd"/>
<circle cx="1855.7" cy="866" r="2" fill="#bdbdbd"/>
<circle cx="1862" cy="852.3" r="2" fill="#bdbdbd"/>
<circle cx="1791.5" cy="860.1" r="2" fill="#bdbdbd"/>
<circle cx="1860.6" cy="858.1" r="2" fill="#bdbdbd"/>
<circle cx="1838.9" cy="867.9" r="2" fill="#bdbdbd"/>
<circle cx="1796.5" cy="854.2" r="2" fill="#bdbdbd"/>
<circle cx="1760.6" cy="849" r="2" fill="#bdbdbd"/>
<circle cx="1755.1" cy="861.3" r="2" fill="#bdbdbd"/>
<circle cx="1721.4" cy="868.1" r="2" fill="#bdbdbd"/>
<circle cx="1838.2" cy="859.3" r="2" fill="#bdbdbd"/>
<circle cx="1825.8" cy="864.2" r="2" fill="#bdbdbd"/>
<circle cx="1743.1" cy="863.5" r="2" fill="#bdbdbd"/>
<circle cx="1767.6" cy="861.5" r="2" fill="#bdbdbd"/>
<circle cx="1796.5" cy="844.7" r="2" fill="#bdbdbd"/>
<circle cx="1814.5" cy="854.4" r="2" fill="#bdbdbd"/>
<circle cx="1799.2" cy="860.9" r="2" fill="#bdbdbd"/>
<circle cx="1742.2" cy="860.5" r="2" fill="#bdbdbd"/>
<circle cx="1841.9" cy="861" r="2" fill="#bdbdbd"/>
<circle cx="1845.5" cy="859.2" r="2" fill="#bdbdbd"/>
<circle cx="1759.9" cy="863.5" r="2" fill="#bdbdbd"/>
<circle cx="1826.3" cy="853.2" r="2" fill="#bdbdbd"/>
<circle cx="1789.4" cy="855.4" r="2" fill="#bdbdbd"/>
<circle cx="1861.8" cy="873.9" r="2" fill="#bdbdbd"/>
<circle cx="1764.9" cy="868.7" r="2" fill="#bdbdbd"/>
<circle cx="1837.1" cy="875.9" r="2" fill="#bdbdbd"/>
<circle cx="1733.3" cy="851.8" r="2" fill="#bdbdbd"/>
<circle cx="1842.6" cy="858" r="2" fill="#bdbdbd"/>
<circle cx="1797.9" cy="851" r="2" fill="#bdbdbd"/>
<circle cx="1743.2" cy="857.2" r="2" fill="#bdbdbd"/>
<circle cx="1766" cy="866.5" r="2" fill="#bdbdbd"/>
<circle cx="1731.1" cy="863.6" r="2" fill="#bdbdbd"/>
<circle cx="1826.1" cy="852.3" r="2" fill="#bdbdbd"/>
<circle cx="1773.3" cy="862" r="2" fill="#bdbdbd"/>
<circle cx="1778.4" cy="864" r="2" fill="#bdbdbd"/>
<circle cx="1788.4" cy="846" r="2" fill="#bdbdbd"/>
<circle cx="1817" cy="863.7" r="2" fill="#bdbdbd"/>
<circle cx="1721.6" cy="869.5" r="2" fill="#bdbdbd"/>
<circle cx="1755.1" cy="851.9" r="2" fill="#bdbdbd"/>
<circle cx="1803.6" cy="861.7" r="2" fill="#bdbdbd"/>
<circle cx="1867.2" cy="860.3" r="2" fill="#bdbdbd"/>
<circle cx="1838.6" cy="857.7" r="2" fill="#bdbdbd"/>
<circle cx="1763" cy="850.1" r="2" fill="#bdbdbd"/>
<circle cx="1775.7" cy="867" r="2" fill="#bdbdbd"/>
<circle cx="1769.9" cy="862.2" r="2" fill="#bdbdbd"/>
<circle cx="1778.1" cy="863.6" r="2" fill="#bdbdbd"/>
<circle cx="1749.5" cy="865.9" r="2" fill="#bdbdbd"/>
<circle cx="1828.5" cy="869.7" r="2" fill="#bdbdbd"/>
<circle cx="1803.4" cy="843.9" r="2" fill="#bdbdbd"/>
<circle cx="1827.4" cy="867.9" r="2" fill="#bdbdbd"/>
<circle cx="1733.5" cy="847.7" r="2" fill="#bdbdbd"/>
<circle cx="1740.7" cy="850.7" r="2" fill="#bdbdbd"/>
<circle cx="1825.1" cy="854" r="2" fill="#bdbdbd"/>
<circle cx="1746.5" cy="872.9" r="2" fill="#bdbdbd"/>
<circle cx="1807.9" cy="851.9" r="2" fill="#bdbdbd"/>
<circle cx="1733.2" cy="859.9" r="2" fill="#bdbdbd"/>
<circle cx="1738.2" cy="856" r="2" fill="#bdbdbd"/>
<circle cx="1780.3" cy="844.6" r="2" fill="#bdbdbd"/>
<circle cx="1783.3" cy="852.8" r="2" fill="#bdbdbd"/>
<circle cx="1795.8" cy="868.7" r="2" fill="#bdbdbd"/>
<circle cx="1841.8" cy="871.4" r="2" fill="#bdbdbd"/>
<circle cx="1777.2" cy="864.6" r="2" fill="#bdbdbd"/>
<circle cx="1722.1" cy="853.5" r="2" fill="#bdbdbd"/>
<circle cx="1779.3" cy="867.5" r="2" fill="#bdbdbd"/>
<circle cx="1837.1" cy="877.3" r="2" fill="#bdbdbd"/>
<circle cx="1817.9" cy="861.8" r="2" fill="#bdbdbd"/>
<circle cx="1769" cy="861.6" r="2" fill="#bdbdbd"/>
<circle cx="1770.7" cy="862.8" r="2" fill="#bdbdbd"/>
<circle cx="1775.9" cy="863.6" r="2" fill="#bdbdbd"/>
<circle cx="1795.5" cy="857.1" r="2" fill="#bdbdbd"/>
<circle cx="1810.7" cy="874.9" r="2" fill="#bdbdbd"/>
<circle cx="1743.3" cy="858.8" r="2" fill="#bdbdbd"/>
<circle cx="1801.3" cy="877.3" r="2" fill="#bdbdbd"/>
<circle cx="1772.2" cy="865" r="2" fill="#bdbdbd"/>
<circle cx="1825.8" cy="860.6" r="2" fill="#bdbdbd"/>
<circle cx="1866.4" cy="873.1" r="2" fill="#bdbdbd"/>
<circle cx="1844" cy="861.9" r="2" fill="#bdbdbd"/>
<circle cx="1749.1" cy="850.2" r="2" fill="#bdbdbd"/>
<circle cx="1749.2" cy="864.4" r="2" fill="#bdbdbd"/>
<circle cx="1732.2" cy="860.2" r="2" fill="#bdbdbd"/>
<circle cx="1823.4" cy="850.2" r="2" fill="#bdbdbd"/>
<circle cx="1768.7" cy="853.8" r="2" fill="#bdbdbd"/>
<circle cx="1788.6" cy="863.8" r="2" fill="#bdbdbd"/>
<circle cx="1738.2" cy="856.4" r="2" fill="#bdbdbd"/>
<circle cx="1854.1" cy="861.3" r="2" fill="#bdbdbd"/>
<circle cx="1800.6" cy="870" r="2" fill="#bdbdbd"/>
<circle cx="1759.1" cy="864.4" r="2" fill="#bdbdbd"/>
<circle cx="1854.9" cy="846" r="2" fill="#bdbdbd"/>
<circle cx="1809.2" cy="861.3" r="2" fill="#bdbdbd"/>
<circle cx="1738" cy="857.7" r="2" fill="#bdbdbd"/>
<circle cx="1853.1" cy="866.4" r="2" fill="#bdbdbd"/>
<circle cx="1755.6" cy="873.9" r="2" fill="#bdbdbd"/>
<circle cx="1747.4" cy="867.2" r="2" fill="#bdbdbd"/>
<circle cx="1801.2" cy="858.8" r="2" fill="#bdbdbd"/>
<circle cx="1746.6" cy="859.7" r="2" fill="#bdbdbd"/>
<circle cx="1866.5" cy="849.8" r="2" fill="#bdbdbd"/>
<circle cx="1765.5" cy="864.9" r="2" fill="#bdbdbd"/>
<circle cx="1819.5" cy="861.2" r="2" fill="#bdbdbd"/>
<circle cx="1807.8" cy="868.3" r="2" fill="#bdbdbd"/>
<circle cx="1839.2" cy="855.4" r="2" fill="#bdbdbd"/>
<circle cx="1789.3" cy="860.1" r="2" fill="#bdbdbd"/>
<circle cx="1741" cy="868.4" r="2" fill="#bdbdbd"/>
<circle cx="1745.6" cy="853.9" r="2" fill="#bdbdbd"/>
<circle cx="1797" cy="861.5" r="2" fill="#bdbdbd"/>
<circle cx="1769.1" cy="850.4" r="2" fill="#bdbdbd"/>
<circle cx="1815.2" cy="849.1" r="2" fill="#bdbdbd"/>
<circle cx="1741.3" cy="857.8" r="2" fill="#bdbdbd"/>
<circle cx="1862.4" cy="867.8" r="2" fill="#bdbdbd"/>
<circle cx="1780.9" cy="865.8" r="2" fill="#bdbdbd"/>
<circle cx="1812.5" cy="865.6" r="2" fill="#bdbdbd"/>
<circle cx="1831.5" cy="873" r="2" fill="#bdbdbd"/>
<circle cx="1792" cy="845.5" r="2" fill="#bdbdbd"/>
<circle cx="1846.9" cy="861.1" r="2" fill="#bdbdbd"/>
<circle cx="1780.6" cy="869.9" r="2" fill="#bdbdbd"/>
<circle cx="1854.3" cy="856.5" r="2" fill="#bdbdbd"/>
<circle cx="1798" cy="868.9" r="2" fill="#bdbdbd"/>
<circle cx="1854.2" cy="861.9" r="2" fill="#bdbdbd"/>
<circle cx="1767.5" cy="848.6" r="2" fill="#bdbdbd"/>
<circle cx="1853.6" cy="856.3" r="2" fill="#bdbdbd"/>
<circle cx="1828.6" cy="871.4" r="2" fill="#bdbdbd"/>
<circle cx="1765.1" cy="868.2" r="2" fill="#bdbdbd"/>
<circle cx="1808" cy="856.9" r="2" fill="#bdbdbd"/>
<circle cx="1786.2" cy="858.9" r="2" fill="#bdbdbd"/>
<circle cx="1794.5" cy="862.7" r="2" fill="#bdbdbd"/>
<circle cx="1823.1" cy="859" r="2" fill="#bdbdbd"/>
<circle cx="1798" cy="860.1" r="2" fill="#bdbdbd"/>
<circle cx="1778.6" cy="853.9" r="2" fill="#bdbdbd"/>
<circle cx="1754.9" cy="844.8" r="2" fill="#bdbdbd"/>
<circle cx="1863.4" cy="853.3" r="2" fill="#bdbdbd"/>
<circle cx="1818.7" cy="855.1" r="2" fill="#bdbdbd"/>
<circle cx="1839.5" cy="866.8" r="2" fill="#bdbdbd"/>
<circle cx="1752.8" cy="860.8" r="2" fill="#bdbdbd"/>
<circle cx="1854" cy="870.8" r="2" fill="#bdbdbd"/>
<circle cx="1734.4" cy="859.5" r="2" fill="#bdbdbd"/>
<circle cx="1799.7" cy="864.5" r="2" fill="#bdbdbd"/>
<circle cx="1861.1" cy="854.7" r="2" fill="#bdbdbd"/>
<circle cx="1764.3" cy="860.6" r="2" fill="#bdbdbd"/>
<circle cx="1768.1" cy="845.1" r="2" fill="#bdbdbd"/>
<circle cx="1841" cy="854.2" r="2" fill="#bdbdbd"/>
<circle cx="1778.8" cy="867.1" r="2" fill="#bdbdbd"/>
<circle cx="1726.6" cy="852.4" r="2" fill="#bdbdbd"/>
<circle cx="1724.4" cy="855.2" r="2" fill="#bdbdbd"/>
<circle cx="1793.9" cy="864.6" r="2" fill="#bdbdbd"/>
<circle cx="1858.6" cy="851.7" r="2" fill="#bdbdbd"/>
<circle cx="1750.5" cy="861.9" r="2" fill="#bdbdbd"/>
<circle cx="1763.7" cy="845.7" r="2" fill="#bdbdbd"/>
<circle cx="1748.9" cy="868.5" r="2" fill="#bdbdbd"/>
<circle cx="1844.3" cy="866" r="2" fill="#bdbdbd"/>
<circle cx="1745.3" cy="853.5" r="2" fill="#bdbdbd"/>
<circle cx="1850.5" cy="855.3" r="2" fill="#bdbdbd"/>
<circle cx="1813.8" cy="860.8" r="2" fill="#bdbdbd"/>
<circle cx="1748.3" cy="858.8" r="2" fill="#bdbdbd"/>
<circle cx="1735.6" cy="862.3" r="2" fill="#bdbdbd"/>
<circle cx="1827.7" cy="867.1" r="2" fill="#bdbdbd"/>
<circle cx="1849" cy="844.9" r="2" fill="#bdbdbd"/>
<circle cx="1825.8" cy="852.5" r="2" fill="#bdbdbd"/>
<circle cx="1859.2" cy="851.5" r="2" fill="#bdbdbd"/>
<circle cx="1786" cy="855.7" r="2" fill="#bdbdbd"/>
<circle cx="1765.4" cy="857.9" r="2" fill="#bdbdbd"/>
<circle cx="1825.4" cy="859" r="2" fill="#bdbdbd"/>
<circle cx="1754.8" cy="855.9" r="2" fill="#bdbdbd"/>
<circle cx="1818.6" cy="858.7" r="2" fill="#bdbdbd"/>
<circle cx="1818.2" cy="868" r="2" fill="#bdbdbd"/>
<circle cx="1851.2" cy="865.4" r="2" fill="#bdbdbd"/>
<circle cx="1764.5" cy="863.7" r="2" fill="#bdbdbd"/>
<circle cx="1857.5" cy="863.8" r="2" fill="#bdbdbd"/>
<circle cx="1814.9" cy="866.1" r="2" fill="#bdbdbd"/>
<circle cx="1733.2" cy="852.1" r="2" fill="#bdbdbd"/>
<circle cx="1798.3" cy="861.5" r="2" fill="#bdbdbd"/>
<circle cx="1798.7" cy="850.3" r="2" fill="#bdbdbd"/>
<circle cx="1762.1" cy="857.6" r="2" fill="#bdbdbd"/>
<circle cx="1757.1" cy="859.5" r="2" fill="#bdbdbd"/>
<circle cx="1762.2" cy="863.8" r="2" fill="#bdbdbd"/>
<circle cx="1832.1" cy="860.4" r="2" fill="#bdbdbd"/>
<circle cx="1801.2" cy="854.2" r="2" fill="#bdbdbd"/>
<circle cx="1747.5" cy="843.9" r="2" fill="#bdbdbd"/>
<circle cx="1724.8" cy="874.7" r="2" fill="#bdbdbd"/>
<circle cx="1788.4" cy="860.6" r="2" fill="#bdbdbd"/>
<circle cx="1857.9" cy="868.4" r="2" fill="#bdbdbd"/>
<circle cx="1794.1" cy="856.3" r="2" fill="#bdbdbd"/>
<circle cx="1815.6" cy="851.5" r="2" fill="#bdbdbd"/>
<circle cx="1773.2" cy="868.1" r="2" fill="#bdbdbd"/>
<circle cx="1796.6" cy="872.2" r="2" fill="#bdbdbd"/>
<circle cx="1794.9" cy="853.8" r="2" fill="#bdbdbd"/>
<circle cx="1797.1" cy="870.5" r="2" fill="#bdbdbd"/>
<circle cx="1861.2" cy="854.3" r="2" fill="#bdbdbd"/>
<circle cx="1744.3" cy="848.4" r="2" fill="#bdbdbd"/>
<circle cx="1810.2" cy="859.8" r="2" fill="#bdbdbd"/>
<circle cx="1834.7" cy="852.1" r="2" fill="#bdbdbd"/>
<circle cx="1836.7" cy="859.1" r="2" fill="#bdbdbd"/>
<circle cx="1792.5" cy="866.2" r="2" fill="#bdbdbd"/>
<circle cx="1752.7" cy="868.7" r="2" fill="#bdbdbd"/>
<circle cx="1725.1" cy="865.1" r="2" fill="#bdbdbd"/>
<circle cx="1808.5" cy="862.9" r="2" fill="#bdbdbd"/>
<circle cx="1849.5" cy="870.7" r="2" fill="#bdbdbd"/>
<circle cx="1746.6" cy="859.7" r="2" fill="#bdbdbd"/>
<circle cx="1793.5" cy="859.4" r="2" fill="#bdbdbd"/>
<circle cx="1784.4" cy="866.4" r="2" fill="#bdbdbd"/>
<circle cx="1838.5" cy="858.4" r="2" fill="#bdbdbd"/>
<circle cx="1730.6" cy="852" r="2" fill="#bdbdbd"/>
<circle cx="1800.5" cy="866.2" r="2" fill="#bdbdbd"/>
<circle cx="1837.4" cy="860.3" r="2" fill="#bdbdbd"/>
<circle cx="1766" cy="856.2" r="2" fill="#bdbdbd"/>
<circle cx="1726.1" cy="864.9" r="2" fill="#bdbdbd"/>
<circle cx="1797.9" cy="850.5" r="2" fill="#bdbdbd"/>
<circle cx="1759.1" cy="863.5" r="2" fill="#bdbdbd"/>
<circle cx="1841.7" cy="862.4" r="2" fill="#bdbdbd"/>
<circle cx="1745.3" cy="860.7" r="2" fill="#bdbdbd"/>
<circle cx="1822.4" cy="855.9" r="2" fill="#bdbdbd"/>
<circle cx="1843.3" cy="860" r="2" fill="#bdbdbd"/>
<circle cx="1780.8" cy="863.3" r="2" fill="#bdbdbd"/>
<circle cx="1774" cy="856.2" r="2" fill="#bdbdbd"/>
<circle cx="1726.1" cy="843.9" r="2" fill="#bdbdbd"/>
<circle cx="1792.5" cy="859" r="2" fill="#bdbdbd"/>
<circle cx="1741.3" cy="877.3" r="2" fill="#bdbdbd"/>
<circle cx="1787.5" cy="860.7" r="2" fill="#bdbdbd"/>
<circle cx="1755.6" cy="862.8" r="2" fill="#bdbdbd"/>
<circle cx="1852.1" cy="855.6" r="2" fill="#bdbdbd"/>
<circle cx="1764.1" cy="854.5" r="2" fill="#bdbdbd"/>
<circle cx="1782.9" cy="858.7" r="2" fill="#bdbdbd"/>
<circle cx="1867.8" cy="859.6" r="2" fill="#bdbdbd"/>
<circle cx="1833.2" cy="861.2" r="2" fill="#bdbdbd"/>
<circle cx="1757.4" cy="866.3" r="2" fill="#bdbdbd"/>
<circle cx="1801.8" cy="860.1" r="2" fill="#bdbdbd"/>
<circle cx="1858.4" cy="851.8" r="2" fill="#bdbdbd"/>
<circle cx="1773.9" cy="872.2" r="2" fill="#bdbdbd"/>
<circle cx="1810.6" cy="843.9" r="2" fill="#bdbdbd"/>
<circle cx="1725.7" cy="870" r="2" fill="#bdbdbd"/>
<circle cx="1728.5" cy="854" r="2" fill="#bdbdbd"/>
<circle cx="1770.8" cy="866" r="2" fill="#bdbdbd"/>
<circle cx="1807.6" cy="875.5" r="2" fill="#bdbdbd"/>
<circle cx="1851.5" cy="868.3" r="2" fill="#bdbdbd"/>
<circle cx="1845.1" cy="858.8" r="2" fill="#bdbdbd"/>
<circle cx="1776.4" cy="859.5" r="2" fill="#bdbdbd"/>
<circle cx="1771.4" cy="866" r="2" fill="#bdbdbd"/>
<circle cx="1747.1" cy="865.1" r="2" fill="#bdbdbd"/>
<circle cx="1750.1" cy="862" r="2" fill="#bdbdbd"/>
<circle cx="1751.7" cy="867.3" r="2" fill="#bdbdbd"/>
<circle cx="1786.2" cy="859.2" r="2" fill="#bdbdbd"/>
<circle cx="1867.4" cy="867.4" r="2" fill="#bdbdbd"/>
<circle cx="1750.2" cy="874.8" r="2" fill="#bdbdbd"/>
<circle cx="1776.7" cy="849.7" r="2" fill="#bdbdbd"/>
<circle cx="1773.7" cy="855.2" r="2" fill="#bdbdbd"/>
<circle cx="1760.6" cy="855.6" r="2" fill="#bdbdbd"/>
<circle cx="1758.8" cy="860" r="2" fill="#bdbdbd"/>
<circle cx="1778.2" cy="849.5" r="2" fill="#bdbdbd"/>
<circle cx="1759.7" cy="866.4" r="2" fill="#bdbdbd"/>
<circle cx="1773.5" cy="850" r="2" fill="#bdbdbd"/>
<circle cx="1773.3" cy="845.3" r="2" fill="#bdbdbd"/>
<circle cx="1833.6" cy="863.5" r="2" fill="#bdbdbd"/>
<circle cx="1722.8" cy="877.3" r="2" fill="#bdbdbd"/>
<circle cx="1767.7" cy="863.1" r="2" fill="#bdbdbd"/>
<circle cx="1850.9" cy="858.4" r="2" fill="#bdbdbd"/>
<circle cx="1768.1" cy="859.4" r="2" fill="#bdbdbd"/>
<circle cx="1728" cy="870.1" r="2" fill="#bdbdbd"/>
<circle cx="1778.3" cy="860.4" r="2" fill="#bdbdbd"/>
<circle cx="1742.2" cy="858.3" r="2" fill="#bdbdbd"/>
<circle cx="1808.3" cy="853.9" r="2" fill="#bdbdbd"/>
<circle cx="1782.8" cy="859.2" r="2" fill="#bdbdbd"/>
<circle cx="1800.6" cy="852.5" r="2" fill="#bdbdbd"/>
<circle cx="1758.5" cy="851.3" r="2" fill="#bdbdbd"/>
<circle cx="1827.6" cy="862.8" r="2" fill="#bdbdbd"/>
<circle cx="1750.2" cy="864.5" r="2" fill="#bdbdbd"/>
<circle cx="1761.5" cy="862.5" r="2" fill="#bdbdbd"/>
<circle cx="1777.2" cy="868.4" r="2" fill="#bdbdbd"/>
<circle cx="1848.5" cy="859.6" r="2" fill="#bdbdbd"/>
<circle cx="1771.1" cy="854.1" r="2" fill="#bdbdbd"/>
<circle cx="1751.9" cy="858.9" r="2" fill="#bdbdbd"/>
<circle cx="1813.5" cy="860.2" r="2" fill="#bdbdbd"/>
<circle cx="1803.9" cy="852.8" r="2" fill="#bdbdbd"/>
<circle cx="1764.1" cy="877.3" r="2" fill="#bdbdbd"/>
<circle cx="1819.4" cy="855.8" r="2" fill="#bdbdbd"/>
<circle cx="1822.2" cy="863.3" r="2" fill="#bdbdbd"/>
<circle cx="1818.9" cy="845.3" r="2" fill="#bdbdbd"/>
<circle cx="1754.7" cy="865" r="2" fill="#bdbdbd"/>
<circle cx="1813.8" cy="853.5" r="2" fill="#bdbdbd"/>
<circle cx="1778.1" cy="856.1" r="2" fill="#bdbdbd"/>
<circle cx="1728.7" cy="865.8" r="2" fill="#bdbdbd"/>
<circle cx="1793.7" cy="855.9" r="2" fill="#bdbdbd"/>
<circle cx="1761.4" cy="856.2" r="2" fill="#bdbdbd"/>
<circle cx="1790.4" cy="853.9" r="2" fill="#bdbdbd"/>
<circle cx="1744.6" cy="863.6" r="2" fill="#bdbdbd"/>
<circle cx="1733.6" cy="865.6" r="2" fill="#bdbdbd"/>
<circle cx="1770.6" cy="864.6" r="2" fill="#bdbdbd"/>
<circle cx="1806.4" cy="858.5" r="2" fill="#bdbdbd"/>
<circle cx="1824" cy="872.2" r="2" fill="#bdbdbd"/>
<circle cx="1723.2" cy="864.6" r="2" fill="#bdbdbd"/>
<circle cx="1778" cy="862.5" r="2" fill="#bdbdbd"/>
<circle cx="1779.9" cy="858.5" r="2" fill="#bdbdbd"/>
<circle cx="1727.9" cy="871.1" r="2" fill="#bdbdbd"/>
<circle cx="1789.5" cy="860.3" r="2" fill="#bdbdbd"/>
<circle cx="1768.2" cy="860.6" r="2" fill="#bdbdbd"/>
<circle cx="1771.4" cy="858.9" r="2" fill="#bdbdbd"/>
<circle cx="1852.3" cy="866.2" r="2" fill="#bdbdbd"/>
<circle cx="1819.1" cy="863.1" r="2" fill="#bdbdbd"/>
<circle cx="1747.4" cy="871.3" r="2" fill="#bdbdbd"/>
<circle cx="1861.7" cy="858.5" r="2" fill="#bdbdbd"/>
<circle cx="1773.7" cy="877.3" r="2" fill="#bdbdbd"/>
<circle cx="1834.4" cy="869.3" r="2" fill="#bdbdbd"/>
<circle cx="1813" cy="866.5" r="2" fill="#bdbdbd"/>
<circle cx="1781.6" cy="866.2" r="2" fill="#bdbdbd"/>
<circle cx="1760.8" cy="852.8" r="2" fill="#bdbdbd"/>
<circle cx="1776.5" cy="874.9" r="2" fill="#bdbdbd"/>
<circle cx="1855" cy="856.5" r="2" fill="#bdbdbd"/>
<circle cx="1795.2" cy="859.6" r="2" fill="#bdbdbd"/>
<circle cx="1765.7" cy="874.5" r="2" fill="#bdbdbd"/>
<circle cx="1742.1" cy="843.9" r="2" fill="#bdbdbd"/>
<circle cx="1748.4" cy="859" r="2" fill="#bdbdbd"/>
<circle cx="1754.7" cy="848.8" r="2" fill="#bdbdbd"/>
<circle cx="1719.9" cy="868.2" r="2" fill="#bdbdbd"/>
<circle cx="1755.4" cy="862.8" r="2" fill="#bdbdbd"/>
<circle cx="1793.2" cy="866.4" r="2" fill="#bdbdbd"/>
<circle cx="1812.6" cy="868.7" r="2" fill="#bdbdbd"/>
<circle cx="1803.1" cy="850.4" r="2" fill="#bdbdbd"/>
<circle cx="1769.4" cy="877.3" r="2" fill="#bdbdbd"/>
<circle cx="1771.3" cy="855.4" r="2" fill="#bdbdbd"/>
<circle cx="1826.2" cy="865.1" r="2" fill="#bdbdbd"/>
<circle cx="1823.1" cy="868.5" r="2" fill="#bdbdbd"/>
<circle cx="1842.3" cy="877.3" r="2" fill="#bdbdbd"/>
<circle cx="1743.5" cy="867.2" r="2" fill="#bdbdbd"/>
<circle cx="1803.6" cy="867" r="2" fill="#bdbdbd"/>
<circle cx="1774.7" cy="863.5" r="2" fill="#bdbdbd"/>
<circle cx="1799.2" cy="847.8" r="2" fill="#bdbdbd"/>
<circle cx="1755" cy="860.6" r="2" fill="#bdbdbd"/>
<circle cx="1746.2" cy="853.6" r="2" fill="#bdbdbd"/>
<circle cx="1796.1" cy="858.6" r="2" fill="#bdbdbd"/>
<circle cx="1730" cy="858.6" r="2" fill="#bdbdbd"/>
<circle cx="1735" cy="861.7" r="2" fill="#bdbdbd"/>
<circle cx="1786.9" cy="864.3" r="2" fill="#bdbdbd"/>
<circle cx="1834.5" cy="865.3" r="2" fill="#bdbdbd"/>
<circle cx="1848.5" cy="860" r="2" fill="#bdbdbd"/>
<circle cx="1849.1" cy="854.9" r="2" fill="#bdbdbd"/>
<circle cx="1795.2" cy="858.6" r="2" fill="#bdbdbd"/>
<circle cx="1838.2" cy="870.4" r="2" fill="#bdbdbd"/>
<circle cx="1757.2" cy="852.7" r="2" fill="#bdbdbd"/>
<circle cx="1826.2" cy="863.9" r="2" fill="#bdbdbd"/>
<circle cx="1832.6" cy="854.3" r="2" fill="#bdbdbd"/>
<circle cx="1845" cy="855.8" r="2" fill="#bdbdbd"/>
<circle cx="1782.3" cy="869.6" r="2" fill="#bdbdbd"/>
<circle cx="1824.8" cy="871.3" r="2" fill="#bdbdbd"/>
<circle cx="1838.9" cy="871" r="2" fill="#bdbdbd"/>
<circle cx="1738.4" cy="869" r="2" fill="#bdbdbd"/>
<circle cx="1754.1" cy="852.4" r="2" fill="#bdbdbd"/>
<circle cx="1747.2" cy="850.1" r="2" fill="#bdbdbd"/>
<circle cx="1859.6" cy="859.7" r="2" fill="#bdbdbd"/>
<circle cx="1864" cy="852.6" r="2" fill="#bdbdbd"/>
<circle cx="1782.1" cy="851.6" r="2" fill="#bdbdbd"/>
<circle cx="1813.6" cy="875.3" r="2" fill="#bdbdbd"/>
<circle cx="1866.7" cy="849.5" r="2" fill="#bdbdbd"/>
<circle cx="1727" cy="861.5" r="2" fill="#bdbdbd"/>
<circle cx="1726.1" cy="864.5" r="2" fill="#bdbdbd"/>
<circle cx="1762.3" cy="863.6" r="2" fill="#bdbdbd"/>
<circle cx="1737.7" cy="877.3" r="2" fill="#bdbdbd"/>
<circle cx="1768.8" cy="850.9" r="2" fill="#bdbdbd"/>
<circle cx="1791.6" cy="859" r="2" fill="#bdbdbd"/>
<circle cx="1775.3" cy="865.8" r="2" fill="#bdbdbd"/>
<circle cx="1844.4" cy="847.4" r="2" fill="#bdbdbd"/>
<circle cx="1762" cy="869.1" r="2" fill="#bdbdbd"/>
<circle cx="1833.5" cy="853.7" r="2" fill="#bdbdbd"/>
<circle cx="1865.6" cy="869.9" r="2" fill="#bdbdbd"/>
<circle cx="1800.9" cy="852.8" r="2" fill="#bdbdbd"/>
<circle cx="1838.7" cy="857.6" r="2" fill="#bdbdbd"/>
<circle cx="1735.7" cy="856.7" r="2" fill="#bdbdbd"/>
<circle cx="1858.5" cy="860.7" r="2" fill="#bdbdbd"/>
<circle cx="1737.7" cy="851.4" r="2" fill="#bdbdbd"/>
<circle cx="1767.9" cy="850.5" r="2" fill="#bdbdbd"/>
<circle cx="1741.1" cy="859.4" r="2" fill="#bdbdbd"/>
</g>
<line x1="1719.8" y1="860.6" x2="1868.4" y2="860.6" stroke="#000" stroke-width="2.6" stroke-dasharray="11 4"/>
<rect x="1719.8" y="792" width="148.6" height="137.2" fill="none" stroke="#333" stroke-width="1.2" />
<line x1="1719.8" y1="814.1" x2="1724.8" y2="814.1" stroke="#333" stroke-width="1.2" />
<text x="1712.5" y="821.4" font-size="20.5" text-anchor="end" >1</text>
<line x1="1719.8" y1="860.6" x2="1724.8" y2="860.6" stroke="#333" stroke-width="1.2" />
<text x="1712.5" y="867.9" font-size="20.5" text-anchor="end" >0</text>
<line x1="1719.8" y1="907.1" x2="1724.8" y2="907.1" stroke="#333" stroke-width="1.2" />
<text x="1712.5" y="914.4" font-size="20.5" text-anchor="end" >−1</text>
<line x1="1719.8" y1="929.2" x2="1719.8" y2="924.2" stroke="#333" stroke-width="1.2" />
<text x="1720" y="959" font-size="20.5" text-anchor="middle" >0</text>
<text x="1868" y="959" font-size="20.5" text-anchor="middle" >400</text>
<text x="1794.3" y="976.5" font-size="20.5" text-anchor="middle" >Number</text>
<text x="1662" y="860.6" font-size="20.5" text-anchor="middle" transform="rotate(-90 1662 860.6)" ><tspan font-style="italic">V</tspan><tspan font-size="62%" dy="0.35em">ph</tspan><tspan dy="-0.22em">&#8203;</tspan> (µV)</text>
<text x="1296" y="574" font-size="54" >(f)</text></g>
<g id="panel_g"><defs>
<clipPath id="gclip"><rect x="44.8" y="1129" width="1159.9" height="680"/></clipPath>
<linearGradient id="gbg" x1="0" y1="0" x2="1" y2="0"><stop offset="0" stop-color="#5a1410"/><stop offset="0.58" stop-color="#48120f"/><stop offset="0.72" stop-color="#2c0c0b"/><stop offset="0.86" stop-color="#120706"/><stop offset="1" stop-color="#050303"/></linearGradient>
<linearGradient id="gbody" x1="0" y1="0" x2="1" y2="0"><stop offset="0" stop-color="#a12a1c"/><stop offset="0.12" stop-color="#4a100a"/><stop offset="0.35" stop-color="#7a2416"/><stop offset="0.5" stop-color="#2a0806"/><stop offset="0.75" stop-color="#5a150e"/><stop offset="0.9" stop-color="#2a0806"/><stop offset="1" stop-color="#8a2218"/></linearGradient>
<linearGradient id="gbody2" x1="0" y1="0" x2="1" y2="0"><stop offset="0" stop-color="#d8a098"/><stop offset="0.15" stop-color="#7a625e"/><stop offset="0.3" stop-color="#e6cdc6"/><stop offset="0.45" stop-color="#4a3430"/><stop offset="0.7" stop-color="#a08884"/><stop offset="0.85" stop-color="#3e2a28"/><stop offset="1" stop-color="#b88a84"/></linearGradient>
<linearGradient id="gcapside" x1="0" y1="0" x2="1" y2="0"><stop offset="0" stop-color="#f0483a"/><stop offset="0.3" stop-color="#d42a22"/><stop offset="0.7" stop-color="#e0362c"/><stop offset="1" stop-color="#c0241e"/></linearGradient>
<linearGradient id="gcaptop" x1="0" y1="0" x2="0" y2="1"><stop offset="0" stop-color="#f2584a"/><stop offset="1" stop-color="#e63c32"/></linearGradient>
<linearGradient id="gface" x1="0" y1="0" x2="0" y2="1"><stop offset="0" stop-color="#ee8a74"/><stop offset="0.09" stop-color="#e2765a"/><stop offset="0.14" stop-color="#d07a20"/><stop offset="0.3" stop-color="#b8661a"/><stop offset="0.6" stop-color="#9a5416"/><stop offset="0.8" stop-color="#64340f"/><stop offset="1" stop-color="#2e190c"/></linearGradient>
<linearGradient id="gfaceh" x1="0" y1="0" x2="1" y2="0"><stop offset="0" stop-color="#3a1404" stop-opacity="0.45"/><stop offset="0.12" stop-color="#3a1404" stop-opacity="0"/><stop offset="0.42" stop-color="#2a0e02" stop-opacity="0"/><stop offset="0.5" stop-color="#2a0e02" stop-opacity="0.32"/><stop offset="0.58" stop-color="#2a0e02" stop-opacity="0"/><stop offset="0.88" stop-color="#3a1404" stop-opacity="0"/><stop offset="1" stop-color="#3a1404" stop-opacity="0.45"/></linearGradient>
<radialGradient id="gglow"><stop offset="0" stop-color="#fffde0"/><stop offset="0.3" stop-color="#fff2a8"/><stop offset="0.55" stop-color="#ffc838" stop-opacity="0.9"/><stop offset="0.8" stop-color="#f09018" stop-opacity="0.4"/><stop offset="1" stop-color="#e07810" stop-opacity="0"/></radialGradient>
<radialGradient id="gvglow"><stop offset="0" stop-color="#fff79a"/><stop offset="0.62" stop-color="#fff27e"/><stop offset="0.75" stop-color="#d8c040" stop-opacity="0.6"/><stop offset="1" stop-color="#a08a20" stop-opacity="0"/></radialGradient>
<linearGradient id="gsi" x1="0" y1="0" x2="0" y2="1"><stop offset="0" stop-color="#2c1710"/><stop offset="0.25" stop-color="#1f1512"/><stop offset="1" stop-color="#191412"/></linearGradient>
<linearGradient id="gfloor" x1="0" y1="0" x2="0" y2="1"><stop offset="0" stop-color="#f08878"/><stop offset="1" stop-color="#fbb4a2"/></linearGradient>
<linearGradient id="gbeam" gradientUnits="userSpaceOnUse" x1="0" y1="1129" x2="0" y2="1570"><stop offset="0" stop-color="#f88a7e"/><stop offset="0.5" stop-color="#f9a090"/><stop offset="1" stop-color="#fcc0b0"/></linearGradient>
<filter id="gbl0" x="-50%" y="-50%" width="200%" height="200%"><feGaussianBlur stdDeviation="3"/></filter>
<filter id="gbl1" x="-50%" y="-50%" width="200%" height="200%"><feGaussianBlur stdDeviation="6"/></filter>
<filter id="gbl2" x="-50%" y="-50%" width="200%" height="200%"><feGaussianBlur stdDeviation="14"/></filter>
<filter id="gbl3" x="-50%" y="-50%" width="200%" height="200%"><feGaussianBlur stdDeviation="1.2"/></filter>
<filter id="gbl4" x="-50%" y="-50%" width="200%" height="200%"><feGaussianBlur stdDeviation="30"/></filter>
<marker id="garry" viewBox="0 0 10 10" refX="6" refY="5" markerWidth="5" markerHeight="5" orient="auto"><path d="M0,0.5 L10,5 L0,9.5 L2.5,5Z" fill="#ffe030"/></marker>
<marker id="garrb" viewBox="0 0 10 10" refX="6" refY="5" markerWidth="5" markerHeight="5" orient="auto"><path d="M0,0.5 L10,5 L0,9.5 L2.5,5Z" fill="#1a7aac"/></marker>
<marker id="garrr" viewBox="0 0 10 10" refX="6" refY="5" markerWidth="5" markerHeight="5" orient="auto"><path d="M0,0.5 L10,5 L0,9.5 L2.5,5Z" fill="#e8424a"/></marker>
</defs>
<g clip-path="url(#gclip)">
<rect x="44.8" y="1129" width="1159.9" height="680" fill="url(#gbg)" />
<path d="M660,1129 L900,1129 L1120,1600 L900,1600Z" fill="#7a1812" filter="url(#gbl4)" opacity="0.42"/>
<path d="M-2500,1553 L1010,1553 L658.5,1060.9 L483,1060.9Z" fill="#e86a5c" />
<path d="M9.6,1109.3 L9.6,1115.6 A27.7,3.5 0 0 0 65,1115.6 L65,1109.3Z" fill="url(#gcapside)" />
<ellipse cx="37.3" cy="1109.3" rx="27.7" ry="3.5" fill="url(#gcaptop)"/>
<path d="M90.3,1109.3 L90.3,1115.6 A27.7,3.5 0 0 0 145.6,1115.6 L145.6,1109.3Z" fill="url(#gcapside)" />
<ellipse cx="118" cy="1109.3" rx="27.7" ry="3.5" fill="url(#gcaptop)"/>
<path d="M170.9,1109.3 L170.9,1115.6 A27.7,3.5 0 0 0 226.3,1115.6 L226.3,1109.3Z" fill="url(#gcapside)" />
<ellipse cx="198.6" cy="1109.3" rx="27.7" ry="3.5" fill="url(#gcaptop)"/>
<path d="M251.6,1109.3 L251.6,1115.6 A27.7,3.5 0 0 0 307,1115.6 L307,1109.3Z" fill="url(#gcapside)" />
<ellipse cx="279.3" cy="1109.3" rx="27.7" ry="3.5" fill="url(#gcaptop)"/>
<path d="M332.3,1109.3 L332.3,1115.6 A27.7,3.5 0 0 0 387.6,1115.6 L387.6,1109.3Z" fill="url(#gcapside)" />
<ellipse cx="359.9" cy="1109.3" rx="27.7" ry="3.5" fill="url(#gcaptop)"/>
<path d="M412.9,1109.3 L412.9,1115.6 A27.7,3.5 0 0 0 468.3,1115.6 L468.3,1109.3Z" fill="url(#gcapside)" />
<ellipse cx="440.6" cy="1109.3" rx="27.7" ry="3.5" fill="url(#gcaptop)"/>
<path d="M493.6,1109.3 L493.6,1115.6 A27.7,3.5 0 0 0 548.9,1115.6 L548.9,1109.3Z" fill="url(#gcapside)" />
<ellipse cx="521.3" cy="1109.3" rx="27.7" ry="3.5" fill="url(#gcaptop)"/>
<path d="M574.2,1109.3 L574.2,1115.6 A27.7,3.5 0 0 0 629.6,1115.6 L629.6,1109.3Z" fill="url(#gcapside)" />
<ellipse cx="601.9" cy="1109.3" rx="27.7" ry="3.5" fill="url(#gcaptop)"/>
<path d="M654.9,1109.3 L654.9,1115.6 A27.7,3.5 0 0 0 710.3,1115.6 L710.3,1109.3Z" fill="url(#gcapside)" />
<ellipse cx="682.6" cy="1109.3" rx="27.7" ry="3.5" fill="url(#gcaptop)"/>
<path d="M63.3,1113 L63.3,1119.5 A29,3.7 0 0 0 121.3,1119.5 L121.3,1113Z" fill="url(#gcapside)" />
<ellipse cx="92.3" cy="1113" rx="29" ry="3.7" fill="url(#gcaptop)"/>
<path d="M147.9,1113 L147.9,1119.5 A29,3.7 0 0 0 206,1119.5 L206,1113Z" fill="url(#gcapside)" />
<ellipse cx="176.9" cy="1113" rx="29" ry="3.7" fill="url(#gcaptop)"/>
<path d="M232.5,1113 L232.5,1119.5 A29,3.7 0 0 0 290.6,1119.5 L290.6,1113Z" fill="url(#gcapside)" />
<ellipse cx="261.6" cy="1113" rx="29" ry="3.7" fill="url(#gcaptop)"/>
<path d="M317.1,1113 L317.1,1119.5 A29,3.7 0 0 0 375.2,1119.5 L375.2,1113Z" fill="url(#gcapside)" />
<ellipse cx="346.2" cy="1113" rx="29" ry="3.7" fill="url(#gcaptop)"/>
<path d="M401.8,1113 L401.8,1119.5 A29,3.7 0 0 0 459.8,1119.5 L459.8,1113Z" fill="url(#gcapside)" />
<ellipse cx="430.8" cy="1113" rx="29" ry="3.7" fill="url(#gcaptop)"/>
<path d="M486.4,1113 L486.4,1119.5 A29,3.7 0 0 0 544.5,1119.5 L544.5,1113Z" fill="url(#gcapside)" />
<ellipse cx="515.4" cy="1113" rx="29" ry="3.7" fill="url(#gcaptop)"/>
<path d="M571,1113 L571,1119.5 A29,3.7 0 0 0 629.1,1119.5 L629.1,1113Z" fill="url(#gcapside)" />
<ellipse cx="600.1" cy="1113" rx="29" ry="3.7" fill="url(#gcaptop)"/>
<path d="M655.6,1113 L655.6,1119.5 A29,3.7 0 0 0 713.7,1119.5 L713.7,1113Z" fill="url(#gcapside)" />
<ellipse cx="684.7" cy="1113" rx="29" ry="3.7" fill="url(#gcaptop)"/>
<path d="M33.4,1117 L33.4,1123.9 A30.5,3.9 0 0 0 94.5,1123.9 L94.5,1117Z" fill="url(#gcapside)" />
<ellipse cx="64" cy="1117" rx="30.5" ry="3.9" fill="url(#gcaptop)"/>
<path d="M122.4,1117 L122.4,1123.9 A30.5,3.9 0 0 0 183.5,1123.9 L183.5,1117Z" fill="url(#gcapside)" />
<ellipse cx="153" cy="1117" rx="30.5" ry="3.9" fill="url(#gcaptop)"/>
<path d="M211.4,1117 L211.4,1123.9 A30.5,3.9 0 0 0 272.5,1123.9 L272.5,1117Z" fill="url(#gcapside)" />
<ellipse cx="242" cy="1117" rx="30.5" ry="3.9" fill="url(#gcaptop)"/>
<path d="M300.4,1117 L300.4,1123.9 A30.5,3.9 0 0 0 361.5,1123.9 L361.5,1117Z" fill="url(#gcapside)" />
<ellipse cx="331" cy="1117" rx="30.5" ry="3.9" fill="url(#gcaptop)"/>
<path d="M389.4,1117 L389.4,1123.9 A30.5,3.9 0 0 0 450.5,1123.9 L450.5,1117Z" fill="url(#gcapside)" />
<ellipse cx="420" cy="1117" rx="30.5" ry="3.9" fill="url(#gcaptop)"/>
<path d="M478.4,1117 L478.4,1123.9 A30.5,3.9 0 0 0 539.5,1123.9 L539.5,1117Z" fill="url(#gcapside)" />
<ellipse cx="509" cy="1117" rx="30.5" ry="3.9" fill="url(#gcaptop)"/>
<path d="M567.4,1117 L567.4,1123.9 A30.5,3.9 0 0 0 628.5,1123.9 L628.5,1117Z" fill="url(#gcapside)" />
<ellipse cx="598" cy="1117" rx="30.5" ry="3.9" fill="url(#gcaptop)"/>
<path d="M656.4,1117 L656.4,1123.9 A30.5,3.9 0 0 0 717.5,1123.9 L717.5,1117Z" fill="url(#gcapside)" />
<ellipse cx="687" cy="1117" rx="30.5" ry="3.9" fill="url(#gcaptop)"/>
<path d="M0.4,1121.5 L0.4,1128.8 A32.2,4.1 0 0 0 64.8,1128.8 L64.8,1121.5Z" fill="url(#gcapside)" />
<ellipse cx="32.6" cy="1121.5" rx="32.2" ry="4.1" fill="url(#gcaptop)"/>
<path d="M94.2,1121.5 L94.2,1128.8 A32.2,4.1 0 0 0 158.7,1128.8 L158.7,1121.5Z" fill="url(#gcapside)" />
<ellipse cx="126.4" cy="1121.5" rx="32.2" ry="4.1" fill="url(#gcaptop)"/>
<path d="M188.1,1121.5 L188.1,1128.8 A32.2,4.1 0 0 0 252.5,1128.8 L252.5,1121.5Z" fill="url(#gcapside)" />
<ellipse cx="220.3" cy="1121.5" rx="32.2" ry="4.1" fill="url(#gcaptop)"/>
<path d="M281.9,1121.5 L281.9,1128.8 A32.2,4.1 0 0 0 346.4,1128.8 L346.4,1121.5Z" fill="url(#gcapside)" />
<ellipse cx="314.1" cy="1121.5" rx="32.2" ry="4.1" fill="url(#gcaptop)"/>
<path d="M375.8,1121.5 L375.8,1128.8 A32.2,4.1 0 0 0 440.2,1128.8 L440.2,1121.5Z" fill="url(#gcapside)" />
<ellipse cx="408" cy="1121.5" rx="32.2" ry="4.1" fill="url(#gcaptop)"/>
<path d="M469.6,1121.5 L469.6,1128.8 A32.2,4.1 0 0 0 534.1,1128.8 L534.1,1121.5Z" fill="url(#gcapside)" />
<ellipse cx="501.8" cy="1121.5" rx="32.2" ry="4.1" fill="url(#gcaptop)"/>
<path d="M563.5,1121.5 L563.5,1128.8 A32.2,4.1 0 0 0 627.9,1128.8 L627.9,1121.5Z" fill="url(#gcapside)" />
<ellipse cx="595.7" cy="1121.5" rx="32.2" ry="4.1" fill="url(#gcaptop)"/>
<path d="M657.3,1121.5 L657.3,1128.8 A32.2,4.1 0 0 0 721.8,1128.8 L721.8,1121.5Z" fill="url(#gcapside)" />
<ellipse cx="689.5" cy="1121.5" rx="32.2" ry="4.1" fill="url(#gcaptop)"/>
<path d="M62.8,1134.2 L62.8,1190.6 A34.1,4.3 0 0 0 130.9,1190.6 L130.9,1134.2Z" fill="url(#gbody)" />
<path d="M62.8,1126.5 L62.8,1134.2 A34.1,4.3 0 0 0 130.9,1134.2 L130.9,1126.5Z" fill="url(#gcapside)" />
<ellipse cx="96.8" cy="1126.5" rx="34.1" ry="4.3" fill="url(#gcaptop)"/>
<path d="M162,1134.2 L162,1190.6 A34.1,4.3 0 0 0 230.2,1190.6 L230.2,1134.2Z" fill="url(#gbody)" />
<path d="M162,1126.5 L162,1134.2 A34.1,4.3 0 0 0 230.2,1134.2 L230.2,1126.5Z" fill="url(#gcapside)" />
<ellipse cx="196.1" cy="1126.5" rx="34.1" ry="4.3" fill="url(#gcaptop)"/>
<path d="M261.3,1134.2 L261.3,1190.6 A34.1,4.3 0 0 0 329.4,1190.6 L329.4,1134.2Z" fill="url(#gbody)" />
<path d="M261.3,1126.5 L261.3,1134.2 A34.1,4.3 0 0 0 329.4,1134.2 L329.4,1126.5Z" fill="url(#gcapside)" />
<ellipse cx="295.4" cy="1126.5" rx="34.1" ry="4.3" fill="url(#gcaptop)"/>
<path d="M360.6,1134.2 L360.6,1190.6 A34.1,4.3 0 0 0 428.7,1190.6 L428.7,1134.2Z" fill="url(#gbody)" />
<path d="M360.6,1126.5 L360.6,1134.2 A34.1,4.3 0 0 0 428.7,1134.2 L428.7,1126.5Z" fill="url(#gcapside)" />
<ellipse cx="394.6" cy="1126.5" rx="34.1" ry="4.3" fill="url(#gcaptop)"/>
<path d="M459.8,1134.2 L459.8,1190.6 A34.1,4.3 0 0 0 527.9,1190.6 L527.9,1134.2Z" fill="url(#gbody)" />
<path d="M459.8,1126.5 L459.8,1134.2 A34.1,4.3 0 0 0 527.9,1134.2 L527.9,1126.5Z" fill="url(#gcapside)" />
<ellipse cx="493.9" cy="1126.5" rx="34.1" ry="4.3" fill="url(#gcaptop)"/>
<path d="M559.1,1134.2 L559.1,1190.6 A34.1,4.3 0 0 0 627.2,1190.6 L627.2,1134.2Z" fill="url(#gbody)" />
<path d="M559.1,1126.5 L559.1,1134.2 A34.1,4.3 0 0 0 627.2,1134.2 L627.2,1126.5Z" fill="url(#gcapside)" />
<ellipse cx="593.1" cy="1126.5" rx="34.1" ry="4.3" fill="url(#gcaptop)"/>
<path d="M658.3,1134.2 L658.3,1190.6 A34.1,4.3 0 0 0 726.5,1190.6 L726.5,1134.2Z" fill="url(#gbody)" />
<path d="M658.3,1126.5 L658.3,1134.2 A34.1,4.3 0 0 0 726.5,1134.2 L726.5,1126.5Z" fill="url(#gcapside)" />
<ellipse cx="692.4" cy="1126.5" rx="34.1" ry="4.3" fill="url(#gcaptop)"/>
<path d="M27.5,1140.2 L27.5,1200.1 A36.1,4.6 0 0 0 99.8,1200.1 L99.8,1140.2Z" fill="url(#gbody)" />
<path d="M27.5,1132.1 L27.5,1140.2 A36.1,4.6 0 0 0 99.8,1140.2 L99.8,1132.1Z" fill="url(#gcapside)" />
<ellipse cx="63.6" cy="1132.1" rx="36.1" ry="4.6" fill="url(#gcaptop)"/>
<path d="M132.8,1140.2 L132.8,1200.1 A36.1,4.6 0 0 0 205.1,1200.1 L205.1,1140.2Z" fill="url(#gbody)" />
<path d="M132.8,1132.1 L132.8,1140.2 A36.1,4.6 0 0 0 205.1,1140.2 L205.1,1132.1Z" fill="url(#gcapside)" />
<ellipse cx="168.9" cy="1132.1" rx="36.1" ry="4.6" fill="url(#gcaptop)"/>
<path d="M238.1,1140.2 L238.1,1200.1 A36.1,4.6 0 0 0 310.4,1200.1 L310.4,1140.2Z" fill="url(#gbody)" />
<path d="M238.1,1132.1 L238.1,1140.2 A36.1,4.6 0 0 0 310.4,1140.2 L310.4,1132.1Z" fill="url(#gcapside)" />
<ellipse cx="274.3" cy="1132.1" rx="36.1" ry="4.6" fill="url(#gcaptop)"/>
<path d="M343.5,1140.2 L343.5,1200.1 A36.1,4.6 0 0 0 415.8,1200.1 L415.8,1140.2Z" fill="url(#gbody)" />
<path d="M343.5,1132.1 L343.5,1140.2 A36.1,4.6 0 0 0 415.8,1140.2 L415.8,1132.1Z" fill="url(#gcapside)" />
<ellipse cx="379.6" cy="1132.1" rx="36.1" ry="4.6" fill="url(#gcaptop)"/>
<path d="M448.8,1140.2 L448.8,1200.1 A36.1,4.6 0 0 0 521.1,1200.1 L521.1,1140.2Z" fill="url(#gbody)" />
<path d="M448.8,1132.1 L448.8,1140.2 A36.1,4.6 0 0 0 521.1,1140.2 L521.1,1132.1Z" fill="url(#gcapside)" />
<ellipse cx="484.9" cy="1132.1" rx="36.1" ry="4.6" fill="url(#gcaptop)"/>
<path d="M554.1,1140.2 L554.1,1200.1 A36.1,4.6 0 0 0 626.4,1200.1 L626.4,1140.2Z" fill="url(#gbody)" />
<path d="M554.1,1132.1 L554.1,1140.2 A36.1,4.6 0 0 0 626.4,1140.2 L626.4,1132.1Z" fill="url(#gcapside)" />
<ellipse cx="590.3" cy="1132.1" rx="36.1" ry="4.6" fill="url(#gcaptop)"/>
<path d="M659.5,1140.2 L659.5,1200.1 A36.1,4.6 0 0 0 731.8,1200.1 L731.8,1140.2Z" fill="url(#gbody)" />
<path d="M659.5,1132.1 L659.5,1140.2 A36.1,4.6 0 0 0 731.8,1140.2 L731.8,1132.1Z" fill="url(#gcapside)" />
<ellipse cx="695.6" cy="1132.1" rx="36.1" ry="4.6" fill="url(#gcaptop)"/>
<path d="M-12.4,1147.1 L-12.4,1210.9 A38.5,4.9 0 0 0 64.6,1210.9 L64.6,1147.1Z" fill="url(#gbody)" />
<path d="M-12.4,1138.4 L-12.4,1147.1 A38.5,4.9 0 0 0 64.6,1147.1 L64.6,1138.4Z" fill="url(#gcapside)" />
<ellipse cx="26.1" cy="1138.4" rx="38.5" ry="4.9" fill="url(#gcaptop)"/>
<path d="M99.8,1147.1 L99.8,1210.9 A38.5,4.9 0 0 0 176.8,1210.9 L176.8,1147.1Z" fill="url(#gbody)" />
<path d="M99.8,1138.4 L99.8,1147.1 A38.5,4.9 0 0 0 176.8,1147.1 L176.8,1138.4Z" fill="url(#gcapside)" />
<ellipse cx="138.3" cy="1138.4" rx="38.5" ry="4.9" fill="url(#gcaptop)"/>
<path d="M212,1147.1 L212,1210.9 A38.5,4.9 0 0 0 289,1210.9 L289,1147.1Z" fill="url(#gbody)" />
<path d="M212,1138.4 L212,1147.1 A38.5,4.9 0 0 0 289,1147.1 L289,1138.4Z" fill="url(#gcapside)" />
<ellipse cx="250.5" cy="1138.4" rx="38.5" ry="4.9" fill="url(#gcaptop)"/>
<path d="M324.1,1147.1 L324.1,1210.9 A38.5,4.9 0 0 0 401.1,1210.9 L401.1,1147.1Z" fill="url(#gbody)" />
<path d="M324.1,1138.4 L324.1,1147.1 A38.5,4.9 0 0 0 401.1,1147.1 L401.1,1138.4Z" fill="url(#gcapside)" />
<ellipse cx="362.6" cy="1138.4" rx="38.5" ry="4.9" fill="url(#gcaptop)"/>
<path d="M436.3,1147.1 L436.3,1210.9 A38.5,4.9 0 0 0 513.3,1210.9 L513.3,1147.1Z" fill="url(#gbody)" />
<path d="M436.3,1138.4 L436.3,1147.1 A38.5,4.9 0 0 0 513.3,1147.1 L513.3,1138.4Z" fill="url(#gcapside)" />
<ellipse cx="474.8" cy="1138.4" rx="38.5" ry="4.9" fill="url(#gcaptop)"/>
<path d="M548.5,1147.1 L548.5,1210.9 A38.5,4.9 0 0 0 625.5,1210.9 L625.5,1147.1Z" fill="url(#gbody)" />
<path d="M548.5,1138.4 L548.5,1147.1 A38.5,4.9 0 0 0 625.5,1147.1 L625.5,1138.4Z" fill="url(#gcapside)" />
<ellipse cx="587" cy="1138.4" rx="38.5" ry="4.9" fill="url(#gcaptop)"/>
<path d="M660.7,1147.1 L660.7,1210.9 A38.5,4.9 0 0 0 737.7,1210.9 L737.7,1147.1Z" fill="url(#gbody)" />
<path d="M660.7,1138.4 L660.7,1147.1 A38.5,4.9 0 0 0 737.7,1147.1 L737.7,1138.4Z" fill="url(#gcapside)" />
<ellipse cx="699.2" cy="1138.4" rx="38.5" ry="4.9" fill="url(#gcaptop)"/>
<path d="M62.1,1154.9 L62.1,1223.1 A41.2,5.2 0 0 0 144.5,1223.1 L144.5,1154.9Z" fill="url(#gbody)" />
<path d="M62.1,1145.6 L62.1,1154.9 A41.2,5.2 0 0 0 144.5,1154.9 L144.5,1145.6Z" fill="url(#gcapside)" />
<ellipse cx="103.3" cy="1145.6" rx="41.2" ry="5.2" fill="url(#gcaptop)"/>
<path d="M182.1,1154.9 L182.1,1223.1 A41.2,5.2 0 0 0 264.5,1223.1 L264.5,1154.9Z" fill="url(#gbody)" />
<path d="M182.1,1145.6 L182.1,1154.9 A41.2,5.2 0 0 0 264.5,1154.9 L264.5,1145.6Z" fill="url(#gcapside)" />
<ellipse cx="223.3" cy="1145.6" rx="41.2" ry="5.2" fill="url(#gcaptop)"/>
<path d="M302.1,1154.9 L302.1,1223.1 A41.2,5.2 0 0 0 384.5,1223.1 L384.5,1154.9Z" fill="url(#gbody)" />
<path d="M302.1,1145.6 L302.1,1154.9 A41.2,5.2 0 0 0 384.5,1154.9 L384.5,1145.6Z" fill="url(#gcapside)" />
<ellipse cx="343.3" cy="1145.6" rx="41.2" ry="5.2" fill="url(#gcaptop)"/>
<path d="M422.1,1154.9 L422.1,1223.1 A41.2,5.2 0 0 0 504.5,1223.1 L504.5,1154.9Z" fill="url(#gbody)" />
<path d="M422.1,1145.6 L422.1,1154.9 A41.2,5.2 0 0 0 504.5,1154.9 L504.5,1145.6Z" fill="url(#gcapside)" />
<ellipse cx="463.3" cy="1145.6" rx="41.2" ry="5.2" fill="url(#gcaptop)"/>
<path d="M542.2,1154.9 L542.2,1223.1 A41.2,5.2 0 0 0 624.5,1223.1 L624.5,1154.9Z" fill="url(#gbody)" />
<path d="M542.2,1145.6 L542.2,1154.9 A41.2,5.2 0 0 0 624.5,1154.9 L624.5,1145.6Z" fill="url(#gcapside)" />
<ellipse cx="583.3" cy="1145.6" rx="41.2" ry="5.2" fill="url(#gcaptop)"/>
<path d="M662.2,1154.9 L662.2,1223.1 A41.2,5.2 0 0 0 744.5,1223.1 L744.5,1154.9Z" fill="url(#gbody)" />
<path d="M662.2,1145.6 L662.2,1154.9 A41.2,5.2 0 0 0 744.5,1154.9 L744.5,1145.6Z" fill="url(#gcapside)" />
<ellipse cx="703.4" cy="1145.6" rx="41.2" ry="5.2" fill="url(#gcaptop)"/>
<path d="M18.8,1163.9 L18.8,1237.2 A44.3,5.6 0 0 0 107.3,1237.2 L107.3,1163.9Z" fill="url(#gbody)" />
<path d="M18.8,1153.9 L18.8,1163.9 A44.3,5.6 0 0 0 107.3,1163.9 L107.3,1153.9Z" fill="url(#gcapside)" />
<ellipse cx="63.1" cy="1153.9" rx="44.3" ry="5.6" fill="url(#gcaptop)"/>
<path d="M147.8,1163.9 L147.8,1237.2 A44.3,5.6 0 0 0 236.4,1237.2 L236.4,1163.9Z" fill="url(#gbody)" />
<path d="M147.8,1153.9 L147.8,1163.9 A44.3,5.6 0 0 0 236.4,1163.9 L236.4,1153.9Z" fill="url(#gcapside)" />
<ellipse cx="192.1" cy="1153.9" rx="44.3" ry="5.6" fill="url(#gcaptop)"/>
<path d="M276.8,1163.9 L276.8,1237.2 A44.3,5.6 0 0 0 365.4,1237.2 L365.4,1163.9Z" fill="url(#gbody)" />
<path d="M276.8,1153.9 L276.8,1163.9 A44.3,5.6 0 0 0 365.4,1163.9 L365.4,1153.9Z" fill="url(#gcapside)" />
<ellipse cx="321.1" cy="1153.9" rx="44.3" ry="5.6" fill="url(#gcaptop)"/>
<path d="M405.8,1163.9 L405.8,1237.2 A44.3,5.6 0 0 0 494.4,1237.2 L494.4,1163.9Z" fill="url(#gbody)" />
<path d="M405.8,1153.9 L405.8,1163.9 A44.3,5.6 0 0 0 494.4,1163.9 L494.4,1153.9Z" fill="url(#gcapside)" />
<ellipse cx="450.1" cy="1153.9" rx="44.3" ry="5.6" fill="url(#gcaptop)"/>
<path d="M534.8,1163.9 L534.8,1237.2 A44.3,5.6 0 0 0 623.4,1237.2 L623.4,1163.9Z" fill="url(#gbody)" />
<path d="M534.8,1153.9 L534.8,1163.9 A44.3,5.6 0 0 0 623.4,1163.9 L623.4,1153.9Z" fill="url(#gcapside)" />
<ellipse cx="579.1" cy="1153.9" rx="44.3" ry="5.6" fill="url(#gcaptop)"/>
<path d="M663.8,1163.9 L663.8,1237.2 A44.3,5.6 0 0 0 752.4,1237.2 L752.4,1163.9Z" fill="url(#gbody)" />
<path d="M663.8,1153.9 L663.8,1163.9 A44.3,5.6 0 0 0 752.4,1163.9 L752.4,1153.9Z" fill="url(#gcapside)" />
<ellipse cx="708.1" cy="1153.9" rx="44.3" ry="5.6" fill="url(#gcaptop)"/>
<path d="M-31.5,1174.3 L-31.5,1253.6 A47.9,6.1 0 0 0 64.2,1253.6 L64.2,1174.3Z" fill="url(#gbody)" />
<path d="M-31.5,1163.5 L-31.5,1174.3 A47.9,6.1 0 0 0 64.2,1174.3 L64.2,1163.5Z" fill="url(#gcapside)" />
<ellipse cx="16.4" cy="1163.5" rx="47.9" ry="6.1" fill="url(#gcaptop)"/>
<path d="M108,1174.3 L108,1253.6 A47.9,6.1 0 0 0 203.7,1253.6 L203.7,1174.3Z" fill="url(#gbody)" />
<path d="M108,1163.5 L108,1174.3 A47.9,6.1 0 0 0 203.7,1174.3 L203.7,1163.5Z" fill="url(#gcapside)" />
<ellipse cx="155.8" cy="1163.5" rx="47.9" ry="6.1" fill="url(#gcaptop)"/>
<path d="M247.4,1174.3 L247.4,1253.6 A47.9,6.1 0 0 0 343.1,1253.6 L343.1,1174.3Z" fill="url(#gbody)" />
<path d="M247.4,1163.5 L247.4,1174.3 A47.9,6.1 0 0 0 343.1,1174.3 L343.1,1163.5Z" fill="url(#gcapside)" />
<ellipse cx="295.3" cy="1163.5" rx="47.9" ry="6.1" fill="url(#gcaptop)"/>
<path d="M386.9,1174.3 L386.9,1253.6 A47.9,6.1 0 0 0 482.6,1253.6 L482.6,1174.3Z" fill="url(#gbody)" />
<path d="M386.9,1163.5 L386.9,1174.3 A47.9,6.1 0 0 0 482.6,1174.3 L482.6,1163.5Z" fill="url(#gcapside)" />
<ellipse cx="434.7" cy="1163.5" rx="47.9" ry="6.1" fill="url(#gcaptop)"/>
<path d="M526.3,1174.3 L526.3,1253.6 A47.9,6.1 0 0 0 622,1253.6 L622,1174.3Z" fill="url(#gbody)" />
<path d="M526.3,1163.5 L526.3,1174.3 A47.9,6.1 0 0 0 622,1174.3 L622,1163.5Z" fill="url(#gcapside)" />
<ellipse cx="574.2" cy="1163.5" rx="47.9" ry="6.1" fill="url(#gcaptop)"/>
<path d="M665.8,1174.3 L665.8,1253.6 A47.9,6.1 0 0 0 761.5,1253.6 L761.5,1174.3Z" fill="url(#gbody)" />
<path d="M665.8,1163.5 L665.8,1174.3 A47.9,6.1 0 0 0 761.5,1174.3 L761.5,1163.5Z" fill="url(#gcapside)" />
<ellipse cx="713.6" cy="1163.5" rx="47.9" ry="6.1" fill="url(#gcaptop)"/>
<path d="M61.1,1186.6 L61.1,1272.8 A52.1,6.6 0 0 0 165.2,1272.8 L165.2,1186.6Z" fill="url(#gbody)" />
<path d="M61.1,1174.8 L61.1,1186.6 A52.1,6.6 0 0 0 165.2,1186.6 L165.2,1174.8Z" fill="url(#gcapside)" />
<ellipse cx="113.1" cy="1174.8" rx="52.1" ry="6.6" fill="url(#gcaptop)"/>
<path d="M212.8,1186.6 L212.8,1272.8 A52.1,6.6 0 0 0 317,1272.8 L317,1186.6Z" fill="url(#gbody)" />
<path d="M212.8,1174.8 L212.8,1186.6 A52.1,6.6 0 0 0 317,1186.6 L317,1174.8Z" fill="url(#gcapside)" />
<ellipse cx="264.9" cy="1174.8" rx="52.1" ry="6.6" fill="url(#gcaptop)"/>
<path d="M364.6,1186.6 L364.6,1272.8 A52.1,6.6 0 0 0 468.7,1272.8 L468.7,1186.6Z" fill="url(#gbody)" />
<path d="M364.6,1174.8 L364.6,1186.6 A52.1,6.6 0 0 0 468.7,1186.6 L468.7,1174.8Z" fill="url(#gcapside)" />
<ellipse cx="416.6" cy="1174.8" rx="52.1" ry="6.6" fill="url(#gcaptop)"/>
<path d="M516.3,1186.6 L516.3,1272.8 A52.1,6.6 0 0 0 620.4,1272.8 L620.4,1186.6Z" fill="url(#gbody)" />
<path d="M516.3,1174.8 L516.3,1186.6 A52.1,6.6 0 0 0 620.4,1186.6 L620.4,1174.8Z" fill="url(#gcapside)" />
<ellipse cx="568.4" cy="1174.8" rx="52.1" ry="6.6" fill="url(#gcaptop)"/>
<path d="M668,1186.6 L668,1272.8 A52.1,6.6 0 0 0 772.2,1272.8 L772.2,1186.6Z" fill="url(#gbody)" />
<path d="M668,1174.8 L668,1186.6 A52.1,6.6 0 0 0 772.2,1186.6 L772.2,1174.8Z" fill="url(#gcapside)" />
<ellipse cx="720.1" cy="1174.8" rx="52.1" ry="6.6" fill="url(#gcaptop)"/>
<path d="M5.1,1201.3 L5.1,1295.8 A57.1,7.2 0 0 0 119.3,1295.8 L119.3,1201.3Z" fill="url(#gbody)" />
<path d="M5.1,1188.3 L5.1,1201.3 A57.1,7.2 0 0 0 119.3,1201.3 L119.3,1188.3Z" fill="url(#gcapside)" />
<ellipse cx="62.2" cy="1188.3" rx="57.1" ry="7.2" fill="url(#gcaptop)"/>
<path d="M171.5,1201.3 L171.5,1295.8 A57.1,7.2 0 0 0 285.7,1295.8 L285.7,1201.3Z" fill="url(#gbody)" />
<path d="M171.5,1188.3 L171.5,1201.3 A57.1,7.2 0 0 0 285.7,1201.3 L285.7,1188.3Z" fill="url(#gcapside)" />
<ellipse cx="228.6" cy="1188.3" rx="57.1" ry="7.2" fill="url(#gcaptop)"/>
<path d="M337.9,1201.3 L337.9,1295.8 A57.1,7.2 0 0 0 452.1,1295.8 L452.1,1201.3Z" fill="url(#gbody)" />
<path d="M337.9,1188.3 L337.9,1201.3 A57.1,7.2 0 0 0 452.1,1201.3 L452.1,1188.3Z" fill="url(#gcapside)" />
<ellipse cx="395" cy="1188.3" rx="57.1" ry="7.2" fill="url(#gcaptop)"/>
<path d="M504.3,1201.3 L504.3,1295.8 A57.1,7.2 0 0 0 618.6,1295.8 L618.6,1201.3Z" fill="url(#gbody)" />
<path d="M504.3,1188.3 L504.3,1201.3 A57.1,7.2 0 0 0 618.6,1201.3 L618.6,1188.3Z" fill="url(#gcapside)" />
<ellipse cx="561.4" cy="1188.3" rx="57.1" ry="7.2" fill="url(#gcaptop)"/>
<path d="M670.7,1201.3 L670.7,1295.8 A57.1,7.2 0 0 0 785,1295.8 L785,1201.3Z" fill="url(#gbody)" />
<path d="M670.7,1188.3 L670.7,1201.3 A57.1,7.2 0 0 0 785,1201.3 L785,1188.3Z" fill="url(#gcapside)" />
<ellipse cx="727.9" cy="1188.3" rx="57.1" ry="7.2" fill="url(#gcaptop)"/>
<path d="M-62.8,1219 L-62.8,1323.7 A63.2,8 0 0 0 63.6,1323.7 L63.6,1219Z" fill="url(#gbody)" />
<path d="M-62.8,1204.7 L-62.8,1219 A63.2,8 0 0 0 63.6,1219 L63.6,1204.7Z" fill="url(#gcapside)" />
<ellipse cx="0.4" cy="1204.7" rx="63.2" ry="8" fill="url(#gcaptop)"/>
<path d="M121.4,1219 L121.4,1323.7 A63.2,8 0 0 0 247.8,1323.7 L247.8,1219Z" fill="url(#gbody)" />
<path d="M121.4,1204.7 L121.4,1219 A63.2,8 0 0 0 247.8,1219 L247.8,1204.7Z" fill="url(#gcapside)" />
<ellipse cx="184.6" cy="1204.7" rx="63.2" ry="8" fill="url(#gcaptop)"/>
<path d="M305.6,1219 L305.6,1323.7 A63.2,8 0 0 0 432,1323.7 L432,1219Z" fill="url(#gbody)" />
<path d="M305.6,1204.7 L305.6,1219 A63.2,8 0 0 0 432,1219 L432,1204.7Z" fill="url(#gcapside)" />
<ellipse cx="368.8" cy="1204.7" rx="63.2" ry="8" fill="url(#gcaptop)"/>
<path d="M489.8,1219 L489.8,1323.7 A63.2,8 0 0 0 616.3,1323.7 L616.3,1219Z" fill="url(#gbody)" />
<path d="M489.8,1204.7 L489.8,1219 A63.2,8 0 0 0 616.3,1219 L616.3,1204.7Z" fill="url(#gcapside)" />
<ellipse cx="553" cy="1204.7" rx="63.2" ry="8" fill="url(#gcaptop)"/>
<path d="M674,1219 L674,1323.7 A63.2,8 0 0 0 800.5,1323.7 L800.5,1219Z" fill="url(#gbody)" />
<path d="M674,1204.7 L674,1219 A63.2,8 0 0 0 800.5,1219 L800.5,1204.7Z" fill="url(#gcapside)" />
<ellipse cx="737.3" cy="1204.7" rx="63.2" ry="8" fill="url(#gcaptop)"/>
<path d="M59.3,1241.1 L59.3,1358.3 A70.8,9 0 0 0 200.9,1358.3 L200.9,1241.1Z" fill="url(#gbody)" />
<path d="M59.3,1225.1 L59.3,1241.1 A70.8,9 0 0 0 200.9,1241.1 L200.9,1225.1Z" fill="url(#gcapside)" />
<ellipse cx="130.1" cy="1225.1" rx="70.8" ry="9" fill="url(#gcaptop)"/>
<path d="M265.6,1241.1 L265.6,1358.3 A70.8,9 0 0 0 407.1,1358.3 L407.1,1241.1Z" fill="url(#gbody)" />
<path d="M265.6,1225.1 L265.6,1241.1 A70.8,9 0 0 0 407.1,1241.1 L407.1,1225.1Z" fill="url(#gcapside)" />
<ellipse cx="336.3" cy="1225.1" rx="70.8" ry="9" fill="url(#gcaptop)"/>
<path d="M471.8,1241.1 L471.8,1358.3 A70.8,9 0 0 0 613.4,1358.3 L613.4,1241.1Z" fill="url(#gbody2)" />
<path d="M471.8,1225.1 L471.8,1241.1 A70.8,9 0 0 0 613.4,1241.1 L613.4,1225.1Z" fill="url(#gcapside)" />
<ellipse cx="542.6" cy="1225.1" rx="70.8" ry="9" fill="url(#gcaptop)"/>
<path d="M678.1,1241.1 L678.1,1358.3 A70.8,9 0 0 0 819.7,1358.3 L819.7,1241.1Z" fill="url(#gbody2)" />
<path d="M678.1,1225.1 L678.1,1241.1 A70.8,9 0 0 0 819.7,1241.1 L819.7,1225.1Z" fill="url(#gcapside)" />
<ellipse cx="748.9" cy="1225.1" rx="70.8" ry="9" fill="url(#gcaptop)"/>
<path d="M-19.8,1269.1 L-19.8,1402.3 A80.4,10.2 0 0 0 141.1,1402.3 L141.1,1269.1Z" fill="url(#gbody)" />
<path d="M-19.8,1250.9 L-19.8,1269.1 A80.4,10.2 0 0 0 141.1,1269.1 L141.1,1250.9Z" fill="url(#gcapside)" />
<ellipse cx="60.7" cy="1250.9" rx="80.4" ry="10.2" fill="url(#gcaptop)"/>
<path d="M214.6,1269.1 L214.6,1402.3 A80.4,10.2 0 0 0 375.4,1402.3 L375.4,1269.1Z" fill="url(#gbody)" />
<path d="M214.6,1250.9 L214.6,1269.1 A80.4,10.2 0 0 0 375.4,1269.1 L375.4,1250.9Z" fill="url(#gcapside)" />
<ellipse cx="295" cy="1250.9" rx="80.4" ry="10.2" fill="url(#gcaptop)"/>
<path d="M449,1269.1 L449,1402.3 A80.4,10.2 0 0 0 609.8,1402.3 L609.8,1269.1Z" fill="url(#gbody2)" />
<path d="M449,1250.9 L449,1269.1 A80.4,10.2 0 0 0 609.8,1269.1 L609.8,1250.9Z" fill="url(#gcapside)" />
<ellipse cx="529.4" cy="1250.9" rx="80.4" ry="10.2" fill="url(#gcaptop)"/>
<path d="M683.3,1269.1 L683.3,1402.3 A80.4,10.2 0 0 0 844.1,1402.3 L844.1,1269.1Z" fill="url(#gbody2)" />
<path d="M683.3,1250.9 L683.3,1269.1 A80.4,10.2 0 0 0 844.1,1269.1 L844.1,1250.9Z" fill="url(#gcapside)" />
<ellipse cx="763.7" cy="1250.9" rx="80.4" ry="10.2" fill="url(#gcaptop)"/>
<path d="M-123.7,1306 L-123.7,1460.2 A93.1,11.8 0 0 0 62.5,1460.2 L62.5,1306Z" fill="url(#gbody2)" />
<path d="M-123.7,1285 L-123.7,1306 A93.1,11.8 0 0 0 62.5,1306 L62.5,1285Z" fill="url(#gcapside)" />
<ellipse cx="-30.6" cy="1285" rx="93.1" ry="11.8" fill="url(#gcaptop)"/>
<path d="M147.6,1306 L147.6,1460.2 A93.1,11.8 0 0 0 333.8,1460.2 L333.8,1306Z" fill="url(#gbody2)" />
<path d="M147.6,1285 L147.6,1306 A93.1,11.8 0 0 0 333.8,1306 L333.8,1285Z" fill="url(#gcapside)" />
<ellipse cx="240.7" cy="1285" rx="93.1" ry="11.8" fill="url(#gcaptop)"/>
<path d="M418.9,1306 L418.9,1460.2 A93.1,11.8 0 0 0 605,1460.2 L605,1306Z" fill="url(#gbody2)" />
<path d="M418.9,1285 L418.9,1306 A93.1,11.8 0 0 0 605,1306 L605,1285Z" fill="url(#gcapside)" />
<ellipse cx="511.9" cy="1285" rx="93.1" ry="11.8" fill="url(#gcaptop)"/>
<path d="M690.1,1306 L690.1,1460.2 A93.1,11.8 0 0 0 876.3,1460.2 L876.3,1306Z" fill="url(#gbody2)" />
<path d="M690.1,1285 L690.1,1306 A93.1,11.8 0 0 0 876.3,1306 L876.3,1285Z" fill="url(#gcapside)" />
<ellipse cx="783.2" cy="1285" rx="93.1" ry="11.8" fill="url(#gcaptop)"/>
<path d="M618,1129 L668,1129 L730,1600 L560,1600Z" fill="#ff9a8a" filter="url(#gbl2)" opacity="0.55"/>
<path d="M626,1129 L659.5,1129 L699,1600 L597,1600Z" fill="url(#gbeam)" filter="url(#gbl3)"/>
<path d="M380,1290 L920,1290 L920,1600 L380,1600Z" fill="#ff9080" filter="url(#gbl2)" opacity="0.28"/>
<rect x="44.8" y="1500" width="965.2" height="60" fill="#f59a88" opacity="0.0"/>
<path d="M905,1406 L1010,1553 L1010,1560 L905,1560Z" fill="#f3907e" />
<rect x="44.8" y="1596" width="965.2" height="167.5" fill="url(#gsi)" />
<rect x="1010" y="1553" width="26" height="210" fill="#0c0606" opacity="0.85"/>
<rect x="44.8" y="1763.5" width="1159.9" height="50" fill="#171312" />
<path d="M44.8,1763.5 L1010,1763.5 L1040,1757 L1204,1757 L1204,1775 L44.8,1782Z" fill="#0d0a0a" opacity="0.8"/>
<rect x="44.8" y="1556" width="11.2" height="40" fill="#e05240" />
<rect x="42.8" y="1552" width="15.2" height="7" fill="#ffd23c" filter="url(#gbl0)"/>
<rect x="44.8" y="1553.5" width="11.2" height="3.2" fill="#fff3a0" filter="url(#gbl3)"/>
<rect x="276" y="1556" width="102.5" height="40" fill="#e05240" />
<rect x="274" y="1552" width="106.5" height="7" fill="#ffd23c" filter="url(#gbl0)"/>
<rect x="276" y="1553.5" width="102.5" height="3.2" fill="#fff3a0" filter="url(#gbl3)"/>
<rect x="596" y="1556" width="103.5" height="40" fill="#e05240" />
<rect x="594" y="1552" width="107.5" height="7" fill="#ffd23c" filter="url(#gbl0)"/>
<rect x="596" y="1553.5" width="103.5" height="3.2" fill="#fff3a0" filter="url(#gbl3)"/>
<rect x="912.5" y="1556" width="97.5" height="40" fill="#e05240" />
<rect x="910.5" y="1552" width="101.5" height="7" fill="#ffd23c" filter="url(#gbl0)"/>
<rect x="912.5" y="1553.5" width="97.5" height="3.2" fill="#fff3a0" filter="url(#gbl3)"/>
<rect x="276" y="1500" width="102.5" height="53" fill="#fbb4a0" opacity="0.55" filter="url(#gbl0)"/>
<rect x="596" y="1500" width="103.5" height="53" fill="#fbb4a0" opacity="0.55" filter="url(#gbl0)"/>
<path d="M55,1341 A110.5,23 0 0 1 276,1341 Z" fill="#f0887a"/>
<rect x="55" y="1340" width="221" height="256" fill="url(#gface)" />
<rect x="55" y="1362" width="221" height="234" fill="url(#gfaceh)" />
<clipPath id="gfc55"><rect x="55" y="1340" width="221" height="256"/></clipPath><g clip-path="url(#gfc55)">
<ellipse cx="100.5" cy="1468" rx="46" ry="112" fill="url(#gglow)"/>
<ellipse cx="100.5" cy="1368" rx="46" ry="15" fill="#ffb428" filter="url(#gbl1)" opacity="0.95"/>
<ellipse cx="100.5" cy="1367.5" rx="34" ry="6" fill="#fff08a" filter="url(#gbl0)"/>
<ellipse cx="230.5" cy="1468" rx="46" ry="112" fill="url(#gglow)"/>
<ellipse cx="230.5" cy="1368" rx="46" ry="15" fill="#ffb428" filter="url(#gbl1)" opacity="0.95"/>
<ellipse cx="230.5" cy="1367.5" rx="34" ry="6" fill="#fff08a" filter="url(#gbl0)"/>
</g>
<path d="M378.5,1341 A108.8,23 0 0 1 596,1341 Z" fill="#f0887a"/>
<rect x="378.5" y="1340" width="217.5" height="256" fill="url(#gface)" />
<rect x="378.5" y="1362" width="217.5" height="234" fill="url(#gfaceh)" />
<clipPath id="gfc378"><rect x="378.5" y="1340" width="217.5" height="256"/></clipPath><g clip-path="url(#gfc378)">
<ellipse cx="422.2" cy="1468" rx="46" ry="112" fill="url(#gglow)"/>
<ellipse cx="422.2" cy="1368" rx="46" ry="15" fill="#ffb428" filter="url(#gbl1)" opacity="0.95"/>
<ellipse cx="422.2" cy="1367.5" rx="34" ry="6" fill="#fff08a" filter="url(#gbl0)"/>
<ellipse cx="552.2" cy="1468" rx="46" ry="112" fill="url(#gglow)"/>
<ellipse cx="552.2" cy="1368" rx="46" ry="15" fill="#ffb428" filter="url(#gbl1)" opacity="0.95"/>
<ellipse cx="552.2" cy="1367.5" rx="34" ry="6" fill="#fff08a" filter="url(#gbl0)"/>
</g>
<path d="M699.5,1341 A106.5,23 0 0 1 912.5,1341 Z" fill="#f0887a"/>
<rect x="699.5" y="1340" width="213" height="256" fill="url(#gface)" />
<rect x="699.5" y="1362" width="213" height="234" fill="url(#gfaceh)" />
<clipPath id="gfc699"><rect x="699.5" y="1340" width="213" height="256"/></clipPath><g clip-path="url(#gfc699)">
<ellipse cx="741" cy="1468" rx="46" ry="112" fill="url(#gglow)"/>
<ellipse cx="741" cy="1368" rx="46" ry="15" fill="#ffb428" filter="url(#gbl1)" opacity="0.95"/>
<ellipse cx="741" cy="1367.5" rx="34" ry="6" fill="#fff08a" filter="url(#gbl0)"/>
<ellipse cx="871" cy="1468" rx="46" ry="112" fill="url(#gglow)"/>
<ellipse cx="871" cy="1368" rx="46" ry="15" fill="#ffb428" filter="url(#gbl1)" opacity="0.95"/>
<ellipse cx="871" cy="1367.5" rx="34" ry="6" fill="#fff08a" filter="url(#gbl0)"/>
</g>
<circle cx="104.5" cy="1446.7" r="13.6" fill="#1a7aac" stroke="#8fd6ee" stroke-width="1.6" />
<line x1="98" y1="1446.7" x2="111" y2="1446.7" stroke="#fff" stroke-width="2.6" />
<circle cx="234.5" cy="1446.7" r="13.6" fill="#1a7aac" stroke="#8fd6ee" stroke-width="1.6" />
<line x1="228" y1="1446.7" x2="241" y2="1446.7" stroke="#fff" stroke-width="2.6" />
<circle cx="425" cy="1448.8" r="13.6" fill="#1a7aac" stroke="#8fd6ee" stroke-width="1.6" />
<line x1="418.5" y1="1448.8" x2="431.5" y2="1448.8" stroke="#fff" stroke-width="2.6" />
<circle cx="554.4" cy="1451.7" r="13.6" fill="#1a7aac" stroke="#8fd6ee" stroke-width="1.6" />
<line x1="547.9" y1="1451.7" x2="560.9" y2="1451.7" stroke="#fff" stroke-width="2.6" />
<circle cx="744.8" cy="1451.7" r="13.6" fill="#1a7aac" stroke="#8fd6ee" stroke-width="1.6" />
<line x1="738.3" y1="1451.7" x2="751.3" y2="1451.7" stroke="#fff" stroke-width="2.6" />
<circle cx="868.5" cy="1451.7" r="13.6" fill="#1a7aac" stroke="#8fd6ee" stroke-width="1.6" />
<line x1="862" y1="1451.7" x2="875" y2="1451.7" stroke="#fff" stroke-width="2.6" />
<circle cx="104.5" cy="1493" r="13.6" fill="#e8424a" stroke="#ffb4b0" stroke-width="1.6" />
<line x1="98" y1="1493" x2="111" y2="1493" stroke="#fff" stroke-width="2.6" />
<line x1="104.5" y1="1486.5" x2="104.5" y2="1499.5" stroke="#fff" stroke-width="2.6" />
<circle cx="234.5" cy="1494" r="13.6" fill="#e8424a" stroke="#ffb4b0" stroke-width="1.6" />
<line x1="228" y1="1494" x2="241" y2="1494" stroke="#fff" stroke-width="2.6" />
<line x1="234.5" y1="1487.5" x2="234.5" y2="1500.5" stroke="#fff" stroke-width="2.6" />
<circle cx="425" cy="1494.5" r="13.6" fill="#e8424a" stroke="#ffb4b0" stroke-width="1.6" />
<line x1="418.5" y1="1494.5" x2="431.5" y2="1494.5" stroke="#fff" stroke-width="2.6" />
<line x1="425" y1="1488" x2="425" y2="1501" stroke="#fff" stroke-width="2.6" />
<circle cx="554.4" cy="1497.5" r="13.6" fill="#e8424a" stroke="#ffb4b0" stroke-width="1.6" />
<line x1="547.9" y1="1497.5" x2="560.9" y2="1497.5" stroke="#fff" stroke-width="2.6" />
<line x1="554.4" y1="1491" x2="554.4" y2="1504" stroke="#fff" stroke-width="2.6" />
<circle cx="744.8" cy="1497.5" r="13.6" fill="#e8424a" stroke="#ffb4b0" stroke-width="1.6" />
<line x1="738.3" y1="1497.5" x2="751.3" y2="1497.5" stroke="#fff" stroke-width="2.6" />
<line x1="744.8" y1="1491" x2="744.8" y2="1504" stroke="#fff" stroke-width="2.6" />
<circle cx="868.5" cy="1497.5" r="13.6" fill="#e8424a" stroke="#ffb4b0" stroke-width="1.6" />
<line x1="862" y1="1497.5" x2="875" y2="1497.5" stroke="#fff" stroke-width="2.6" />
<line x1="868.5" y1="1491" x2="868.5" y2="1504" stroke="#fff" stroke-width="2.6" />
<circle cx="823" cy="1561.8" r="13.6" fill="#1a7aac" stroke="#8fd6ee" stroke-width="1.6" />
<line x1="816.5" y1="1561.8" x2="829.5" y2="1561.8" stroke="#fff" stroke-width="2.6" />
<circle cx="823" cy="1637" r="13.6" fill="#e8424a" stroke="#ffb4b0" stroke-width="1.6" />
<line x1="816.5" y1="1637" x2="829.5" y2="1637" stroke="#fff" stroke-width="2.6" />
<line x1="823" y1="1630.5" x2="823" y2="1643.5" stroke="#fff" stroke-width="2.6" />
<circle cx="927.5" cy="1578" r="12" fill="#1a7aac" stroke="#8fd6ee" stroke-width="1.6" />
<line x1="921" y1="1578" x2="934" y2="1578" stroke="#fff" stroke-width="2.6" />
<circle cx="927.5" cy="1624.4" r="12" fill="#e8424a" stroke="#ffb4b0" stroke-width="1.6" />
<line x1="921" y1="1624.4" x2="934" y2="1624.4" stroke="#fff" stroke-width="2.6" />
<line x1="927.5" y1="1617.9" x2="927.5" y2="1630.9" stroke="#fff" stroke-width="2.6" />
<circle cx="964.5" cy="1578" r="12" fill="#1a7aac" stroke="#8fd6ee" stroke-width="1.6" />
<line x1="958" y1="1578" x2="971" y2="1578" stroke="#fff" stroke-width="2.6" />
<circle cx="964.5" cy="1624.4" r="12" fill="#e8424a" stroke="#ffb4b0" stroke-width="1.6" />
<line x1="958" y1="1624.4" x2="971" y2="1624.4" stroke="#fff" stroke-width="2.6" />
<line x1="964.5" y1="1617.9" x2="964.5" y2="1630.9" stroke="#fff" stroke-width="2.6" />
<circle cx="1000.7" cy="1578" r="12" fill="#1a7aac" stroke="#8fd6ee" stroke-width="1.6" />
<line x1="994.2" y1="1578" x2="1007.2" y2="1578" stroke="#fff" stroke-width="2.6" />
<circle cx="1000.7" cy="1624.4" r="12" fill="#e8424a" stroke="#ffb4b0" stroke-width="1.6" />
<line x1="994.2" y1="1624.4" x2="1007.2" y2="1624.4" stroke="#fff" stroke-width="2.6" />
<line x1="1000.7" y1="1617.9" x2="1000.7" y2="1630.9" stroke="#fff" stroke-width="2.6" />
<path d="M757,1532 C770,1560 780,1590 812,1595" fill="none" stroke="#ffe030" stroke-width="2" marker-end="url(#garry)"/>
<path d="M842,1553 C855,1518 895,1518 911,1556" fill="none" stroke="#1a7aac" stroke-width="2" marker-end="url(#garrb)"/>
<path d="M838.7,1652 C850,1692 905,1696 921,1652" fill="none" stroke="#e8424a" stroke-width="2" marker-end="url(#garrr)"/>
<path d="M970,1515.6 L1100,1515.6 L1100,1697.6 L988,1697.6" fill="none" stroke="#fff" stroke-width="2.4" />
<path d="M1052,1697.6 L1052,1717 M1034,1718 L1073,1718 M1041,1729 L1066,1729 M1048,1738.5 L1059,1738.5" fill="none" stroke="#fff" stroke-width="2.4" />
<circle cx="1100" cy="1606.6" r="36" fill="url(#gvglow)" />
<text x="1100" y="1615.5" font-size="25" text-anchor="middle" font-weight="bold" fill="#2a2410" >V</text>
<path d="M582,1151 L607.5,1151 L607.5,1243 L623.5,1243 L593,1277 L562.5,1243 L582,1243Z" fill="#fff" />
<text x="637.5" y="1214.3" font-size="25.6" font-weight="bold" fill="#fff" >Light</text>
<text x="474.8" y="1365" font-size="26" font-weight="bold" fill="#fff" >Al</text>
<text x="634.7" y="1588.8" font-size="26" font-weight="bold" fill="#fff" >Al</text>
<text x="477.6" y="1704.7" font-size="25" font-weight="bold" fill="#fff" ><tspan font-style="italic">p</tspan>-Si</text>
</g>
<text x="10.7" y="1130" font-size="54" >(g)</text></g>
<g id="panel_h"><path d="M1384.3,1268.5 C1384.9,1276.7 1386.8,1302.2 1388,1317.8 C1389.3,1333.4 1390.3,1345.7 1391.8,1362.1 C1393.2,1378.6 1395.1,1400 1396.8,1416.4 C1398.4,1432.8 1400.1,1448.4 1401.8,1460.8 C1403.4,1473.1 1404.9,1481.6 1406.7,1490.4 C1408.6,1499.1 1410.5,1506 1413,1513 C1415.5,1520.1 1419,1526.5 1421.7,1532.8 C1424.4,1539 1426.9,1546.1 1429.2,1550.5 C1431.5,1554.9 1433.5,1558.2 1435.4,1559.4 C1437.3,1560.5 1438.7,1558.4 1440.4,1557.4 C1442.1,1556.4 1443.5,1553.3 1445.4,1553.5 C1447.3,1553.6 1449.3,1556.4 1451.6,1558.4 C1453.9,1560.4 1456.6,1562.8 1459.1,1565.3 C1461.6,1567.8 1464.1,1570.4 1466.6,1573.2 C1469.1,1576 1471.6,1579.8 1474.1,1582.1 C1476.6,1584.4 1479.3,1586.3 1481.5,1587 C1483.8,1587.7 1485.7,1587.3 1487.8,1586 C1489.9,1584.7 1491.7,1582.4 1494,1579.1 C1496.3,1575.8 1499,1571.2 1501.5,1566.3 C1504,1561.4 1506.5,1555.1 1509,1549.5 C1511.5,1543.9 1514.2,1537 1516.5,1532.8 C1518.7,1528.5 1520.6,1525.9 1522.7,1523.9 C1524.8,1521.9 1527.1,1522.1 1528.9,1520.9 C1530.8,1519.8 1532.5,1519.3 1533.9,1517 C1535.4,1514.7 1536.4,1511.6 1537.7,1507.1 C1538.9,1502.7 1540.1,1498.1 1541.4,1490.4 C1542.6,1482.6 1543.9,1473.1 1545.1,1460.8 C1546.4,1448.4 1547.6,1432 1548.9,1416.4 C1550.1,1400.8 1551.4,1382.7 1552.6,1367.1 C1553.9,1351.5 1555.1,1335.5 1556.4,1322.7 C1557.6,1309.9 1558.8,1297.6 1560.1,1290.2 C1561.3,1282.8 1562.6,1279.8 1563.8,1278.3 C1565.1,1276.8 1566.3,1277.2 1567.6,1281.3 C1568.8,1285.4 1570.1,1293.6 1571.3,1303 C1572.6,1312.3 1573.8,1325.2 1575.1,1337.5 C1576.3,1349.8 1577.3,1362.1 1578.8,1376.9 C1580.2,1391.7 1582.1,1409.8 1583.8,1426.2 C1585.4,1442.7 1587.1,1460.8 1588.8,1475.6 C1590.4,1490.4 1591.9,1502.7 1593.8,1515 C1595.6,1527.3 1597.9,1539.7 1600,1549.5 C1602.1,1559.4 1603.9,1566.5 1606.2,1574.2 C1608.5,1581.9 1611.2,1589.6 1613.7,1595.9 C1616.2,1602.1 1618.5,1606.9 1621.2,1611.7 C1623.9,1616.4 1626.8,1620.7 1629.9,1624.5 C1633,1628.3 1636.1,1631.2 1639.9,1634.3 C1643.6,1637.5 1647.2,1640.6 1652.4,1643.2 C1657.5,1645.8 1663.8,1648 1671.1,1650.1 C1678.3,1652.3 1685.6,1654.4 1696,1656 C1706.4,1657.7 1718.8,1659 1733.4,1660 C1747.9,1661 1768.7,1661.5 1783.3,1662 C1797.8,1662.4 1809.2,1662.3 1820.7,1662.9 C1832.1,1663.6 1841.4,1665.1 1851.8,1665.9 C1862.2,1666.7 1877.8,1667.5 1883,1667.9" fill="none" stroke="#000" stroke-width="5.5" stroke-linejoin="round" stroke-linecap="round"/>
<rect x="1384.3" y="1179.7" width="498.7" height="493.1" fill="none" stroke="#000" stroke-width="4" />
<text x="1375" y="1681.8" font-size="25.5" text-anchor="end" font-weight="bold" letter-spacing="1">0</text>
<line x1="1384.3" y1="1574.2" x2="1390.3" y2="1574.2" stroke="#333" stroke-width="1.2" />
<line x1="1883" y1="1574.2" x2="1877" y2="1574.2" stroke="#333" stroke-width="1.2" />
<text x="1375" y="1583.2" font-size="25.5" text-anchor="end" font-weight="bold" letter-spacing="1">0.1</text>
<line x1="1384.3" y1="1475.6" x2="1390.3" y2="1475.6" stroke="#333" stroke-width="1.2" />
<line x1="1883" y1="1475.6" x2="1877" y2="1475.6" stroke="#333" stroke-width="1.2" />
<text x="1375" y="1484.6" font-size="25.5" text-anchor="end" font-weight="bold" letter-spacing="1">0.2</text>
<line x1="1384.3" y1="1376.9" x2="1390.3" y2="1376.9" stroke="#333" stroke-width="1.2" />
<line x1="1883" y1="1376.9" x2="1877" y2="1376.9" stroke="#333" stroke-width="1.2" />
<text x="1375" y="1385.9" font-size="25.5" text-anchor="end" font-weight="bold" letter-spacing="1">0.3</text>
<line x1="1384.3" y1="1278.3" x2="1390.3" y2="1278.3" stroke="#333" stroke-width="1.2" />
<line x1="1883" y1="1278.3" x2="1877" y2="1278.3" stroke="#333" stroke-width="1.2" />
<text x="1375" y="1287.3" font-size="25.5" text-anchor="end" font-weight="bold" letter-spacing="1">0.4</text>
<text x="1375" y="1188.7" font-size="25.5" text-anchor="end" font-weight="bold" letter-spacing="1">0.5</text>
<line x1="1446.6" y1="1672.8" x2="1446.6" y2="1666.8" stroke="#333" stroke-width="1.2" />
<line x1="1446.6" y1="1179.7" x2="1446.6" y2="1185.7" stroke="#333" stroke-width="1.2" />
<line x1="1509" y1="1672.8" x2="1509" y2="1666.8" stroke="#333" stroke-width="1.2" />
<line x1="1509" y1="1179.7" x2="1509" y2="1185.7" stroke="#333" stroke-width="1.2" />
<line x1="1571.3" y1="1672.8" x2="1571.3" y2="1666.8" stroke="#333" stroke-width="1.2" />
<line x1="1571.3" y1="1179.7" x2="1571.3" y2="1185.7" stroke="#333" stroke-width="1.2" />
<line x1="1633.7" y1="1672.8" x2="1633.7" y2="1666.8" stroke="#333" stroke-width="1.2" />
<line x1="1633.7" y1="1179.7" x2="1633.7" y2="1185.7" stroke="#333" stroke-width="1.2" />
<line x1="1696" y1="1672.8" x2="1696" y2="1666.8" stroke="#333" stroke-width="1.2" />
<line x1="1696" y1="1179.7" x2="1696" y2="1185.7" stroke="#333" stroke-width="1.2" />
<line x1="1758.3" y1="1672.8" x2="1758.3" y2="1666.8" stroke="#333" stroke-width="1.2" />
<line x1="1758.3" y1="1179.7" x2="1758.3" y2="1185.7" stroke="#333" stroke-width="1.2" />
<line x1="1820.7" y1="1672.8" x2="1820.7" y2="1666.8" stroke="#333" stroke-width="1.2" />
<line x1="1820.7" y1="1179.7" x2="1820.7" y2="1185.7" stroke="#333" stroke-width="1.2" />
<text x="1384.3" y="1715" font-size="25.5" text-anchor="middle" font-weight="bold" letter-spacing="2.2">400</text>
<text x="1509" y="1715" font-size="25.5" text-anchor="middle" font-weight="bold" letter-spacing="2.2">500</text>
<text x="1633.7" y="1715" font-size="25.5" text-anchor="middle" font-weight="bold" letter-spacing="2.2">600</text>
<text x="1758.3" y="1715" font-size="25.5" text-anchor="middle" font-weight="bold" letter-spacing="2.2">700</text>
<text x="1883" y="1715" font-size="25.5" text-anchor="middle" font-weight="bold" letter-spacing="2.2">800</text>
<text x="1635.5" y="1757" font-size="24.5" text-anchor="middle" font-weight="bold" >λ (nm)</text>
<text x="1309" y="1427" font-size="23.5" text-anchor="middle" font-weight="bold" transform="rotate(-90 1309 1427)" letter-spacing="1.1">Absorptance</text>
<text x="1400.5" y="1229" font-size="34" >Nanodisk diameter <tspan font-style="italic">D</tspan> = 120 nm</text>
<text x="1239" y="1148" font-size="54" >(h)</text></g>
<g id="panel_i"><defs><filter id="iblur" x="-10%" y="-10%" width="120%" height="120%"><feGaussianBlur stdDeviation="2.1"/></filter><clipPath id="iclip"><rect x="47" y="1872" width="255.7" height="486"/></clipPath></defs>
<rect x="47" y="1872" width="255.7" height="486" fill="#cacacd" />
<g clip-path="url(#iclip)"><g filter="url(#iblur)">
<rect x="111" y="1872" width="200" height="486" fill="#d2d4d5" />
<rect x="47.5" y="1871" width="63.5" height="66" fill="#cbcbcf" />
<rect x="47.5" y="1931.1" width="63.5" height="66" fill="#cccccf" />
<rect x="47.5" y="1991.2" width="63.5" height="66" fill="#cdcccf" />
<rect x="47.5" y="2051.3" width="63.5" height="66" fill="#cdccce" />
<rect x="47.5" y="2111.4" width="63.5" height="66" fill="#cecccd" />
<rect x="57.5" y="2179.5" width="51.5" height="50.5" fill="#cfccca" />
<rect x="57.5" y="2239.6" width="51.5" height="50.5" fill="#cdc8c5" />
<rect x="57.5" y="2299.7" width="51.5" height="50.5" fill="#cbc5c0" />
<rect x="119.3" y="1879" width="51.5" height="50.5" fill="#cdcac8" />
<rect x="119.3" y="1939.1" width="51.5" height="50.5" fill="#d2cec0" />
<rect x="119.3" y="1999.2" width="51.5" height="50.5" fill="#d0c8b3" />
<rect x="119.3" y="2059.3" width="51.5" height="50.5" fill="#cdbea1" />
<rect x="119.3" y="2119.4" width="51.5" height="50.5" fill="#c9ae8d" />
<rect x="119.3" y="2179.5" width="51.5" height="50.5" fill="#c89e7b" />
<rect x="119.3" y="2239.6" width="51.5" height="50.5" fill="#c3786b" />
<rect x="119.3" y="2299.7" width="51.5" height="50.5" fill="#b6566a" />
<rect x="181.8" y="1879" width="51.5" height="50.5" fill="#ad3f67" />
<rect x="181.8" y="1939.1" width="51.5" height="50.5" fill="#9b3a72" />
<rect x="181.8" y="1999.2" width="51.5" height="50.5" fill="#8a437d" />
<rect x="181.8" y="2059.3" width="51.5" height="50.5" fill="#7a4a88" />
<rect x="181.8" y="2119.4" width="51.5" height="50.5" fill="#6a5888" />
<rect x="181.8" y="2179.5" width="51.5" height="50.5" fill="#5f6684" />
<rect x="181.8" y="2239.6" width="51.5" height="50.5" fill="#5e7380" />
<rect x="181.8" y="2299.7" width="51.5" height="50.5" fill="#5e7d7b" />
<rect x="243.8" y="1879" width="55" height="50.5" fill="#688b7f" />
<rect x="243.8" y="1939.1" width="55" height="50.5" fill="#749a88" />
<rect x="243.8" y="1999.2" width="55" height="50.5" fill="#7e998b" />
<rect x="243.8" y="2059.3" width="55" height="50.5" fill="#899592" />
<rect x="243.8" y="2119.4" width="55" height="50.5" fill="#92939b" />
<rect x="243.8" y="2179.5" width="55" height="50.5" fill="#9b9ba2" />
<rect x="243.8" y="2239.6" width="55" height="50.5" fill="#a1a1a8" />
<rect x="243.8" y="2299.7" width="55" height="50.5" fill="#a5a5ab" />
</g></g>
<text x="79" y="1914" font-size="22.5" text-anchor="middle" fill="#1a1a1a" >1</text>
<text x="79" y="1973" font-size="22.5" text-anchor="middle" fill="#1a1a1a" >2</text>
<text x="79" y="2032.1" font-size="22.5" text-anchor="middle" fill="#1a1a1a" >3</text>
<text x="79" y="2091.1" font-size="22.5" text-anchor="middle" fill="#1a1a1a" >4</text>
<text x="79" y="2150.2" font-size="22.5" text-anchor="middle" fill="#1a1a1a" >5</text>
<text x="79" y="2209.2" font-size="22.5" text-anchor="middle" fill="#1a1a1a" >6</text>
<text x="79" y="2268.2" font-size="22.5" text-anchor="middle" fill="#1a1a1a" >7</text>
<text x="79" y="2327.3" font-size="22.5" text-anchor="middle" fill="#1a1a1a" >8</text>
<text x="142.5" y="1914" font-size="22.5" text-anchor="middle" fill="#1a1a1a" >9</text>
<text x="142.5" y="1973" font-size="22.5" text-anchor="middle" fill="#1a1a1a" >10</text>
<text x="142.5" y="2032.1" font-size="22.5" text-anchor="middle" fill="#1a1a1a" >11</text>
<text x="142.5" y="2091.1" font-size="22.5" text-anchor="middle" fill="#1a1a1a" >12</text>
<text x="142.5" y="2150.2" font-size="22.5" text-anchor="middle" fill="#1a1a1a" >13</text>
<text x="142.5" y="2209.2" font-size="22.5" text-anchor="middle" fill="#fff" >14</text>
<text x="142.5" y="2268.2" font-size="22.5" text-anchor="middle" fill="#fff" >15</text>
<text x="142.5" y="2327.3" font-size="22.5" text-anchor="middle" fill="#fff" >16</text>
<text x="204" y="1914" font-size="22.5" text-anchor="middle" fill="#fff" >17</text>
<text x="204" y="1973" font-size="22.5" text-anchor="middle" fill="#fff" >18</text>
<text x="204" y="2032.1" font-size="22.5" text-anchor="middle" fill="#fff" >19</text>
<text x="204" y="2091.1" font-size="22.5" text-anchor="middle" fill="#fff" >20</text>
<text x="204" y="2150.2" font-size="22.5" text-anchor="middle" fill="#fff" >21</text>
<text x="204" y="2209.2" font-size="22.5" text-anchor="middle" fill="#fff" >22</text>
<text x="204" y="2268.2" font-size="22.5" text-anchor="middle" fill="#fff" >23</text>
<text x="204" y="2327.3" font-size="22.5" text-anchor="middle" fill="#fff" >24</text>
<text x="271" y="1914" font-size="22.5" text-anchor="middle" fill="#1a1a1a" >25</text>
<text x="271" y="1973" font-size="22.5" text-anchor="middle" fill="#1a1a1a" >26</text>
<text x="271" y="2032.1" font-size="22.5" text-anchor="middle" fill="#1a1a1a" >27</text>
<text x="271" y="2091.1" font-size="22.5" text-anchor="middle" fill="#1a1a1a" >28</text>
<text x="271" y="2150.2" font-size="22.5" text-anchor="middle" fill="#1a1a1a" >29</text>
<text x="271" y="2209.2" font-size="22.5" text-anchor="middle" fill="#1a1a1a" >30</text>
<text x="271" y="2268.2" font-size="22.5" text-anchor="middle" fill="#1a1a1a" >31</text>
<text x="271" y="2327.3" font-size="22.5" text-anchor="middle" fill="#1a1a1a" >32</text>
<rect x="115" y="2378.3" width="52.6" height="7.6" fill="#000" />
<text x="188" y="2390.5" font-size="20.5" font-weight="bold" letter-spacing="0.6">10 µm</text>
<text x="82.5" y="1859.3" font-size="33.7" >Optical image</text>
<text x="6" y="1872" font-size="54" >(i)</text></g>
<g id="panel_j"><defs><clipPath id="jclipall"><rect x="330" y="1815" width="1635" height="590"/></clipPath></defs><g clip-path="url(#jclipall)">
<defs><clipPath id="jcBlue"><rect x="423.1" y="1879.5" width="347.6" height="452.8"/></clipPath></defs>
<g clip-path="url(#jcBlue)">
<path d="M425,2330.2 L461.9,2319.5 L488.1,2303.3 L511.9,2286.2 L532.1,2274.3 L542.9,2243.3 L554.8,2200.5 L564.3,2074.3 L575,1956.4 L588.1,1936.2 L597.6,1921.9 L607.1,1988.6 L619,2110 L641,2202.4 L661.9,2182.6 L683.3,2200.5 L704.8,2210 L727.4,2229 L748.8,2232.1 L770.2,2260" fill="none" stroke="#1616b0" stroke-width="2.3" stroke-linejoin="miter"/>
<circle cx="423.8" cy="2327.9" r="5.6" fill="#1212d6"/>
<circle cx="435.7" cy="2321.9" r="5.6" fill="#1212d6"/>
<circle cx="446.4" cy="2324.3" r="5.6" fill="#1212d6"/>
<circle cx="456.4" cy="2323.6" r="5.6" fill="#1212d6"/>
<circle cx="469" cy="2327.9" r="5.6" fill="#1212d6"/>
<circle cx="478.6" cy="2330.2" r="5.6" fill="#1212d6"/>
<circle cx="489.3" cy="2319.5" r="5.6" fill="#1212d6"/>
<circle cx="501.7" cy="2298.8" r="5.6" fill="#1212d6"/>
<circle cx="511.9" cy="2288.6" r="5.6" fill="#1212d6"/>
<circle cx="522.1" cy="2242.1" r="5.6" fill="#1212d6"/>
<circle cx="534.5" cy="2151" r="5.6" fill="#1212d6"/>
<circle cx="544.5" cy="2143.3" r="5.6" fill="#1212d6"/>
<circle cx="554.8" cy="2083.8" r="5.6" fill="#1212d6"/>
<circle cx="565" cy="2026" r="5.6" fill="#1212d6"/>
<circle cx="577.9" cy="1976.7" r="5.6" fill="#1212d6"/>
<circle cx="587.4" cy="1941.7" r="5.6" fill="#1212d6"/>
<circle cx="598.8" cy="1927.9" r="5.6" fill="#1212d6"/>
<circle cx="610.2" cy="1921.4" r="5.6" fill="#1212d6"/>
<circle cx="620.2" cy="2020" r="5.6" fill="#1212d6"/>
<circle cx="630.2" cy="2091.7" r="5.6" fill="#1212d6"/>
<circle cx="640.5" cy="2130.7" r="5.6" fill="#1212d6"/>
<circle cx="652.9" cy="2159.3" r="5.6" fill="#1212d6"/>
<circle cx="663.1" cy="2177.9" r="5.6" fill="#1212d6"/>
<circle cx="675.5" cy="2185.7" r="5.6" fill="#1212d6"/>
<circle cx="685.7" cy="2196.4" r="5.6" fill="#1212d6"/>
<circle cx="698.1" cy="2189.8" r="5.6" fill="#1212d6"/>
<circle cx="708.3" cy="2210.7" r="5.6" fill="#1212d6"/>
<circle cx="718.6" cy="2229.5" r="5.6" fill="#1212d6"/>
<circle cx="730.5" cy="2240" r="5.6" fill="#1212d6"/>
<circle cx="740.5" cy="2246.2" r="5.6" fill="#1212d6"/>
<circle cx="750.7" cy="2258.1" r="5.6" fill="#1212d6"/>
<circle cx="763.1" cy="2269" r="5.6" fill="#1212d6"/>
<circle cx="769.8" cy="2281.4" r="5.6" fill="#1212d6"/>
</g>
<rect x="423.1" y="1879.5" width="347.6" height="452.8" fill="none" stroke="#000" stroke-width="4.2" />
<line x1="466.6" y1="2330.3" x2="466.6" y2="2326.3" stroke="#222" stroke-width="1.2" />
<line x1="466.6" y1="1881.5" x2="466.6" y2="1885.5" stroke="#222" stroke-width="1.2" />
<line x1="510.2" y1="2330.3" x2="510.2" y2="2326.3" stroke="#222" stroke-width="1.2" />
<line x1="510.2" y1="1881.5" x2="510.2" y2="1885.5" stroke="#222" stroke-width="1.2" />
<line x1="553.7" y1="2330.3" x2="553.7" y2="2326.3" stroke="#222" stroke-width="1.2" />
<line x1="553.7" y1="1881.5" x2="553.7" y2="1885.5" stroke="#222" stroke-width="1.2" />
<line x1="597.3" y1="2330.3" x2="597.3" y2="2326.3" stroke="#222" stroke-width="1.2" />
<line x1="597.3" y1="1881.5" x2="597.3" y2="1885.5" stroke="#222" stroke-width="1.2" />
<line x1="640.8" y1="2330.3" x2="640.8" y2="2326.3" stroke="#222" stroke-width="1.2" />
<line x1="640.8" y1="1881.5" x2="640.8" y2="1885.5" stroke="#222" stroke-width="1.2" />
<line x1="684.4" y1="2330.3" x2="684.4" y2="2326.3" stroke="#222" stroke-width="1.2" />
<line x1="684.4" y1="1881.5" x2="684.4" y2="1885.5" stroke="#222" stroke-width="1.2" />
<line x1="727.9" y1="2330.3" x2="727.9" y2="2326.3" stroke="#222" stroke-width="1.2" />
<line x1="727.9" y1="1881.5" x2="727.9" y2="1885.5" stroke="#222" stroke-width="1.2" />
<line x1="425.1" y1="1921.4" x2="429.1" y2="1921.4" stroke="#222" stroke-width="1.2" />
<line x1="768.7" y1="1921.4" x2="764.7" y2="1921.4" stroke="#222" stroke-width="1.2" />
<line x1="425.1" y1="2003.6" x2="429.1" y2="2003.6" stroke="#222" stroke-width="1.2" />
<line x1="768.7" y1="2003.6" x2="764.7" y2="2003.6" stroke="#222" stroke-width="1.2" />
<line x1="425.1" y1="2085.7" x2="429.1" y2="2085.7" stroke="#222" stroke-width="1.2" />
<line x1="768.7" y1="2085.7" x2="764.7" y2="2085.7" stroke="#222" stroke-width="1.2" />
<line x1="425.1" y1="2167.9" x2="429.1" y2="2167.9" stroke="#222" stroke-width="1.2" />
<line x1="768.7" y1="2167.9" x2="764.7" y2="2167.9" stroke="#222" stroke-width="1.2" />
<line x1="425.1" y1="2250" x2="429.1" y2="2250" stroke="#222" stroke-width="1.2" />
<line x1="768.7" y1="2250" x2="764.7" y2="2250" stroke="#222" stroke-width="1.2" />
<text x="598" y="1849" font-size="23.5" text-anchor="middle" font-weight="bold" letter-spacing="0.8">Blue</text>
<text x="410" y="1930" font-size="25" text-anchor="end" font-weight="bold" >2.0</text>
<text x="410" y="2339" font-size="25" text-anchor="end" font-weight="bold" >0</text>
<text x="796.5" y="1930" font-size="25" font-weight="bold" >1.7</text>
<text x="805.5" y="2339" font-size="25" font-weight="bold" >0</text>
<text x="426.1" y="2367" font-size="25" text-anchor="middle" font-weight="bold" letter-spacing="1">10</text>
<text x="769.7" y="2367" font-size="25" text-anchor="middle" font-weight="bold" letter-spacing="1">200</text>
<text x="596.9" y="2388.5" font-size="24" text-anchor="middle" font-weight="bold" ><tspan font-style="italic">D</tspan> (nm)</text>
<text x="398.5" y="2125" font-size="24.5" text-anchor="middle" font-weight="bold" transform="rotate(-90 398.5 2125)" letter-spacing="1.3">Photocurrent (µA)</text>
<text x="825.5" y="2125" font-size="24.5" text-anchor="middle" font-weight="bold" transform="rotate(-90 825.5 2125)" letter-spacing="1.6">Quantum efficiency (%)</text>
<defs><clipPath id="jcGreen"><rect x="988.1" y="1879" width="349.3" height="452.6"/></clipPath></defs>
<g clip-path="url(#jcGreen)">
<path d="M988.1,2330.2 L1017.1,2324.3 L1032.6,2304 L1075.5,2268.8 L1096.9,2269 L1141,2197.6 L1185,1920.7 L1227.9,2148.1 L1249.8,2195.7 L1273.1,2182.6 L1293.3,2179 L1336.2,2268.3" fill="none" stroke="#3d6b2c" stroke-width="2.3" stroke-linejoin="miter"/>
<circle cx="990.5" cy="2326.7" r="5.6" fill="#3b7f2d"/>
<circle cx="999.3" cy="2325.5" r="5.6" fill="#3b7f2d"/>
<circle cx="1009.3" cy="2324.3" r="5.6" fill="#3b7f2d"/>
<circle cx="1019.5" cy="2325.5" r="5.6" fill="#3b7f2d"/>
<circle cx="1032.6" cy="2326.2" r="5.6" fill="#3b7f2d"/>
<circle cx="1042.1" cy="2326.2" r="5.6" fill="#3b7f2d"/>
<circle cx="1053.3" cy="2320.7" r="5.6" fill="#3b7f2d"/>
<circle cx="1066" cy="2302.1" r="5.6" fill="#3b7f2d"/>
<circle cx="1076.2" cy="2291.7" r="5.6" fill="#3b7f2d"/>
<circle cx="1086.7" cy="2260" r="5.6" fill="#3b7f2d"/>
<circle cx="1096.9" cy="2229" r="5.6" fill="#3b7f2d"/>
<circle cx="1107.6" cy="2189" r="5.6" fill="#3b7f2d"/>
<circle cx="1120" cy="2141" r="5.6" fill="#3b7f2d"/>
<circle cx="1130.2" cy="2086.7" r="5.6" fill="#3b7f2d"/>
<circle cx="1141" cy="2036.9" r="5.6" fill="#3b7f2d"/>
<circle cx="1153.3" cy="1991" r="5.6" fill="#3b7f2d"/>
<circle cx="1161.7" cy="1959.5" r="5.6" fill="#3b7f2d"/>
<circle cx="1174.3" cy="1930.2" r="5.6" fill="#3b7f2d"/>
<circle cx="1185" cy="1919.5" r="5.6" fill="#3b7f2d"/>
<circle cx="1195.2" cy="1949.3" r="5.6" fill="#3b7f2d"/>
<circle cx="1207.6" cy="2016" r="5.6" fill="#3b7f2d"/>
<circle cx="1218.3" cy="2091" r="5.6" fill="#3b7f2d"/>
<circle cx="1228.6" cy="2124.3" r="5.6" fill="#3b7f2d"/>
<circle cx="1239" cy="2136.7" r="5.6" fill="#3b7f2d"/>
<circle cx="1251.7" cy="2151.7" r="5.6" fill="#3b7f2d"/>
<circle cx="1261.9" cy="2167.9" r="5.6" fill="#3b7f2d"/>
<circle cx="1272.4" cy="2195.2" r="5.6" fill="#3b7f2d"/>
<circle cx="1282.6" cy="2217.9" r="5.6" fill="#3b7f2d"/>
<circle cx="1293.3" cy="2236.9" r="5.6" fill="#3b7f2d"/>
<circle cx="1305.2" cy="2241.4" r="5.6" fill="#3b7f2d"/>
<circle cx="1316" cy="2245.2" r="5.6" fill="#3b7f2d"/>
<circle cx="1326.2" cy="2256" r="5.6" fill="#3b7f2d"/>
<circle cx="1335.7" cy="2266" r="5.6" fill="#3b7f2d"/>
</g>
<rect x="988.1" y="1879" width="349.3" height="452.6" fill="none" stroke="#000" stroke-width="4.2" />
<line x1="1031.9" y1="2329.6" x2="1031.9" y2="2325.6" stroke="#222" stroke-width="1.2" />
<line x1="1031.9" y1="1881" x2="1031.9" y2="1885" stroke="#222" stroke-width="1.2" />
<line x1="1075.6" y1="2329.6" x2="1075.6" y2="2325.6" stroke="#222" stroke-width="1.2" />
<line x1="1075.6" y1="1881" x2="1075.6" y2="1885" stroke="#222" stroke-width="1.2" />
<line x1="1119.4" y1="2329.6" x2="1119.4" y2="2325.6" stroke="#222" stroke-width="1.2" />
<line x1="1119.4" y1="1881" x2="1119.4" y2="1885" stroke="#222" stroke-width="1.2" />
<line x1="1163.2" y1="2329.6" x2="1163.2" y2="2325.6" stroke="#222" stroke-width="1.2" />
<line x1="1163.2" y1="1881" x2="1163.2" y2="1885" stroke="#222" stroke-width="1.2" />
<line x1="1206.9" y1="2329.6" x2="1206.9" y2="2325.6" stroke="#222" stroke-width="1.2" />
<line x1="1206.9" y1="1881" x2="1206.9" y2="1885" stroke="#222" stroke-width="1.2" />
<line x1="1250.7" y1="2329.6" x2="1250.7" y2="2325.6" stroke="#222" stroke-width="1.2" />
<line x1="1250.7" y1="1881" x2="1250.7" y2="1885" stroke="#222" stroke-width="1.2" />
<line x1="1294.4" y1="2329.6" x2="1294.4" y2="2325.6" stroke="#222" stroke-width="1.2" />
<line x1="1294.4" y1="1881" x2="1294.4" y2="1885" stroke="#222" stroke-width="1.2" />
<line x1="990.1" y1="1921.4" x2="994.1" y2="1921.4" stroke="#222" stroke-width="1.2" />
<line x1="1335.4" y1="1921.4" x2="1331.4" y2="1921.4" stroke="#222" stroke-width="1.2" />
<line x1="990.1" y1="2003.6" x2="994.1" y2="2003.6" stroke="#222" stroke-width="1.2" />
<line x1="1335.4" y1="2003.6" x2="1331.4" y2="2003.6" stroke="#222" stroke-width="1.2" />
<line x1="990.1" y1="2085.7" x2="994.1" y2="2085.7" stroke="#222" stroke-width="1.2" />
<line x1="1335.4" y1="2085.7" x2="1331.4" y2="2085.7" stroke="#222" stroke-width="1.2" />
<line x1="990.1" y1="2167.9" x2="994.1" y2="2167.9" stroke="#222" stroke-width="1.2" />
<line x1="1335.4" y1="2167.9" x2="1331.4" y2="2167.9" stroke="#222" stroke-width="1.2" />
<line x1="990.1" y1="2250" x2="994.1" y2="2250" stroke="#222" stroke-width="1.2" />
<line x1="1335.4" y1="2250" x2="1331.4" y2="2250" stroke="#222" stroke-width="1.2" />
<text x="1163.4" y="1849" font-size="23.5" text-anchor="middle" font-weight="bold" letter-spacing="0.8">Green</text>
<text x="976.6" y="1930" font-size="25" text-anchor="end" font-weight="bold" >3.4</text>
<text x="976.6" y="2339" font-size="25" text-anchor="end" font-weight="bold" >0</text>
<text x="1353.4" y="1930" font-size="25" font-weight="bold" >2.0</text>
<text x="1362.4" y="2339" font-size="25" font-weight="bold" >0</text>
<text x="967" y="2367" font-size="25" text-anchor="middle" font-weight="bold" letter-spacing="1">10</text>
<text x="1324.5" y="2367" font-size="25" text-anchor="middle" font-weight="bold" letter-spacing="1">200</text>
<text x="1162.8" y="2388.5" font-size="24" text-anchor="middle" font-weight="bold" ><tspan font-style="italic">D</tspan> (nm)</text>
<text x="965.5" y="2125" font-size="24.5" text-anchor="middle" font-weight="bold" transform="rotate(-90 965.5 2125)" letter-spacing="1.3">Photocurrent (µA)</text>
<text x="1383" y="2125" font-size="24.5" text-anchor="middle" font-weight="bold" transform="rotate(-90 1383 2125)" letter-spacing="1.6">Quantum efficiency (%)</text>
<defs><clipPath id="jcRed"><rect x="1553.1" y="1879.5" width="347.9" height="452.6"/></clipPath></defs>
<g clip-path="url(#jcRed)">
<path d="M1553.8,2330.2 L1594.3,2324.3 L1618.1,2286.2 L1639.5,2262.9 L1661.4,2282.6 L1682.4,2214.8 L1705,2081.4 L1727.1,1979 L1747.9,1921.4 L1770,2026.7 L1791.9,1995.7 L1813.3,2017.6 L1836.4,1950.5 L1858.1,1963.6 L1878.8,2112.4 L1901,2238.6" fill="none" stroke="#c01020" stroke-width="2.3" stroke-linejoin="miter"/>
<circle cx="1555" cy="2325.5" r="5.6" fill="#ea1212"/>
<circle cx="1564.5" cy="2326.7" r="5.6" fill="#ea1212"/>
<circle cx="1574" cy="2327.9" r="5.6" fill="#ea1212"/>
<circle cx="1586.4" cy="2324.8" r="5.6" fill="#ea1212"/>
<circle cx="1597.9" cy="2324.3" r="5.6" fill="#ea1212"/>
<circle cx="1608.1" cy="2319.5" r="5.6" fill="#ea1212"/>
<circle cx="1618.1" cy="2256.4" r="5.6" fill="#ea1212"/>
<circle cx="1630" cy="2171.4" r="5.6" fill="#ea1212"/>
<circle cx="1640" cy="2117.9" r="5.6" fill="#ea1212"/>
<circle cx="1651.4" cy="2128.6" r="5.6" fill="#ea1212"/>
<circle cx="1661.7" cy="2146.9" r="5.6" fill="#ea1212"/>
<circle cx="1673.6" cy="2117.9" r="5.6" fill="#ea1212"/>
<circle cx="1683.1" cy="2072.6" r="5.6" fill="#ea1212"/>
<circle cx="1695.5" cy="2044.5" r="5.6" fill="#ea1212"/>
<circle cx="1705" cy="2013.6" r="5.6" fill="#ea1212"/>
<circle cx="1716.9" cy="1989" r="5.6" fill="#ea1212"/>
<circle cx="1726.9" cy="1950" r="5.6" fill="#ea1212"/>
<circle cx="1738.3" cy="1980.7" r="5.6" fill="#ea1212"/>
<circle cx="1748.6" cy="2005.2" r="5.6" fill="#ea1212"/>
<circle cx="1760.2" cy="1980.7" r="5.6" fill="#ea1212"/>
<circle cx="1771.7" cy="1960" r="5.6" fill="#ea1212"/>
<circle cx="1781.9" cy="1956" r="5.6" fill="#ea1212"/>
<circle cx="1791.9" cy="1960" r="5.6" fill="#ea1212"/>
<circle cx="1803.8" cy="1950" r="5.6" fill="#ea1212"/>
<circle cx="1814" cy="1921.4" r="5.6" fill="#ea1212"/>
<circle cx="1824" cy="1974.3" r="5.6" fill="#ea1212"/>
<circle cx="1834" cy="2023.8" r="5.6" fill="#ea1212"/>
<circle cx="1845.5" cy="2034.5" r="5.6" fill="#ea1212"/>
<circle cx="1857.4" cy="2048.1" r="5.6" fill="#ea1212"/>
<circle cx="1866.9" cy="2058.3" r="5.6" fill="#ea1212"/>
<circle cx="1878.8" cy="2072.6" r="5.6" fill="#ea1212"/>
<circle cx="1889.5" cy="2083.3" r="5.6" fill="#ea1212"/>
<circle cx="1898.6" cy="2064.8" r="5.6" fill="#ea1212"/>
</g>
<rect x="1553.1" y="1879.5" width="347.9" height="452.6" fill="none" stroke="#000" stroke-width="4.2" />
<line x1="1596.7" y1="2330.1" x2="1596.7" y2="2326.1" stroke="#222" stroke-width="1.2" />
<line x1="1596.7" y1="1881.5" x2="1596.7" y2="1885.5" stroke="#222" stroke-width="1.2" />
<line x1="1640.3" y1="2330.1" x2="1640.3" y2="2326.1" stroke="#222" stroke-width="1.2" />
<line x1="1640.3" y1="1881.5" x2="1640.3" y2="1885.5" stroke="#222" stroke-width="1.2" />
<line x1="1683.9" y1="2330.1" x2="1683.9" y2="2326.1" stroke="#222" stroke-width="1.2" />
<line x1="1683.9" y1="1881.5" x2="1683.9" y2="1885.5" stroke="#222" stroke-width="1.2" />
<line x1="1727.4" y1="2330.1" x2="1727.4" y2="2326.1" stroke="#222" stroke-width="1.2" />
<line x1="1727.4" y1="1881.5" x2="1727.4" y2="1885.5" stroke="#222" stroke-width="1.2" />
<line x1="1771" y1="2330.1" x2="1771" y2="2326.1" stroke="#222" stroke-width="1.2" />
<line x1="1771" y1="1881.5" x2="1771" y2="1885.5" stroke="#222" stroke-width="1.2" />
<line x1="1814.6" y1="2330.1" x2="1814.6" y2="2326.1" stroke="#222" stroke-width="1.2" />
<line x1="1814.6" y1="1881.5" x2="1814.6" y2="1885.5" stroke="#222" stroke-width="1.2" />
<line x1="1858.2" y1="2330.1" x2="1858.2" y2="2326.1" stroke="#222" stroke-width="1.2" />
<line x1="1858.2" y1="1881.5" x2="1858.2" y2="1885.5" stroke="#222" stroke-width="1.2" />
<line x1="1555.1" y1="1921.4" x2="1559.1" y2="1921.4" stroke="#222" stroke-width="1.2" />
<line x1="1899" y1="1921.4" x2="1895" y2="1921.4" stroke="#222" stroke-width="1.2" />
<line x1="1555.1" y1="2003.6" x2="1559.1" y2="2003.6" stroke="#222" stroke-width="1.2" />
<line x1="1899" y1="2003.6" x2="1895" y2="2003.6" stroke="#222" stroke-width="1.2" />
<line x1="1555.1" y1="2085.7" x2="1559.1" y2="2085.7" stroke="#222" stroke-width="1.2" />
<line x1="1899" y1="2085.7" x2="1895" y2="2085.7" stroke="#222" stroke-width="1.2" />
<line x1="1555.1" y1="2167.9" x2="1559.1" y2="2167.9" stroke="#222" stroke-width="1.2" />
<line x1="1899" y1="2167.9" x2="1895" y2="2167.9" stroke="#222" stroke-width="1.2" />
<line x1="1555.1" y1="2250" x2="1559.1" y2="2250" stroke="#222" stroke-width="1.2" />
<line x1="1899" y1="2250" x2="1895" y2="2250" stroke="#222" stroke-width="1.2" />
<text x="1727" y="1849" font-size="23.5" text-anchor="middle" font-weight="bold" letter-spacing="0.8">Red</text>
<text x="1540" y="1930" font-size="25" text-anchor="end" font-weight="bold" >1.0</text>
<text x="1540" y="2339" font-size="25" text-anchor="end" font-weight="bold" >0</text>
<text x="1915" y="1930" font-size="25" font-weight="bold" >0.65</text>
<text x="1924" y="2339" font-size="25" font-weight="bold" >0</text>
<text x="1556.1" y="2367" font-size="25" text-anchor="middle" font-weight="bold" letter-spacing="1">10</text>
<text x="1900" y="2367" font-size="25" text-anchor="middle" font-weight="bold" letter-spacing="1">200</text>
<text x="1727" y="2388.5" font-size="24" text-anchor="middle" font-weight="bold" ><tspan font-style="italic">D</tspan> (nm)</text>
<text x="1524.5" y="2125" font-size="24.5" text-anchor="middle" font-weight="bold" transform="rotate(-90 1524.5 2125)" letter-spacing="1.3">Photocurrent (µA)</text>
<text x="1952.5" y="2125" font-size="24.5" text-anchor="middle" font-weight="bold" transform="rotate(-90 1952.5 2125)" letter-spacing="1.6">Quantum efficiency (%)</text>
</g>
<text x="366" y="1856.5" font-size="54" >(j)</text></g>
</svg>
</body></html>
